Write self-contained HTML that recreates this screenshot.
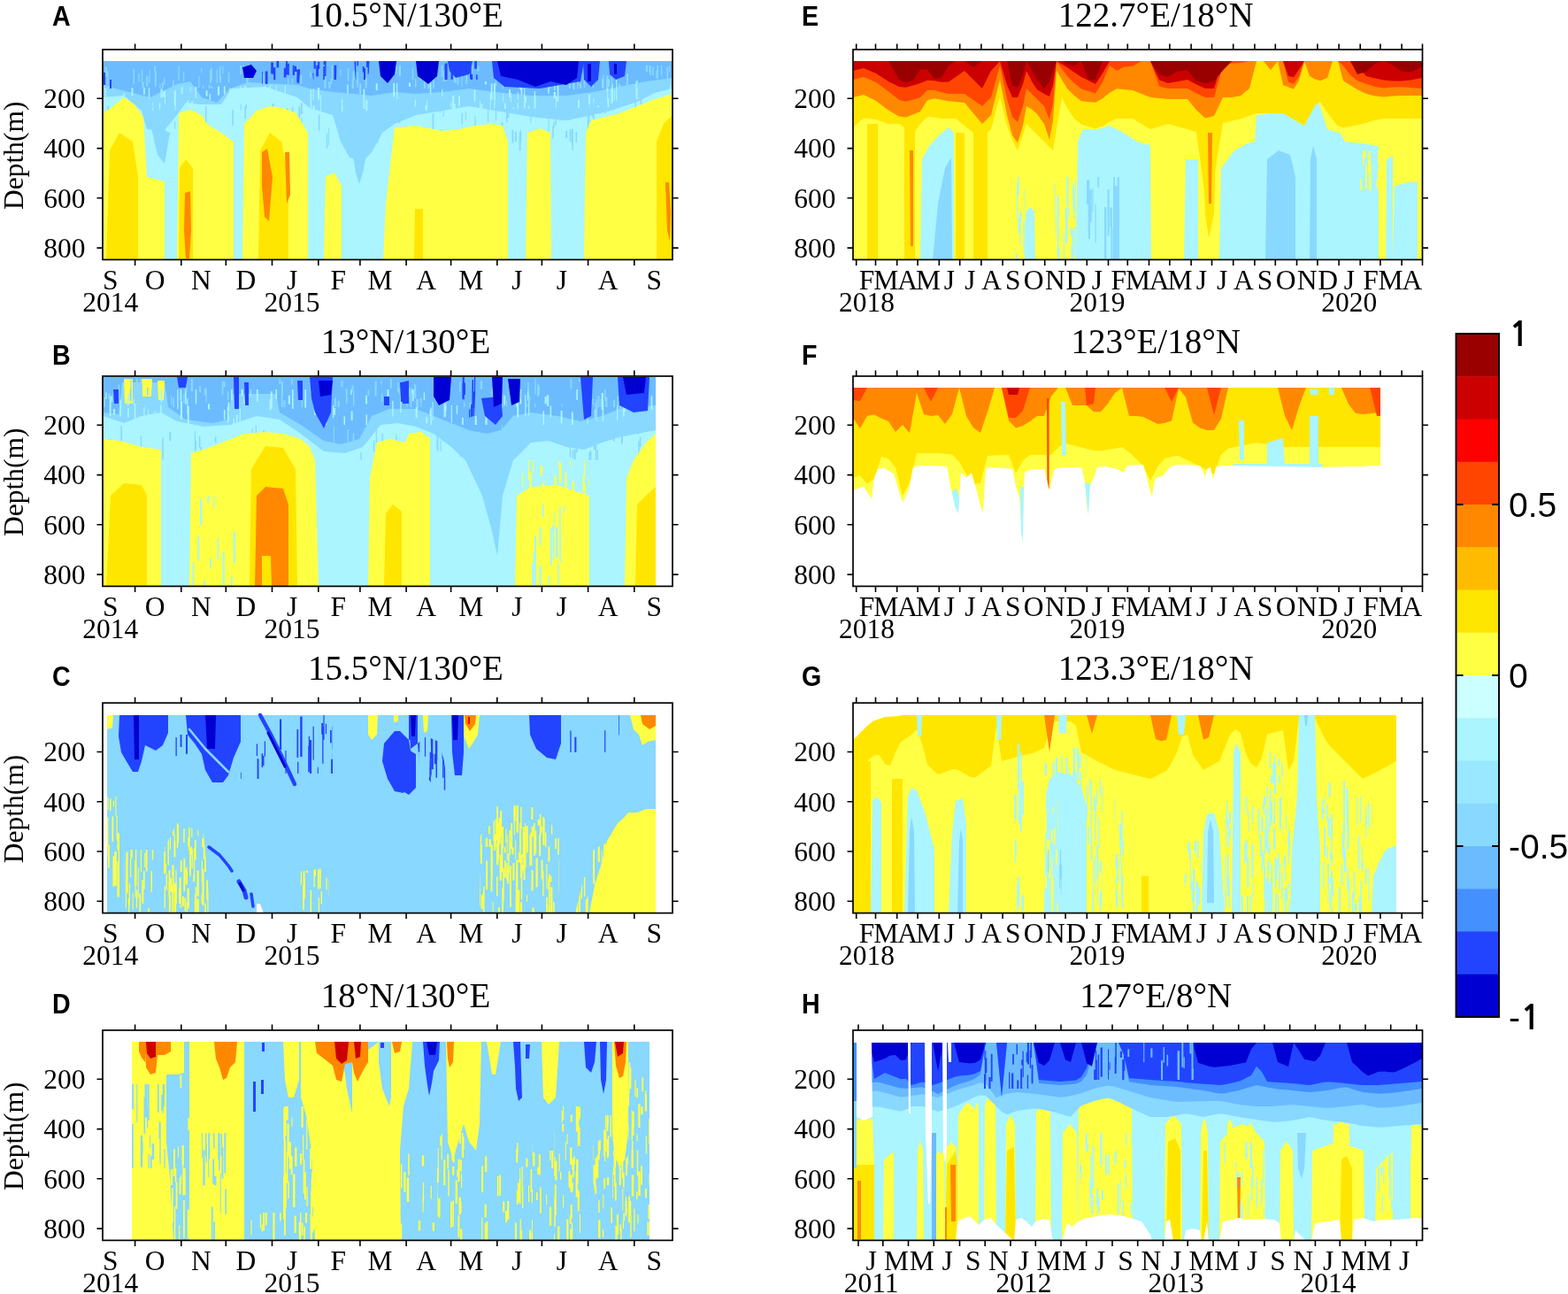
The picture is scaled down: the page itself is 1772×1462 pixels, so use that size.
<!DOCTYPE html><html><head><meta charset="utf-8"><style>html,body{margin:0;padding:0;background:#fff;overflow:hidden}svg{display:block} .s{font-family:'Liberation Serif',serif;font-size:31.5px} .t{font-family:'Liberation Serif',serif;font-size:39px} .l{font-family:'Liberation Sans',sans-serif;font-weight:bold;font-size:30.8px} .c{font-family:'Liberation Sans',sans-serif;font-size:39px}</style></head><body>
<svg width="1772" height="1462" viewBox="0 0 1772 1462">
<rect width="1772" height="1462" fill="#fff"/>
<clipPath id="cpA"><rect x="116" y="56" width="644" height="237.4"/></clipPath>
<g clip-path="url(#cpA)">
<polygon points="116.0,69.0 760.0,69.0 760.0,294.0 116.0,294.0" fill="#aaf5ff"/>
<polygon points="116.0,69.0 116.0,110.0 140.0,108.0 160.0,125.0 166.0,146.0 185.0,148.0 200.0,130.0 210.0,116.0 228.0,118.0 250.0,118.0 262.0,100.0 300.0,98.0 336.0,110.0 350.0,122.0 376.0,130.0 385.0,160.0 395.0,178.0 410.0,182.0 420.0,172.0 432.0,150.0 446.0,140.0 470.0,130.0 500.0,125.0 530.0,120.0 560.0,125.0 600.0,132.0 640.0,136.0 660.0,132.0 690.0,125.0 720.0,115.0 740.0,105.0 760.0,100.0 760.0,69.0" fill="#88d8ff"/>
<polygon points="398.0,170.0 402.0,195.0 406.0,208.0 410.0,195.0 414.0,175.0" fill="#88d8ff"/>
<polygon points="170.0,140.0 178.0,175.0 186.0,185.0 192.0,150.0" fill="#88d8ff"/>
<polygon points="116.0,69.0 116.0,95.0 130.0,100.0 146.0,104.0 170.0,110.0 200.0,95.0 215.0,92.0 228.0,110.0 245.0,116.0 260.0,100.0 280.0,93.0 336.0,96.0 350.0,100.0 376.0,104.0 400.0,106.0 420.0,108.0 446.0,104.0 470.0,106.0 500.0,104.0 530.0,100.0 560.0,104.0 600.0,108.0 640.0,108.0 670.0,104.0 700.0,98.0 730.0,92.0 760.0,88.0 760.0,69.0" fill="#6cbbff"/>
<clipPath id="sc66"><polygon points="116.0,100.0 760.0,88.0 760.0,120.0 116.0,130.0"/></clipPath><path clip-path="url(#sc66)" fill="#aaf5ff" d="M737.6,122.0h1.7v9.7h-1.7zM252.9,88.0h1.6v18.6h-1.6zM251.7,119.2h1.3v19.2h-1.3zM172.2,115.5h1.1v9.7h-1.1zM325.0,107.3h1.4v15.0h-1.4zM392.2,95.8h1.5v10.0h-1.5zM553.7,105.1h1.1v21.6h-1.1zM359.0,99.0h2.1v13.5h-2.1zM118.7,98.1h1.5v18.7h-1.5zM128.5,111.3h1.6v12.6h-1.6zM213.9,81.1h1.0v16.7h-1.0zM212.1,113.1h1.2v7.2h-1.2zM535.5,101.5h1.9v12.9h-1.9zM315.4,113.2h1.6v22.6h-1.6zM118.0,82.0h1.8v19.0h-1.8zM725.2,118.5h1.0v12.6h-1.0zM569.9,116.4h2.0v8.3h-2.0zM204.7,85.0h2.0v21.1h-2.0zM690.5,96.7h2.0v20.0h-2.0zM732.3,120.8h2.1v8.6h-2.1zM468.6,113.3h1.4v7.3h-1.4zM294.4,119.1h1.4v7.1h-1.4zM276.2,84.7h1.1v23.8h-1.1zM696.2,89.1h1.1v24.6h-1.1zM687.5,79.3h1.1v18.4h-1.1zM410.5,100.8h1.8v22.3h-1.8zM290.5,110.5h2.0v10.5h-2.0zM330.2,119.3h1.7v16.2h-1.7zM691.7,95.4h1.3v18.9h-1.3zM157.7,89.1h1.1v10.2h-1.1zM353.5,100.5h1.1v12.5h-1.1zM558.0,93.9h1.8v18.9h-1.8zM196.6,102.7h1.8v16.4h-1.8zM588.8,88.7h1.4v18.8h-1.4zM306.1,82.4h1.5v14.6h-1.5zM592.2,94.0h1.1v24.9h-1.1zM573.0,122.4h1.8v11.1h-1.8zM749.4,119.3h1.9v14.8h-1.9zM406.5,92.6h1.1v13.8h-1.1zM596.7,119.7h1.7v8.7h-1.7zM286.5,105.2h1.1v19.2h-1.1zM629.6,90.0h1.8v24.6h-1.8zM575.0,101.1h1.9v8.8h-1.9zM254.6,116.2h1.3v10.5h-1.3zM238.9,89.4h1.1v10.4h-1.1zM543.5,117.2h1.9v17.2h-1.9zM236.6,106.3h1.5v6.7h-1.5zM444.3,85.8h1.9v23.5h-1.9zM329.3,115.2h1.7v23.8h-1.7zM424.7,84.9h2.1v17.0h-2.1zM509.3,114.5h1.1v6.8h-1.1zM756.0,96.2h2.2v17.4h-2.2zM300.8,106.7h1.2v7.1h-1.2zM265.8,112.6h2.2v11.6h-2.2zM212.3,115.5h1.5v16.6h-1.5zM718.5,91.8h2.1v20.3h-2.1zM694.1,101.8h1.0v11.8h-1.0zM220.7,102.0h1.2v8.9h-1.2zM603.5,108.4h2.1v22.8h-2.1zM259.3,99.7h1.2v20.8h-1.2zM197.8,101.4h1.0v23.0h-1.0zM554.8,94.4h1.8v18.2h-1.8zM512.7,117.2h2.0v23.8h-2.0zM547.9,88.3h2.0v7.1h-2.0zM666.0,83.4h1.8v13.1h-1.8zM150.5,84.7h2.1v6.8h-2.1zM653.7,114.1h1.2v24.7h-1.2zM627.9,109.0h1.2v19.1h-1.2zM584.7,104.5h1.3v24.4h-1.3zM603.7,102.9h1.3v13.5h-1.3zM385.9,112.3h1.6v23.5h-1.6zM574.9,80.4h1.1v16.1h-1.1zM518.2,108.5h1.8v11.4h-1.8zM271.3,81.8h1.2v23.9h-1.2zM179.8,116.4h1.5v7.2h-1.5zM686.1,98.9h1.1v16.3h-1.1zM220.3,80.3h2.0v21.8h-2.0zM665.0,106.8h1.9v22.5h-1.9zM592.1,107.9h1.6v24.2h-1.6zM592.8,109.0h2.1v7.0h-2.1zM576.8,104.8h1.0v10.9h-1.0zM480.4,119.2h1.7v11.5h-1.7zM586.4,83.4h2.2v16.5h-2.2zM648.0,84.7h1.2v16.6h-1.2zM311.6,86.2h1.2v15.5h-1.2zM626.2,88.2h1.2v14.1h-1.2zM276.0,112.4h2.0v7.4h-2.0zM214.6,91.6h1.0v12.1h-1.0zM579.1,121.7h2.1v9.0h-2.1zM321.5,109.3h1.3v22.4h-1.3zM686.5,110.9h1.7v12.7h-1.7zM304.6,91.6h1.4v16.9h-1.4zM215.9,114.2h2.1v24.5h-2.1zM184.0,103.2h1.9v6.2h-1.9zM276.0,95.4h2.1v22.6h-2.1zM181.5,100.4h2.1v10.0h-2.1zM680.4,77.2h1.8v22.6h-1.8zM499.2,100.8h1.2v8.4h-1.2zM511.1,108.0h2.1v17.7h-2.1zM670.4,111.0h1.2v23.0h-1.2zM148.5,98.7h1.9v9.3h-1.9zM675.3,119.1h1.9v9.8h-1.9zM211.3,114.4h1.8v15.2h-1.8zM604.1,107.0h1.2v15.4h-1.2zM321.6,94.3h1.3v22.7h-1.3zM139.5,105.1h1.5v19.3h-1.5zM350.6,101.4h1.6v21.2h-1.6zM625.7,104.1h2.2v7.1h-2.2zM255.0,117.8h1.4v11.2h-1.4zM448.1,87.8h1.2v24.3h-1.2zM685.3,85.5h1.9v17.0h-1.9zM232.7,102.2h1.8v6.5h-1.8zM482.0,113.7h1.4v11.4h-1.4zM619.2,89.7h1.5v15.7h-1.5zM353.5,119.4h2.2v6.4h-2.2zM224.9,122.8h1.3v12.3h-1.3zM462.0,90.6h2.1v7.5h-2.1zM568.2,105.1h1.0v10.2h-1.0zM167.9,93.9h1.3v17.0h-1.3zM361.8,107.2h1.1v21.7h-1.1zM485.9,91.9h1.4v13.9h-1.4zM162.1,86.0h1.7v20.7h-1.7zM186.0,102.2h1.0v15.3h-1.0zM296.7,111.5h1.2v16.0h-1.2zM413.3,113.2h2.0v24.2h-2.0zM747.2,122.1h2.0v12.4h-2.0zM558.3,103.7h1.2v20.3h-1.2zM652.9,112.7h1.9v11.3h-1.9zM587.9,78.2h1.2v24.4h-1.2zM542.1,113.7h1.0v9.2h-1.0zM246.0,84.8h2.1v22.8h-2.1z"/>
<clipPath id="sc67"><polygon points="116.0,74.0 760.0,74.0 760.0,100.0 116.0,100.0"/></clipPath><path clip-path="url(#sc67)" fill="#88d8ff" d="M224.3,86.0h1.2v13.0h-1.2zM513.0,83.7h1.7v10.0h-1.7zM514.7,81.6h1.1v11.9h-1.1zM357.6,72.6h2.1v14.6h-2.1zM559.9,82.1h1.2v15.5h-1.2zM257.8,82.0h1.5v11.5h-1.5zM521.4,84.9h1.2v13.1h-1.2zM329.6,88.8h1.3v6.2h-1.3zM392.7,77.0h1.6v14.7h-1.6zM247.9,85.7h2.1v7.2h-2.1zM474.6,80.1h1.8v10.6h-1.8zM647.0,82.3h1.8v16.6h-1.8zM403.1,81.6h1.6v17.3h-1.6zM366.4,86.4h2.0v13.9h-2.0zM516.6,79.4h1.7v16.9h-1.7zM371.3,92.5h2.2v11.9h-2.2zM160.7,92.7h2.1v7.2h-2.1zM278.5,86.8h2.1v10.0h-2.1zM403.2,87.3h2.1v7.8h-2.1zM207.0,81.3h1.3v10.4h-1.3zM365.8,74.9h1.3v6.0h-1.3zM384.3,78.8h1.1v7.0h-1.1zM271.2,73.7h1.9v10.4h-1.9zM244.7,78.8h1.4v14.7h-1.4zM412.7,88.0h2.0v15.8h-2.0zM174.2,74.4h1.8v7.9h-1.8zM655.0,94.1h1.9v10.1h-1.9zM118.8,75.6h2.1v11.1h-2.1zM567.7,91.2h1.3v13.4h-1.3zM526.3,77.6h1.8v17.5h-1.8zM616.9,88.6h2.0v8.6h-2.0zM235.7,95.8h2.0v5.8h-2.0zM503.1,81.1h1.2v10.9h-1.2zM334.5,68.8h2.1v17.4h-2.1zM274.6,72.1h2.1v10.9h-2.1zM296.2,82.2h1.0v12.6h-1.0zM729.9,70.1h2.1v11.3h-2.1zM733.4,67.4h1.9v14.8h-1.9zM500.6,80.1h1.6v12.2h-1.6zM681.2,83.9h1.3v16.7h-1.3zM165.2,85.9h2.2v12.2h-2.2zM533.3,72.0h1.1v14.8h-1.1zM228.9,96.5h1.2v5.9h-1.2zM201.5,74.6h1.3v16.5h-1.3zM737.0,75.4h1.6v9.7h-1.6zM184.9,88.1h1.6v7.7h-1.6zM561.7,70.6h1.4v11.3h-1.4zM756.0,67.5h1.1v13.9h-1.1zM652.2,90.8h1.5v17.9h-1.5zM150.5,77.5h1.6v17.6h-1.6zM398.6,80.6h2.0v10.1h-2.0zM742.5,72.2h1.5v15.6h-1.5zM594.7,87.4h1.4v15.4h-1.4zM659.8,82.0h1.8v16.9h-1.8zM669.7,93.3h1.3v6.1h-1.3zM591.0,94.0h2.1v8.4h-2.1zM227.0,77.0h1.2v5.3h-1.2zM643.0,84.1h1.8v15.7h-1.8zM397.7,89.1h2.2v17.6h-2.2zM492.2,74.3h1.9v8.2h-1.9zM120.9,80.2h1.5v15.6h-1.5zM156.2,83.3h1.5v8.7h-1.5zM373.7,88.5h1.4v6.3h-1.4zM168.6,78.6h1.1v15.2h-1.1zM690.8,85.1h1.4v16.1h-1.4zM646.9,82.6h1.4v9.2h-1.4zM238.1,76.8h1.8v14.4h-1.8zM662.1,73.4h2.1v9.3h-2.1zM297.6,83.7h1.0v11.5h-1.0zM436.6,81.0h1.9v5.5h-1.9zM685.4,85.3h2.1v16.0h-2.1zM465.8,77.0h1.4v13.1h-1.4zM693.1,73.6h1.3v13.4h-1.3zM350.2,80.6h1.4v7.1h-1.4zM336.7,88.3h1.1v13.4h-1.1zM746.9,71.1h1.3v14.5h-1.3zM374.9,73.7h1.4v17.6h-1.4zM325.1,89.0h1.2v15.8h-1.2zM755.3,93.7h1.7v7.3h-1.7zM601.0,92.2h1.9v12.8h-1.9zM606.7,80.8h1.2v8.1h-1.2zM450.8,70.2h2.2v15.8h-2.2zM489.0,87.8h1.7v12.8h-1.7zM498.7,69.9h1.6v16.6h-1.6zM699.0,94.5h2.0v7.2h-2.0zM567.9,82.1h1.2v7.6h-1.2zM331.1,70.0h1.4v14.8h-1.4zM734.1,68.6h1.7v16.4h-1.7zM741.3,79.5h1.9v9.2h-1.9zM447.4,73.9h1.1v9.3h-1.1zM593.4,75.4h1.9v9.3h-1.9zM247.8,74.7h1.6v13.6h-1.6zM339.2,85.0h2.0v10.1h-2.0zM479.0,88.1h1.8v16.2h-1.8zM707.9,83.5h2.1v17.0h-2.1zM182.9,93.0h1.8v10.1h-1.8zM468.9,89.0h1.5v9.4h-1.5zM620.4,95.2h2.0v6.5h-2.0zM483.4,88.5h2.2v17.2h-2.2zM753.4,75.7h1.7v16.0h-1.7zM720.0,90.1h1.1v14.8h-1.1zM195.0,90.7h1.6v10.8h-1.6zM180.3,94.9h1.3v6.6h-1.3zM159.8,78.9h1.5v15.3h-1.5zM236.9,79.0h1.9v15.0h-1.9zM174.8,80.8h2.0v16.9h-2.0zM621.3,75.2h2.1v13.1h-2.1zM629.9,86.1h1.6v5.2h-1.6zM251.2,66.3h1.2v17.2h-1.2zM539.5,74.5h1.9v6.0h-1.9z"/>
<clipPath id="sc68"><polygon points="116.0,120.0 760.0,110.0 760.0,170.0 116.0,170.0"/></clipPath><path clip-path="url(#sc68)" fill="#88d8ff" d="M578.4,146.8h2.0v14.7h-2.0zM503.7,113.6h1.2v7.5h-1.2zM677.5,105.7h1.4v22.9h-1.4zM649.1,106.4h1.1v10.2h-1.1zM197.1,137.4h1.2v8.0h-1.2zM587.9,146.5h1.2v13.8h-1.2zM484.1,149.1h1.4v20.9h-1.4zM489.2,160.2h1.2v13.0h-1.2zM276.4,119.4h1.6v15.0h-1.6zM686.8,151.3h1.2v24.7h-1.2zM305.9,129.2h1.5v19.5h-1.5zM277.9,109.0h1.1v14.0h-1.1zM639.2,148.1h1.9v7.8h-1.9zM757.3,161.6h1.1v15.2h-1.1zM571.9,117.2h1.6v20.7h-1.6zM368.8,150.5h1.5v17.3h-1.5zM156.3,126.6h1.4v20.2h-1.4zM677.9,133.5h1.0v18.3h-1.0zM262.3,124.3h1.6v17.8h-1.6zM359.8,129.5h1.6v18.3h-1.6zM550.9,121.4h1.3v16.5h-1.3zM460.7,157.8h1.7v22.1h-1.7zM232.1,120.1h1.3v23.5h-1.3zM511.0,159.0h1.8v6.6h-1.8zM337.3,120.5h1.9v19.0h-1.9zM132.5,159.3h1.6v7.3h-1.6zM391.2,122.8h1.6v9.1h-1.6zM582.0,148.9h1.9v11.4h-1.9zM451.0,128.6h1.3v10.8h-1.3zM627.3,129.1h1.6v12.2h-1.6zM692.3,140.5h1.1v20.7h-1.1zM717.3,99.3h1.5v22.6h-1.5zM329.8,121.3h1.5v6.4h-1.5zM670.2,116.2h1.5v18.9h-1.5zM619.5,130.5h1.0v25.0h-1.0zM717.5,138.3h1.1v7.0h-1.1zM599.2,147.9h1.9v20.9h-1.9zM394.6,150.7h1.3v10.7h-1.3zM488.5,128.4h1.8v20.4h-1.8zM536.5,131.5h1.2v18.7h-1.2zM723.6,104.1h1.7v24.6h-1.7zM559.8,118.2h1.3v17.6h-1.3zM608.3,105.8h1.9v14.8h-1.9zM625.2,138.1h1.3v6.4h-1.3zM324.0,122.6h2.0v17.5h-2.0zM184.3,144.1h1.4v9.8h-1.4zM572.3,119.1h1.3v14.6h-1.3zM323.8,143.9h1.4v12.1h-1.4zM185.7,143.4h1.1v13.6h-1.1zM426.2,137.5h1.3v24.3h-1.3zM566.8,137.7h1.5v21.6h-1.5zM599.3,130.4h1.0v8.7h-1.0zM645.9,145.7h2.0v18.1h-2.0zM719.7,126.3h2.0v18.5h-2.0zM277.7,159.6h1.3v8.1h-1.3zM132.3,134.2h1.7v6.8h-1.7zM127.2,119.3h1.5v12.9h-1.5zM642.7,116.3h1.9v19.8h-1.9zM309.2,162.5h1.7v9.7h-1.7zM255.2,156.3h1.2v11.6h-1.2zM663.8,129.2h1.7v17.2h-1.7zM307.5,113.8h1.9v20.8h-1.9zM624.3,141.9h1.5v14.5h-1.5zM284.7,145.9h1.7v17.5h-1.7zM573.3,115.0h2.0v18.1h-2.0zM497.8,146.4h1.1v14.5h-1.1zM171.6,104.7h1.5v16.3h-1.5zM271.8,112.5h1.1v12.1h-1.1zM646.5,159.9h1.3v12.4h-1.3zM121.3,114.3h2.0v20.0h-2.0zM668.2,112.4h2.0v19.2h-2.0zM453.4,128.0h1.2v7.9h-1.2zM131.1,128.9h1.5v8.6h-1.5zM483.3,104.6h1.9v18.4h-1.9zM521.6,127.7h1.4v13.0h-1.4zM584.7,104.7h1.8v11.2h-1.8zM665.4,117.6h1.1v21.1h-1.1zM496.8,103.2h1.2v24.3h-1.2zM307.4,132.0h2.0v16.8h-2.0zM381.7,124.1h1.4v17.0h-1.4zM650.4,148.9h1.7v11.8h-1.7zM670.3,148.3h1.9v8.9h-1.9zM439.0,109.0h1.2v23.3h-1.2zM632.4,111.5h1.2v25.0h-1.2zM563.9,144.6h1.9v6.7h-1.9zM586.7,149.0h1.9v23.3h-1.9zM392.0,141.8h1.5v23.7h-1.5zM643.7,146.3h1.8v13.7h-1.8zM428.2,137.2h1.2v17.2h-1.2zM371.1,144.6h1.0v19.3h-1.0zM415.2,145.1h1.2v6.4h-1.2zM682.8,111.7h1.8v16.3h-1.8zM539.0,149.1h1.1v13.7h-1.1zM340.5,133.0h1.1v17.4h-1.1zM525.9,125.9h1.1v9.1h-1.1zM339.8,113.4h2.0v15.6h-2.0zM279.8,160.3h1.5v15.7h-1.5zM556.3,149.6h1.5v20.7h-1.5zM500.6,107.7h1.1v24.3h-1.1zM387.4,112.3h1.6v7.1h-1.6z"/>
<polygon points="117.0,82.0 119.0,82.0 119.0,96.0 117.0,96.0" fill="#2244ff"/>
<polygon points="124.0,90.0 126.0,90.0 126.0,100.0 124.0,100.0" fill="#2244ff"/>
<polygon points="506.0,69.0 534.0,69.0 530.0,84.0 515.0,88.0 508.0,80.0" fill="#2244ff"/>
<polygon points="556.0,69.0 660.0,69.0 656.0,92.0 610.0,100.0 570.0,98.0 558.0,88.0" fill="#2244ff"/>
<clipPath id="sc69"><polygon points="296.0,69.0 340.0,69.0 338.0,95.0 296.0,95.0"/></clipPath><path clip-path="url(#sc69)" fill="#2244ff" d="M308.8,77.4h1.4v7.5h-1.4zM330.9,78.3h2.1v6.8h-2.1zM330.8,73.7h1.9v11.2h-1.9zM299.8,80.5h2.7v15.3h-2.7zM332.9,74.8h2.4v6.3h-2.4zM320.8,76.8h2.7v10.7h-2.7zM306.2,70.5h2.7v13.0h-2.7zM312.6,68.0h2.5v8.6h-2.5zM337.3,85.9h2.1v10.9h-2.1zM323.1,64.9h1.8v8.3h-1.8zM309.2,75.9h2.1v14.4h-2.1zM322.8,72.1h2.6v12.4h-2.6zM294.7,81.0h2.1v17.6h-2.1zM324.9,71.7h1.9v13.0h-1.9zM336.6,78.3h2.4v9.2h-2.4zM335.4,78.5h2.9v14.9h-2.9z"/>
<clipPath id="sc70"><polygon points="352.0,69.0 382.0,69.0 380.0,90.0 354.0,90.0"/></clipPath><path clip-path="url(#sc70)" fill="#2244ff" d="M354.6,67.4h2.1v10.4h-2.1zM377.4,73.7h2.9v17.1h-2.9zM381.8,69.3h2.7v7.0h-2.7zM357.2,73.7h2.8v12.9h-2.8zM367.1,68.3h1.4v17.8h-1.4zM365.7,66.5h2.3v6.7h-2.3zM352.3,82.7h2.1v13.1h-2.1zM365.3,75.0h1.6v15.1h-1.6zM359.1,69.8h2.1v8.2h-2.1z"/>
<clipPath id="sc71"><polygon points="400.0,69.0 418.0,69.0 416.0,90.0 402.0,90.0"/></clipPath><path clip-path="url(#sc71)" fill="#2244ff" d="M403.5,64.8h1.5v9.5h-1.5zM415.6,62.8h1.8v20.9h-1.8zM409.8,75.1h1.8v6.4h-1.8zM414.1,63.5h2.7v12.4h-2.7zM400.4,69.5h1.9v21.6h-1.9zM410.9,77.0h2.1v19.2h-2.1z"/>
<clipPath id="sc72"><polygon points="500.0,69.0 540.0,69.0 540.0,90.0 500.0,90.0"/></clipPath><path clip-path="url(#sc72)" fill="#2244ff" d="M520.4,77.1h2.9v8.7h-2.9zM503.2,80.3h1.7v9.3h-1.7zM538.0,84.6h1.6v8.6h-1.6zM536.2,61.5h2.7v16.3h-2.7zM509.6,67.8h2.2v22.0h-2.2zM531.0,69.7h1.3v19.2h-1.3zM502.5,72.6h2.4v20.6h-2.4zM517.2,62.7h3.0v17.1h-3.0zM530.1,66.4h2.5v16.6h-2.5zM531.7,83.8h2.5v11.9h-2.5zM522.7,66.5h2.2v11.6h-2.2zM503.3,71.4h2.3v19.7h-2.3z"/>
<polygon points="274.0,76.0 284.0,73.0 290.0,80.0 286.0,88.0 276.0,88.0" fill="#0000d2"/>
<polygon points="428.0,69.0 448.0,69.0 446.0,84.0 438.0,94.0 430.0,86.0" fill="#0000d2"/>
<polygon points="470.0,69.0 496.0,69.0 494.0,86.0 484.0,95.0 472.0,86.0" fill="#0000d2"/>
<polygon points="562.0,69.0 654.0,69.0 652.0,88.0 640.0,96.0 622.0,92.0 605.0,98.0 585.0,90.0 566.0,86.0" fill="#0000d2"/>
<polygon points="659.0,69.0 678.0,69.0 676.0,90.0 668.0,98.0 660.0,90.0" fill="#2244ff"/>
<polygon points="688.0,69.0 708.0,69.0 706.0,86.0 696.0,90.0 689.0,84.0" fill="#2244ff"/>
<polygon points="664.0,72.0 668.0,72.0 668.0,92.0 664.0,92.0" fill="#0000d2"/>
<polygon points="694.0,72.0 697.0,72.0 697.0,84.0 694.0,84.0" fill="#0000d2"/>
<polygon points="116.0,294.0 116.0,128.0 125.0,122.0 140.0,110.0 152.0,118.0 162.0,132.0 166.0,200.0 186.0,205.0 186.0,294.0 186.0,294.0" fill="#ffff44"/>
<polygon points="200.0,294.0 200.0,294.0 202.0,128.0 215.0,124.0 228.0,130.0 234.0,140.0 250.0,150.0 264.0,160.0 264.0,294.0 264.0,294.0" fill="#ffff44"/>
<polygon points="274.0,294.0 274.0,294.0 276.0,140.0 290.0,125.0 305.0,120.0 320.0,122.0 335.0,128.0 348.0,150.0 348.0,294.0 348.0,294.0" fill="#ffff44"/>
<polygon points="366.0,294.0 366.0,294.0 368.0,200.0 378.0,195.0 386.0,210.0 386.0,294.0 386.0,294.0" fill="#ffff44"/>
<polygon points="433.0,294.0 433.0,294.0 436.0,230.0 446.0,144.0 470.0,142.0 500.0,148.0 518.0,146.0 536.0,142.0 555.0,140.0 568.0,142.0 574.0,160.0 574.0,294.0 574.0,294.0" fill="#ffff44"/>
<polygon points="594.0,294.0 594.0,294.0 596.0,150.0 610.0,145.0 622.0,150.0 623.0,294.0 623.0,294.0" fill="#ffff44"/>
<polygon points="660.0,294.0 660.0,294.0 662.0,150.0 668.0,136.0 700.0,128.0 740.0,112.0 760.0,106.0 760.0,294.0" fill="#ffff44"/>
<polygon points="120.0,294.0 120.0,294.0 124.0,170.0 135.0,150.0 150.0,160.0 156.0,200.0 156.0,294.0 156.0,294.0" fill="#ffe600"/>
<polygon points="202.0,294.0 202.0,294.0 203.0,190.0 210.0,180.0 218.0,190.0 218.0,294.0 218.0,294.0" fill="#ffe600"/>
<polygon points="292.0,294.0 292.0,294.0 294.0,170.0 305.0,150.0 318.0,160.0 326.0,200.0 326.0,294.0 326.0,294.0" fill="#ffe600"/>
<polygon points="468.0,294.0 468.0,294.0 469.0,236.0 478.0,236.0 478.0,294.0 478.0,294.0" fill="#ffe600"/>
<polygon points="742.0,294.0 742.0,294.0 742.0,160.0 750.0,140.0 760.0,130.0 760.0,294.0" fill="#ffe600"/>
<polygon points="209.0,218.0 215.0,216.0 216.0,260.0 214.0,292.0 210.0,292.0 208.0,260.0" fill="#ff8800"/>
<polygon points="296.0,172.0 302.0,168.0 308.0,200.0 304.0,250.0 299.0,245.0 296.0,210.0" fill="#ff8800"/>
<polygon points="322.0,172.0 327.0,172.0 328.0,220.0 324.0,230.0" fill="#ff8800"/>
<polygon points="752.0,206.0 756.0,206.0 758.0,240.0 757.0,272.0 754.0,260.0" fill="#ff8800"/>
</g>
<rect x="116" y="56" width="644" height="237.4" fill="none" stroke="#000" stroke-width="1.7"/>
<text x="96.5" y="122.1" text-anchor="end" class="s">200</text>
<text x="96.5" y="178.4" text-anchor="end" class="s">400</text>
<text x="96.5" y="234.6" text-anchor="end" class="s">600</text>
<text x="96.5" y="290.9" text-anchor="end" class="s">800</text>
<path d="M109.5,111.3H116M760,111.3H766.5M109.5,167.6H116M760,167.6H766.5M109.5,223.8H116M760,223.8H766.5M109.5,280.1H116M760,280.1H766.5M152.6,49.5V56M152.6,293.4V299.9M204.8,49.5V56M204.8,293.4V299.9M255.3,49.5V56M255.3,293.4V299.9M307.5,49.5V56M307.5,293.4V299.9M359.8,49.5V56M359.8,293.4V299.9M406.9,49.5V56M406.9,293.4V299.9M459.1,49.5V56M459.1,293.4V299.9M509.6,49.5V56M509.6,293.4V299.9M561.8,49.5V56M561.8,293.4V299.9M612.4,49.5V56M612.4,293.4V299.9M664.6,49.5V56M664.6,293.4V299.9M716.8,49.5V56M716.8,293.4V299.9" stroke="#000" stroke-width="1.6" fill="none"/>
<text x="124.7" y="326.6" text-anchor="middle" class="s">S</text>
<text x="175.2" y="326.6" text-anchor="middle" class="s">O</text>
<text x="227.4" y="326.6" text-anchor="middle" class="s">N</text>
<text x="277.9" y="326.6" text-anchor="middle" class="s">D</text>
<text x="330.1" y="326.6" text-anchor="middle" class="s">J</text>
<text x="382.3" y="326.6" text-anchor="middle" class="s">F</text>
<text x="429.5" y="326.6" text-anchor="middle" class="s">M</text>
<text x="481.7" y="326.6" text-anchor="middle" class="s">A</text>
<text x="532.2" y="326.6" text-anchor="middle" class="s">M</text>
<text x="584.4" y="326.6" text-anchor="middle" class="s">J</text>
<text x="634.9" y="326.6" text-anchor="middle" class="s">J</text>
<text x="687.1" y="326.6" text-anchor="middle" class="s">A</text>
<text x="739.3" y="326.6" text-anchor="middle" class="s">S</text>
<text x="124.7" y="351.9" text-anchor="middle" class="s">2014</text>
<text x="330.1" y="351.9" text-anchor="middle" class="s">2015</text>
<text transform="translate(25.5,175.7) rotate(-90)" text-anchor="middle" class="s">Depth(m)</text>
<text x="458.5" y="30.0" text-anchor="middle" class="t">10.5°N/130°E</text>
<text transform="translate(59,28.5) scale(0.93,1)" class="l">A</text>
<clipPath id="cpB"><rect x="116" y="425" width="644" height="237.4"/></clipPath>
<g clip-path="url(#cpB)">
<polygon points="116.0,426.0 741.0,426.0 741.0,663.0 116.0,663.0" fill="#aaf5ff"/>
<polygon points="116.0,426.0 116.0,470.0 140.0,478.0 160.0,470.0 182.0,466.0 200.0,476.0 230.0,482.0 260.0,480.0 290.0,470.0 316.0,474.0 340.0,490.0 366.0,510.0 390.0,512.0 410.0,505.0 430.0,480.0 450.0,478.0 470.0,482.0 490.0,490.0 510.0,505.0 526.0,520.0 545.0,560.0 556.0,600.0 562.0,628.0 568.0,560.0 580.0,520.0 600.0,500.0 620.0,498.0 640.0,505.0 660.0,508.0 680.0,500.0 700.0,494.0 720.0,490.0 741.0,486.0 741.0,426.0" fill="#88d8ff"/>
<polygon points="116.0,426.0 116.0,466.0 134.0,468.0 138.0,432.0 186.0,432.0 190.0,460.0 210.0,474.0 240.0,478.0 258.0,474.0 262.0,445.0 312.0,445.0 316.0,466.0 340.0,480.0 366.0,498.0 385.0,502.0 406.0,496.0 420.0,470.0 440.0,462.0 470.0,462.0 490.0,470.0 510.0,478.0 530.0,486.0 550.0,490.0 566.0,486.0 580.0,470.0 600.0,466.0 630.0,470.0 656.0,476.0 680.0,470.0 700.0,462.0 720.0,460.0 741.0,458.0 741.0,426.0" fill="#6cbbff"/>
<polygon points="140.0,428.0 150.0,428.0 150.0,456.0 141.0,456.0" fill="#ffff44"/>
<polygon points="160.0,428.0 172.0,428.0 171.0,448.0 161.0,448.0" fill="#ffff44"/>
<polygon points="178.0,430.0 186.0,430.0 185.0,452.0 179.0,452.0" fill="#ffff44"/>
<clipPath id="sc73"><polygon points="116.0,440.0 741.0,440.0 741.0,480.0 116.0,480.0"/></clipPath><path clip-path="url(#sc73)" fill="#aaf5ff" d="M705.0,454.7h2.0v10.0h-2.0zM220.8,438.9h1.5v17.7h-1.5zM534.5,451.5h1.5v10.4h-1.5zM252.9,463.0h1.5v11.3h-1.5zM618.1,446.2h2.1v12.7h-2.1zM470.6,451.0h1.9v10.5h-1.9zM181.5,433.7h2.0v20.5h-2.0zM263.5,473.0h1.6v10.1h-1.6zM127.8,461.9h2.1v6.3h-2.1zM548.5,458.1h2.1v22.9h-2.1zM651.3,436.6h1.6v15.3h-1.6zM211.8,461.0h1.8v19.7h-1.8zM593.2,446.0h1.2v24.4h-1.2zM344.3,435.9h1.7v24.5h-1.7zM212.0,459.0h1.8v23.2h-1.8zM413.5,468.5h1.5v19.1h-1.5zM717.7,433.0h1.7v24.4h-1.7zM203.9,452.9h2.1v20.4h-2.1zM150.7,451.1h1.3v6.9h-1.3zM481.2,471.2h2.0v7.4h-2.0zM486.4,460.6h1.4v19.7h-1.4zM364.5,436.2h1.6v24.6h-1.6zM188.7,472.2h1.1v10.9h-1.1zM597.1,447.8h1.2v22.0h-1.2zM700.8,451.6h1.1v9.8h-1.1zM143.7,450.2h1.9v8.4h-1.9zM515.8,458.1h1.4v9.9h-1.4zM371.9,444.7h1.7v12.0h-1.7zM522.1,471.8h1.7v13.4h-1.7zM174.4,464.5h1.4v17.3h-1.4zM466.1,436.0h1.6v17.3h-1.6zM235.0,456.3h2.1v6.2h-2.1zM679.7,444.0h2.1v19.3h-2.1zM261.1,435.0h1.7v17.4h-1.7zM119.2,443.3h1.4v7.7h-1.4zM584.2,454.1h2.0v17.7h-2.0zM330.0,439.0h1.6v22.9h-1.6zM125.9,447.2h1.3v7.4h-1.3zM413.1,446.7h1.8v9.7h-1.8zM396.7,464.6h1.9v10.5h-1.9zM123.7,447.2h1.9v23.0h-1.9zM270.7,460.7h1.2v22.9h-1.2zM613.5,464.2h1.6v20.6h-1.6zM536.7,469.9h2.1v13.7h-2.1zM633.6,464.1h2.0v14.4h-2.0zM388.5,470.3h1.5v14.4h-1.5zM200.3,438.1h1.3v24.2h-1.3zM305.8,442.2h1.9v19.5h-1.9zM355.3,448.6h1.7v20.4h-1.7zM680.7,454.3h1.5v21.8h-1.5zM376.0,458.0h1.3v14.0h-1.3zM443.1,452.9h1.4v17.6h-1.4zM272.6,433.3h2.2v13.9h-2.2zM673.7,457.0h1.0v19.1h-1.0zM396.2,439.5h1.3v6.6h-1.3zM211.3,450.3h1.1v18.0h-1.1zM354.9,452.7h2.0v15.3h-2.0zM560.4,444.7h2.1v9.4h-2.1zM144.7,445.0h1.7v6.7h-1.7zM569.3,447.1h1.9v10.5h-1.9zM583.2,436.7h2.0v23.0h-2.0zM282.7,433.6h1.1v14.7h-1.1zM645.9,465.5h1.9v21.7h-1.9zM735.6,447.4h1.7v15.7h-1.7zM703.8,459.0h1.9v11.5h-1.9zM501.6,449.3h2.2v22.2h-2.2zM162.4,459.5h1.2v9.8h-1.2zM485.6,463.5h1.3v6.3h-1.3zM671.9,462.5h1.1v10.6h-1.1zM143.9,461.0h1.9v10.8h-1.9zM151.7,456.3h1.7v17.1h-1.7zM437.5,438.9h2.0v15.2h-2.0zM158.9,473.6h1.5v10.1h-1.5zM478.8,443.6h1.3v8.3h-1.3zM325.8,446.8h2.0v10.0h-2.0zM488.6,453.9h1.0v21.3h-1.0zM615.6,448.0h2.1v8.3h-2.1zM367.2,461.5h2.1v24.4h-2.1zM377.5,461.1h1.5v7.9h-1.5zM181.1,457.4h1.6v15.0h-1.6zM256.8,459.6h1.9v17.8h-1.9zM304.6,451.1h1.9v12.2h-1.9zM595.9,428.4h1.7v24.1h-1.7zM697.0,457.3h1.3v17.2h-1.3zM275.5,447.6h2.0v9.4h-2.0zM509.8,457.9h1.1v19.6h-1.1zM135.4,451.5h1.8v19.1h-1.8zM266.9,468.7h1.7v10.4h-1.7zM663.6,472.3h1.1v6.3h-1.1zM621.6,458.2h1.5v13.3h-1.5zM503.0,451.8h1.5v13.0h-1.5zM452.3,441.5h1.3v25.0h-1.3zM257.6,454.4h1.8v9.7h-1.8zM166.8,462.8h1.0v14.0h-1.0zM208.9,434.4h1.7v22.0h-1.7zM311.4,433.5h1.7v17.5h-1.7zM587.6,431.8h1.6v24.7h-1.6zM289.9,433.6h1.8v20.5h-1.8zM464.5,438.2h1.9v6.5h-1.9zM469.7,460.6h2.0v11.7h-2.0zM203.6,433.6h1.7v19.0h-1.7z"/>
<clipPath id="sc74"><polygon points="116.0,428.0 741.0,428.0 741.0,460.0 116.0,460.0"/></clipPath><path clip-path="url(#sc74)" fill="#88d8ff" d="M502.8,443.6h1.6v13.7h-1.6zM215.9,427.7h2.1v14.8h-2.1zM717.8,446.3h1.5v10.1h-1.5zM256.9,442.5h1.6v9.6h-1.6zM397.5,435.4h2.1v7.2h-2.1zM155.2,445.5h1.7v8.3h-1.7zM683.0,439.9h1.4v13.4h-1.4zM153.6,428.1h2.1v15.4h-2.1zM117.2,448.7h1.8v11.2h-1.8zM441.0,428.1h1.8v10.7h-1.8zM530.4,454.7h1.7v6.8h-1.7zM475.2,451.8h1.3v8.4h-1.3zM493.8,428.2h1.2v10.1h-1.2zM504.5,439.2h1.1v14.7h-1.1zM415.5,440.4h1.7v6.3h-1.7zM157.1,441.0h1.6v7.1h-1.6zM701.5,433.0h1.8v13.7h-1.8zM430.9,444.8h1.5v9.3h-1.5zM474.8,449.4h2.0v6.2h-2.0zM158.9,433.0h1.9v10.6h-1.9zM250.7,430.8h1.7v15.1h-1.7zM723.8,436.4h1.4v5.7h-1.4zM604.3,428.0h1.5v17.6h-1.5zM468.1,434.3h2.1v15.7h-2.1zM534.5,429.8h2.0v17.0h-2.0zM697.3,447.3h2.0v13.6h-2.0zM390.8,439.1h1.8v16.6h-1.8zM195.2,449.2h1.9v10.7h-1.9zM449.2,431.8h1.6v10.9h-1.6zM267.7,443.8h2.0v8.7h-2.0zM166.0,437.6h1.6v9.1h-1.6zM519.1,430.7h1.5v12.1h-1.5zM459.5,455.1h1.1v5.8h-1.1zM209.5,426.1h1.9v17.1h-1.9zM377.8,449.5h1.9v10.3h-1.9zM232.6,438.1h1.1v17.2h-1.1zM557.0,431.6h1.8v12.3h-1.8zM707.2,423.2h1.3v13.6h-1.3zM147.5,423.2h1.1v17.9h-1.1zM555.7,438.3h1.6v9.2h-1.6zM252.6,430.9h2.0v6.4h-2.0zM350.6,426.1h2.0v18.0h-2.0zM730.7,454.8h1.1v7.4h-1.1zM161.1,456.1h2.1v7.3h-2.1zM675.5,447.6h1.9v16.5h-1.9zM471.0,451.3h1.0v16.3h-1.0zM193.0,447.4h1.2v10.1h-1.2zM463.5,445.1h1.7v16.3h-1.7zM158.2,427.4h1.4v5.8h-1.4zM571.8,452.3h1.0v14.5h-1.0zM225.1,435.9h1.9v7.6h-1.9zM597.9,447.8h1.4v6.7h-1.4zM490.7,439.9h1.5v12.4h-1.5zM731.2,431.0h1.7v13.2h-1.7zM491.7,440.1h1.1v6.8h-1.1zM684.3,448.8h2.1v12.1h-2.1zM533.7,437.2h1.4v8.1h-1.4zM634.3,456.5h1.2v5.6h-1.2zM122.5,444.4h1.9v6.6h-1.9zM398.9,441.6h1.5v17.1h-1.5zM587.7,445.2h1.0v5.6h-1.0zM460.8,438.2h2.1v9.8h-2.1zM644.4,426.4h1.9v12.9h-1.9zM608.2,436.2h1.8v9.8h-1.8zM430.5,429.5h1.2v5.2h-1.2zM317.7,443.8h1.9v16.5h-1.9zM166.9,453.1h1.8v12.1h-1.8zM594.9,455.6h1.4v5.9h-1.4zM320.5,452.3h2.0v13.6h-2.0zM607.1,433.6h1.6v14.3h-1.6zM542.9,429.8h2.2v10.3h-2.2zM207.1,444.5h1.3v11.3h-1.3zM678.2,451.1h1.2v9.1h-1.2zM317.9,431.0h2.1v15.1h-2.1zM693.1,451.5h1.9v12.2h-1.9zM669.4,450.5h1.5v7.0h-1.5zM534.2,437.6h1.6v13.3h-1.6zM673.5,450.8h1.4v10.2h-1.4zM423.6,430.4h2.1v17.1h-2.1zM653.9,426.8h2.0v5.0h-2.0zM315.5,428.0h1.8v5.9h-1.8zM661.2,435.6h1.6v10.8h-1.6zM707.5,430.1h2.0v17.0h-2.0zM381.6,453.0h2.1v8.0h-2.1zM369.8,434.2h1.7v7.7h-1.7zM723.2,441.9h2.1v13.9h-2.1zM385.3,429.8h2.2v7.4h-2.2zM663.3,442.3h1.6v11.6h-1.6zM665.0,449.0h1.8v12.5h-1.8zM329.3,423.3h1.4v11.3h-1.4zM671.7,455.3h1.3v8.7h-1.3zM532.7,426.8h1.1v9.5h-1.1zM523.9,453.7h1.5v10.1h-1.5zM230.8,438.7h2.0v8.0h-2.0zM568.3,445.8h1.6v14.0h-1.6zM585.0,439.6h1.3v9.2h-1.3zM353.8,452.4h2.1v14.0h-2.1zM271.5,454.2h1.6v7.7h-1.6zM340.7,451.5h1.3v8.6h-1.3zM550.0,449.7h1.8v12.6h-1.8zM133.6,434.4h1.5v16.3h-1.5zM450.6,438.2h2.0v7.5h-2.0zM604.0,455.9h1.5v6.2h-1.5zM463.4,438.6h2.2v16.6h-2.2zM127.3,442.2h2.1v5.4h-2.1zM146.8,439.6h1.9v13.1h-1.9zM132.2,440.3h1.7v14.5h-1.7zM596.2,432.1h1.5v11.7h-1.5zM596.8,448.1h1.3v6.5h-1.3z"/>
<clipPath id="sc75"><polygon points="116.0,480.0 741.0,480.0 741.0,520.0 116.0,520.0"/></clipPath><path clip-path="url(#sc75)" fill="#88d8ff" d="M567.0,469.5h1.0v22.5h-1.0zM666.9,508.9h1.5v10.5h-1.5zM424.7,482.6h1.3v17.4h-1.3zM407.4,511.3h1.4v13.5h-1.4zM335.1,515.4h1.7v6.7h-1.7zM519.5,498.6h1.8v17.5h-1.8zM288.7,480.8h1.2v13.7h-1.2zM226.4,505.1h1.7v6.7h-1.7zM648.7,507.4h1.9v11.8h-1.9zM219.9,487.2h1.2v23.4h-1.2zM530.5,509.7h1.1v7.8h-1.1zM497.5,497.7h1.1v12.2h-1.1zM180.8,507.7h1.1v19.2h-1.1zM692.9,480.1h1.7v18.6h-1.7zM674.8,508.3h1.2v17.9h-1.2zM339.5,502.8h1.8v17.4h-1.8zM587.9,488.3h1.6v22.7h-1.6zM292.1,505.7h1.6v9.9h-1.6zM242.8,493.5h1.7v6.5h-1.7zM349.1,511.5h1.6v12.7h-1.6zM702.6,485.8h1.4v14.4h-1.4zM646.6,508.3h1.5v9.2h-1.5zM265.8,504.6h1.2v17.9h-1.2zM722.8,493.6h1.5v11.4h-1.5zM297.2,486.0h1.6v24.3h-1.6zM650.9,498.4h1.9v12.8h-1.9zM670.7,491.0h2.0v17.1h-2.0zM422.0,498.3h1.2v12.6h-1.2zM281.5,493.9h1.5v12.9h-1.5zM136.4,481.2h1.7v18.1h-1.7zM297.0,495.8h1.7v15.2h-1.7zM701.9,486.3h1.0v15.6h-1.0zM493.9,483.7h1.2v19.0h-1.2zM176.4,508.8h1.2v6.1h-1.2zM721.2,498.4h1.4v22.2h-1.4zM684.3,482.7h1.4v8.2h-1.4zM284.6,484.1h1.1v14.0h-1.1zM131.9,513.6h1.2v7.0h-1.2zM516.3,495.7h1.1v14.1h-1.1zM493.5,485.1h1.9v24.3h-1.9zM224.8,492.9h1.6v12.8h-1.6zM398.8,489.6h1.5v10.6h-1.5zM447.4,490.5h1.1v24.3h-1.1zM142.9,509.2h1.1v11.9h-1.1zM550.2,489.8h1.6v15.5h-1.6zM183.3,494.4h1.5v24.9h-1.5zM220.6,498.3h1.4v9.7h-1.4zM376.7,481.4h1.1v21.5h-1.1zM392.5,485.3h1.4v13.8h-1.4zM585.8,498.0h1.4v10.9h-1.4zM327.5,512.6h1.4v12.4h-1.4zM672.7,497.1h1.7v23.8h-1.7zM493.6,478.4h1.6v12.2h-1.6zM431.4,490.3h1.5v19.3h-1.5zM466.6,494.1h1.7v17.1h-1.7zM114.9,496.2h1.4v16.4h-1.4zM158.9,492.5h1.2v18.6h-1.2zM643.8,501.6h1.3v14.9h-1.3zM665.4,511.1h1.8v16.9h-1.8zM191.3,488.1h1.9v10.2h-1.9zM736.7,495.5h1.6v10.3h-1.6zM123.6,496.3h2.0v8.4h-2.0zM720.4,479.0h1.8v11.4h-1.8zM567.8,493.9h1.9v24.9h-1.9zM120.6,501.3h1.7v11.0h-1.7z"/>
<polygon points="128.0,440.0 134.0,440.0 134.0,456.0 129.0,456.0" fill="#2244ff"/>
<polygon points="200.0,426.0 212.0,426.0 210.0,438.0 202.0,438.0" fill="#2244ff"/>
<polygon points="264.0,426.0 270.0,426.0 270.0,462.0 265.0,462.0" fill="#2244ff"/>
<polygon points="276.0,432.0 281.0,432.0 281.0,458.0 277.0,458.0" fill="#2244ff"/>
<polygon points="336.0,430.0 342.0,430.0 342.0,452.0 337.0,452.0" fill="#2244ff"/>
<polygon points="350.0,426.0 376.0,426.0 374.0,466.0 366.0,484.0 356.0,466.0 352.0,450.0" fill="#2244ff"/>
<polygon points="452.0,432.0 460.0,432.0 460.0,454.0 453.0,454.0" fill="#2244ff"/>
<polygon points="434.0,448.0 440.0,448.0 440.0,458.0 434.0,458.0" fill="#2244ff"/>
<polygon points="544.0,450.0 566.0,448.0 568.0,470.0 560.0,480.0 548.0,470.0" fill="#2244ff"/>
<polygon points="656.0,426.0 670.0,426.0 668.0,470.0 660.0,474.0" fill="#2244ff"/>
<polygon points="698.0,426.0 734.0,426.0 732.0,464.0 716.0,466.0 700.0,458.0" fill="#2244ff"/>
<polygon points="454.0,432.0 462.0,430.0 462.0,456.0 455.0,456.0" fill="#2244ff"/>
<polygon points="360.0,430.0 376.0,430.0 374.0,446.0 362.0,448.0" fill="#0000d2"/>
<polygon points="490.0,426.0 510.0,426.0 508.0,452.0 496.0,458.0 490.0,448.0" fill="#0000d2"/>
<polygon points="556.0,426.0 568.0,426.0 567.0,456.0 558.0,460.0" fill="#0000d2"/>
<polygon points="574.0,428.0 588.0,428.0 587.0,454.0 578.0,458.0" fill="#0000d2"/>
<polygon points="704.0,426.0 730.0,426.0 728.0,444.0 708.0,446.0" fill="#0000d2"/>
<clipPath id="sc76"><polygon points="518.0,426.0 538.0,426.0 536.0,470.0 522.0,474.0 519.0,450.0"/></clipPath><path clip-path="url(#sc76)" fill="#2244ff" d="M533.4,429.1h1.9v32.1h-1.9zM522.5,437.5h1.5v13.4h-1.5zM522.8,420.1h2.0v31.2h-2.0zM522.4,432.7h2.4v15.9h-2.4zM532.1,456.8h2.7v26.0h-2.7zM537.7,463.3h1.5v13.0h-1.5zM530.1,462.5h1.3v18.8h-1.3zM536.0,421.6h1.2v32.2h-1.2zM523.8,432.6h2.1v13.5h-2.1zM535.2,442.2h2.9v32.7h-2.9z"/>
<polygon points="116.0,663.0 116.0,663.0 116.0,496.0 136.0,498.0 160.0,505.0 182.0,508.0 182.0,663.0 182.0,663.0" fill="#ffff44"/>
<polygon points="214.0,663.0 214.0,663.0 216.0,512.0 236.0,506.0 256.0,498.0 276.0,490.0 300.0,488.0 320.0,490.0 340.0,496.0 350.0,505.0 356.0,520.0 360.0,663.0 360.0,663.0" fill="#ffff44"/>
<polygon points="416.0,663.0 416.0,663.0 418.0,540.0 426.0,500.0 440.0,496.0 458.0,500.0 462.0,490.0 476.0,488.0 486.0,495.0 486.0,663.0 486.0,663.0" fill="#ffff44"/>
<polygon points="582.0,663.0 582.0,663.0 584.0,560.0 600.0,550.0 630.0,548.0 650.0,555.0 666.0,560.0 666.0,663.0 666.0,663.0" fill="#ffff44"/>
<polygon points="706.0,663.0 706.0,663.0 708.0,540.0 716.0,520.0 730.0,500.0 741.0,490.0 741.0,663.0 741.0,663.0" fill="#ffff44"/>
<polygon points="120.0,663.0 120.0,663.0 125.0,560.0 140.0,546.0 160.0,548.0 166.0,560.0 166.0,663.0 166.0,663.0" fill="#ffe600"/>
<polygon points="282.0,663.0 282.0,663.0 284.0,530.0 300.0,504.0 320.0,506.0 334.0,530.0 336.0,663.0 336.0,663.0" fill="#ffe600"/>
<polygon points="434.0,663.0 434.0,663.0 436.0,580.0 444.0,570.0 454.0,578.0 454.0,663.0 454.0,663.0" fill="#ffe600"/>
<polygon points="718.0,663.0 718.0,663.0 720.0,570.0 730.0,560.0 741.0,550.0 741.0,663.0 741.0,663.0" fill="#ffe600"/>
<polygon points="288.0,663.0 290.0,560.0 300.0,550.0 320.0,552.0 326.0,570.0 326.0,663.0 307.0,663.0 306.0,628.0 296.0,628.0 296.0,663.0" fill="#ff8800"/>
<clipPath id="sc77"><polygon points="596.0,570.0 640.0,570.0 640.0,663.0 596.0,663.0"/></clipPath><path clip-path="url(#sc77)" fill="#aaf5ff" d="M625.7,579.1h1.1v11.9h-1.1zM628.0,595.9h2.4v34.7h-2.4zM621.7,597.3h2.2v14.3h-2.2zM604.2,620.8h1.7v38.8h-1.7zM639.7,607.2h2.1v9.0h-2.1zM619.7,651.2h1.8v16.3h-1.8zM630.2,635.3h1.5v30.9h-1.5zM609.6,595.4h2.0v20.7h-2.0zM632.2,571.9h1.6v36.1h-1.6zM636.9,571.8h1.4v7.5h-1.4zM603.4,651.4h1.6v12.2h-1.6zM632.3,604.9h1.7v27.5h-1.7zM621.7,606.3h2.2v32.2h-2.2zM609.5,639.2h2.3v29.0h-2.3zM624.6,592.2h2.2v38.3h-2.2zM602.6,624.3h1.5v27.2h-1.5zM604.0,606.1h2.1v35.9h-2.1zM612.9,557.7h1.8v26.3h-1.8zM601.0,636.5h2.4v36.7h-2.4zM623.3,594.8h1.9v6.3h-1.9zM632.4,625.5h1.6v9.6h-1.6z"/>
<clipPath id="sc78"><polygon points="216.0,560.0 270.0,560.0 270.0,663.0 216.0,663.0"/></clipPath><path clip-path="url(#sc78)" fill="#aaf5ff" d="M245.4,608.0h1.6v25.2h-1.6zM251.6,623.9h2.2v38.9h-2.2zM261.0,651.6h1.9v22.0h-1.9zM217.6,635.1h1.9v27.5h-1.9zM223.3,606.1h2.0v27.5h-2.0zM237.1,630.9h1.9v11.3h-1.9zM251.7,642.8h2.2v30.2h-2.2zM234.2,559.5h2.2v8.3h-2.2zM226.0,563.8h2.4v29.4h-2.4zM241.3,547.4h1.3v26.7h-1.3zM230.1,655.0h2.0v15.7h-2.0zM263.7,600.8h2.4v35.8h-2.4z"/>
<clipPath id="sc79"><polygon points="590.0,520.0 666.0,520.0 666.0,560.0 590.0,560.0"/></clipPath><path clip-path="url(#sc79)" fill="#ffff44" d="M632.0,522.7h2.4v22.8h-2.4zM602.2,515.8h1.2v18.1h-1.2zM631.5,521.2h1.2v7.1h-1.2zM658.7,537.0h1.9v18.5h-1.9zM646.6,543.6h2.2v28.1h-2.2zM610.7,526.0h2.5v11.5h-2.5zM659.9,506.5h1.3v32.1h-1.3zM596.9,504.6h1.3v37.2h-1.3zM588.8,535.0h2.3v15.6h-2.3zM614.0,543.2h1.3v19.1h-1.3zM626.5,537.8h2.4v38.7h-2.4zM638.5,533.9h2.0v24.7h-2.0zM659.4,546.5h2.4v14.6h-2.4zM611.9,546.8h1.9v23.3h-1.9zM665.3,540.7h1.6v8.1h-1.6zM620.5,554.9h1.7v6.5h-1.7zM611.4,554.2h2.4v10.6h-2.4zM598.5,533.0h2.1v24.4h-2.1zM643.9,519.4h1.1v7.3h-1.1z"/>
</g>
<rect x="116" y="425" width="644" height="237.4" fill="none" stroke="#000" stroke-width="1.7"/>
<text x="96.5" y="491.1" text-anchor="end" class="s">200</text>
<text x="96.5" y="547.4" text-anchor="end" class="s">400</text>
<text x="96.5" y="603.6" text-anchor="end" class="s">600</text>
<text x="96.5" y="659.9" text-anchor="end" class="s">800</text>
<path d="M109.5,480.3H116M760,480.3H766.5M109.5,536.6H116M760,536.6H766.5M109.5,592.8H116M760,592.8H766.5M109.5,649.1H116M760,649.1H766.5M152.6,418.5V425M152.6,662.4V668.9M204.8,418.5V425M204.8,662.4V668.9M255.3,418.5V425M255.3,662.4V668.9M307.5,418.5V425M307.5,662.4V668.9M359.8,418.5V425M359.8,662.4V668.9M406.9,418.5V425M406.9,662.4V668.9M459.1,418.5V425M459.1,662.4V668.9M509.6,418.5V425M509.6,662.4V668.9M561.8,418.5V425M561.8,662.4V668.9M612.4,418.5V425M612.4,662.4V668.9M664.6,418.5V425M664.6,662.4V668.9M716.8,418.5V425M716.8,662.4V668.9" stroke="#000" stroke-width="1.6" fill="none"/>
<text x="124.7" y="695.6" text-anchor="middle" class="s">S</text>
<text x="175.2" y="695.6" text-anchor="middle" class="s">O</text>
<text x="227.4" y="695.6" text-anchor="middle" class="s">N</text>
<text x="277.9" y="695.6" text-anchor="middle" class="s">D</text>
<text x="330.1" y="695.6" text-anchor="middle" class="s">J</text>
<text x="382.3" y="695.6" text-anchor="middle" class="s">F</text>
<text x="429.5" y="695.6" text-anchor="middle" class="s">M</text>
<text x="481.7" y="695.6" text-anchor="middle" class="s">A</text>
<text x="532.2" y="695.6" text-anchor="middle" class="s">M</text>
<text x="584.4" y="695.6" text-anchor="middle" class="s">J</text>
<text x="634.9" y="695.6" text-anchor="middle" class="s">J</text>
<text x="687.1" y="695.6" text-anchor="middle" class="s">A</text>
<text x="739.3" y="695.6" text-anchor="middle" class="s">S</text>
<text x="124.7" y="720.9" text-anchor="middle" class="s">2014</text>
<text x="330.1" y="720.9" text-anchor="middle" class="s">2015</text>
<text transform="translate(25.5,544.7) rotate(-90)" text-anchor="middle" class="s">Depth(m)</text>
<text x="458.5" y="399.0" text-anchor="middle" class="t">13°N/130°E</text>
<text transform="translate(59,412) scale(0.93,1)" class="l">B</text>
<clipPath id="cpC"><rect x="116" y="794.2" width="644" height="237.4"/></clipPath>
<g clip-path="url(#cpC)">
<polygon points="121.0,808.0 741.0,808.0 741.0,1032.0 121.0,1032.0" fill="#88d8ff"/>
<clipPath id="sc80"><polygon points="121.0,900.0 135.0,900.0 135.0,1032.0 121.0,1032.0"/></clipPath><path clip-path="url(#sc80)" fill="#ffff44" d="M133.8,948.9h1.7v25.0h-1.7zM122.1,954.6h1.8v26.0h-1.8zM120.6,923.6h1.9v33.0h-1.9zM130.4,888.8h1.1v33.5h-1.1zM129.3,961.9h2.5v38.8h-2.5zM127.8,904.6h1.2v6.5h-1.2zM120.2,954.1h1.3v14.2h-1.3zM127.5,967.2h1.7v34.6h-1.7zM126.5,922.5h1.7v28.5h-1.7zM132.4,973.5h2.5v39.9h-2.5zM124.0,902.4h1.5v13.8h-1.5zM132.5,941.2h2.1v19.6h-2.1zM118.6,910.3h2.4v34.8h-2.4zM134.7,941.5h2.4v22.0h-2.4zM131.7,921.9h1.1v27.4h-1.1zM134.5,991.4h1.1v17.3h-1.1zM121.4,900.7h1.2v14.4h-1.2z"/>
<clipPath id="sc81"><polygon points="140.0,960.0 178.0,960.0 178.0,1032.0 140.0,1032.0"/></clipPath><path clip-path="url(#sc81)" fill="#ffff44" d="M164.8,956.1h1.7v28.4h-1.7zM149.7,1009.0h1.0v18.7h-1.0zM160.3,994.4h2.0v26.4h-2.0zM145.1,1014.7h1.2v21.0h-1.2zM141.8,992.5h1.1v33.8h-1.1zM171.8,951.5h1.5v19.8h-1.5zM158.8,948.0h1.1v37.1h-1.1zM142.1,971.4h2.5v38.2h-2.5zM163.2,963.5h1.2v16.6h-1.2zM144.8,1014.9h2.0v7.7h-2.0zM162.0,984.2h1.6v20.2h-1.6zM167.2,1026.1h1.6v7.0h-1.6zM152.0,971.9h2.5v28.6h-2.5zM142.5,962.5h2.0v28.9h-2.0zM170.5,984.3h1.5v23.4h-1.5zM155.8,980.4h1.0v34.0h-1.0zM153.9,1005.3h1.3v20.5h-1.3zM145.8,997.8h1.2v24.7h-1.2zM152.4,998.2h1.1v15.4h-1.1zM147.1,969.5h1.1v21.6h-1.1zM157.4,1009.5h1.7v38.6h-1.7zM153.0,954.9h1.3v37.4h-1.3zM138.1,960.8h2.1v37.0h-2.1zM147.5,951.8h2.2v17.6h-2.2z"/>
<clipPath id="sc82"><polygon points="185.0,960.0 200.0,930.0 230.0,940.0 238.0,1032.0 185.0,1032.0"/></clipPath><path clip-path="url(#sc82)" fill="#ffff44" d="M220.8,1002.0h1.4v29.3h-1.4zM191.7,946.0h1.3v13.8h-1.3zM212.2,946.6h2.1v10.4h-2.1zM229.2,981.7h1.4v20.7h-1.4zM191.9,1011.2h1.0v15.4h-1.0zM228.4,989.3h2.2v33.4h-2.2zM196.8,1000.2h2.4v33.0h-2.4zM214.1,958.0h1.7v31.7h-1.7zM200.6,931.7h1.5v20.6h-1.5zM237.2,983.9h2.2v33.1h-2.2zM190.6,983.3h1.8v31.4h-1.8zM194.4,977.3h1.7v12.0h-1.7zM216.5,959.6h1.4v21.6h-1.4zM196.6,942.7h1.2v22.7h-1.2zM187.7,987.2h1.3v18.5h-1.3zM222.4,1015.5h2.4v19.2h-2.4zM227.5,1010.1h1.1v10.8h-1.1zM205.8,1012.8h2.0v11.4h-2.0zM193.9,1000.4h2.3v33.3h-2.3zM190.9,1013.9h1.6v30.4h-1.6zM194.7,977.7h1.9v30.6h-1.9zM202.8,991.2h1.9v26.1h-1.9zM192.5,991.8h1.5v16.0h-1.5zM187.6,988.8h1.2v13.7h-1.2zM185.3,962.6h1.8v24.5h-1.8zM183.6,1027.2h1.5v9.2h-1.5zM198.4,982.8h1.2v16.3h-1.2zM203.7,1004.1h1.1v22.0h-1.1zM210.8,1020.2h1.0v17.4h-1.0zM219.9,949.2h1.8v22.1h-1.8zM233.2,993.8h1.0v23.0h-1.0zM229.8,941.7h1.4v29.3h-1.4zM196.5,950.3h1.9v18.1h-1.9zM185.8,961.6h1.3v17.9h-1.3zM216.3,914.5h1.1v31.8h-1.1zM209.4,980.3h2.2v12.5h-2.2zM207.2,936.1h1.5v15.8h-1.5zM228.2,947.4h2.3v9.8h-2.3zM185.4,933.5h1.5v19.2h-1.5zM231.3,1020.5h1.5v21.0h-1.5zM190.9,999.9h1.1v24.2h-1.1zM213.2,924.6h1.5v36.4h-1.5zM230.9,938.1h1.0v14.4h-1.0zM202.2,1002.5h1.7v18.6h-1.7zM219.9,1010.2h1.3v30.4h-1.3zM207.4,969.8h1.8v37.3h-1.8zM232.4,924.5h1.9v34.5h-1.9zM227.8,972.4h1.2v24.2h-1.2zM199.8,919.5h1.4v38.7h-1.4zM223.2,937.4h1.1v7.0h-1.1zM238.0,994.8h2.1v35.5h-2.1zM228.9,989.5h1.6v27.2h-1.6zM189.5,945.5h1.4v31.9h-1.4zM197.4,999.0h2.5v22.0h-2.5zM184.9,953.4h1.7v6.1h-1.7zM197.0,997.8h1.5v37.9h-1.5zM237.6,997.6h2.3v20.1h-2.3zM208.5,1014.6h1.7v14.9h-1.7zM203.8,972.3h1.8v12.6h-1.8zM185.6,1001.0h1.3v25.5h-1.3zM215.7,956.6h1.3v9.5h-1.3zM211.5,1003.7h2.3v22.9h-2.3zM218.9,958.0h1.3v31.3h-1.3zM230.4,941.3h2.4v6.7h-2.4zM185.7,975.5h2.3v11.2h-2.3zM209.6,984.6h2.4v14.8h-2.4zM184.2,963.8h1.4v24.0h-1.4zM195.0,926.4h2.1v17.6h-2.1zM233.3,995.3h2.1v20.5h-2.1zM234.3,994.8h1.2v37.1h-1.2zM222.6,983.5h2.2v29.2h-2.2zM190.4,996.7h1.9v14.7h-1.9zM218.3,988.3h1.9v7.9h-1.9zM231.2,952.7h1.8v32.4h-1.8z"/>
<clipPath id="sc83"><polygon points="338.0,985.0 372.0,980.0 372.0,1032.0 338.0,1032.0"/></clipPath><path clip-path="url(#sc83)" fill="#ffff44" d="M359.8,1014.0h1.2v29.9h-1.2zM362.6,1006.9h1.4v14.7h-1.4zM350.6,1005.8h1.5v29.3h-1.5zM368.5,991.8h1.2v13.6h-1.2zM359.0,971.1h1.4v33.3h-1.4zM342.1,999.6h1.8v28.6h-1.8zM339.7,981.9h1.2v17.5h-1.2zM371.7,992.9h2.5v19.7h-2.5zM360.8,968.0h1.9v35.7h-1.9zM342.6,971.1h1.9v27.5h-1.9zM342.7,991.8h2.3v23.5h-2.3zM354.4,968.8h1.3v33.1h-1.3zM345.9,976.9h2.2v9.0h-2.2zM354.9,979.9h2.1v9.9h-2.1z"/>
<clipPath id="sc84"><polygon points="542.0,946.0 562.0,910.0 600.0,910.0 632.0,940.0 632.0,1032.0 542.0,1032.0"/></clipPath><path clip-path="url(#sc84)" fill="#ffff44" d="M607.6,926.1h2.4v6.4h-2.4zM620.9,989.8h2.5v6.6h-2.5zM561.8,931.2h2.3v40.0h-2.3zM564.2,930.1h2.1v15.5h-2.1zM613.3,919.4h2.3v35.7h-2.3zM561.0,953.9h2.4v23.4h-2.4zM592.1,949.6h1.6v8.7h-1.6zM599.4,940.6h1.9v37.6h-1.9zM585.0,1005.4h2.3v39.8h-2.3zM556.6,1019.1h1.0v10.8h-1.0zM566.3,955.2h2.0v30.4h-2.0zM550.4,911.1h2.3v9.4h-2.3zM591.2,941.7h1.7v34.6h-1.7zM627.2,947.1h1.8v12.1h-1.8zM616.0,940.5h1.4v16.6h-1.4zM580.4,910.3h2.4v17.4h-2.4zM583.5,907.5h2.4v33.1h-2.4zM617.3,1013.8h1.7v18.8h-1.7zM543.7,1011.2h2.1v15.8h-2.1zM585.8,963.0h2.4v11.4h-2.4zM545.2,1009.2h2.5v7.5h-2.5zM611.6,971.5h1.9v21.7h-1.9zM547.8,903.7h2.0v14.7h-2.0zM575.3,938.3h1.5v28.0h-1.5zM594.8,933.0h1.9v30.0h-1.9zM622.2,1002.3h2.2v33.2h-2.2zM572.7,943.0h1.0v28.8h-1.0zM563.1,1024.9h1.8v10.9h-1.8zM603.1,929.9h1.5v37.0h-1.5zM604.7,938.2h1.5v26.6h-1.5zM619.3,993.0h1.1v11.9h-1.1zM593.3,933.6h1.2v34.4h-1.2zM548.7,946.7h2.3v10.4h-2.3zM584.5,1008.3h2.1v24.6h-2.1zM540.8,989.1h1.6v32.8h-1.6zM617.3,975.9h1.2v28.3h-1.2zM609.2,942.6h1.9v24.7h-1.9zM588.2,911.7h1.4v24.9h-1.4zM554.6,985.4h1.8v21.9h-1.8zM619.6,1021.7h2.2v17.5h-2.2zM565.1,915.9h2.0v19.9h-2.0zM546.1,1001.8h1.4v40.0h-1.4zM549.1,972.5h2.0v32.7h-2.0zM613.2,983.5h1.3v29.0h-1.3zM561.2,911.1h1.8v36.1h-1.8zM578.3,957.3h2.3v7.9h-2.3zM592.2,961.8h2.3v18.7h-2.3zM583.2,971.7h1.7v22.1h-1.7zM625.1,1018.9h1.6v20.4h-1.6zM542.8,931.5h1.4v38.2h-1.4zM601.4,1025.4h2.3v11.7h-2.3zM542.9,954.2h1.9v21.6h-1.9zM576.1,991.9h1.7v32.8h-1.7zM609.9,916.5h1.6v27.6h-1.6zM583.9,1018.0h2.4v21.3h-2.4zM559.8,925.0h1.9v23.7h-1.9zM600.5,983.2h2.1v23.2h-2.1zM619.4,956.4h2.0v17.0h-2.0zM623.0,907.0h1.3v35.5h-1.3zM564.6,965.5h2.3v29.4h-2.3zM600.6,933.8h2.4v11.2h-2.4zM631.6,970.8h1.2v38.3h-1.2zM579.3,975.3h2.2v19.4h-2.2zM583.1,971.7h2.2v29.8h-2.2zM620.0,987.6h1.6v33.5h-1.6zM630.2,946.7h1.5v19.0h-1.5zM552.1,932.9h2.0v9.3h-2.0zM600.4,912.0h2.0v13.7h-2.0zM563.6,924.2h2.0v29.9h-2.0zM557.5,927.2h1.4v22.8h-1.4zM554.6,954.5h2.2v37.8h-2.2zM591.5,955.7h2.0v38.3h-2.0zM605.5,969.5h2.2v32.8h-2.2zM610.6,933.4h2.2v7.4h-2.2zM588.1,972.3h1.5v19.4h-1.5zM573.3,981.6h1.9v16.8h-1.9zM540.3,1004.7h2.4v19.0h-2.4zM598.4,943.6h2.3v34.6h-2.3zM580.7,906.3h1.1v37.3h-1.1zM575.8,979.8h1.9v7.5h-1.9zM557.9,942.8h2.2v18.2h-2.2zM552.6,947.9h2.2v9.1h-2.2z"/>
<clipPath id="sc85"><polygon points="560.0,930.0 596.0,930.0 596.0,1032.0 560.0,1032.0"/></clipPath><path clip-path="url(#sc85)" fill="#ffff44" d="M574.1,964.4h1.5v22.3h-1.5zM568.1,980.6h1.6v28.4h-1.6zM571.4,936.3h1.0v16.3h-1.0zM588.0,1019.3h2.1v16.5h-2.1zM588.8,979.9h1.4v36.4h-1.4zM582.2,949.4h1.0v21.5h-1.0zM568.3,1002.1h1.3v16.5h-1.3zM582.6,1016.5h1.5v20.4h-1.5zM595.0,1011.2h1.4v7.5h-1.4zM566.8,933.9h2.2v23.8h-2.2zM561.0,990.5h1.5v21.7h-1.5zM590.0,976.9h2.1v6.4h-2.1zM588.2,965.3h2.4v22.2h-2.4zM558.9,933.2h1.9v23.0h-1.9zM572.4,975.1h1.3v19.8h-1.3zM570.1,972.3h2.0v19.6h-2.0zM582.8,997.0h2.4v32.6h-2.4zM562.1,937.7h1.3v9.4h-1.3zM593.0,928.0h1.0v27.3h-1.0zM587.1,926.6h2.0v38.0h-2.0zM564.8,923.8h2.0v14.7h-2.0zM562.1,926.4h1.8v37.2h-1.8zM575.9,1000.8h1.6v7.3h-1.6zM559.5,946.6h1.7v7.3h-1.7zM577.1,921.8h2.0v37.4h-2.0zM562.7,931.7h1.3v20.1h-1.3zM567.3,1002.8h1.7v34.6h-1.7zM566.3,938.5h2.3v20.7h-2.3zM590.7,934.3h2.0v34.1h-2.0zM569.8,956.7h1.6v6.7h-1.6zM595.7,956.8h1.2v8.6h-1.2zM576.1,978.0h1.7v24.2h-1.7z"/>
<clipPath id="sc86"><polygon points="650.0,1032.0 660.0,990.0 670.0,960.0 690.0,950.0 690.0,1032.0"/></clipPath><path clip-path="url(#sc86)" fill="#ffff44" d="M688.3,957.0h1.8v33.4h-1.8zM675.7,944.1h2.1v29.9h-2.1zM679.6,961.2h1.0v19.1h-1.0zM683.6,1019.1h1.8v16.8h-1.8zM651.0,996.7h1.6v39.9h-1.6zM677.5,990.3h2.3v11.1h-2.3zM670.5,1015.8h2.4v13.1h-2.4zM651.5,1018.8h2.0v16.5h-2.0zM654.2,996.7h1.7v39.9h-1.7zM648.5,961.9h2.2v37.3h-2.2zM663.5,1012.9h1.1v31.6h-1.1zM684.5,953.4h1.6v32.3h-1.6zM670.2,960.2h1.8v38.6h-1.8zM656.6,983.1h1.4v32.7h-1.4zM653.6,991.6h1.8v24.8h-1.8zM661.7,1016.1h2.4v16.8h-2.4zM648.5,1004.1h1.9v15.3h-1.9zM659.8,991.0h1.5v21.9h-1.5zM651.1,1022.7h2.1v16.5h-2.1zM671.5,1002.9h2.4v6.7h-2.4zM688.3,983.0h1.6v30.9h-1.6zM658.9,956.0h1.6v12.7h-1.6zM683.5,987.4h1.2v13.2h-1.2zM682.0,935.4h2.2v37.3h-2.2zM680.3,1014.2h2.4v9.2h-2.4z"/>
<polygon points="666.0,1032.0 666.0,1032.0 672.0,1000.0 680.0,975.0 686.0,950.0 692.0,940.0 698.0,930.0 705.0,924.0 710.0,918.0 720.0,918.0 730.0,914.0 741.0,914.0 741.0,1032.0" fill="#ffff44"/>
<polygon points="121.0,808.0 128.0,808.0 127.0,822.0 121.0,824.0" fill="#ffff44"/>
<polygon points="416.0,808.0 427.0,808.0 426.0,830.0 420.0,836.0 416.0,830.0" fill="#ffff44"/>
<polygon points="445.0,808.0 450.0,808.0 450.0,815.0 445.0,816.0" fill="#ffff44"/>
<polygon points="478.0,808.0 484.0,808.0 483.0,826.0 479.0,828.0" fill="#ffff44"/>
<polygon points="712.0,808.0 741.0,808.0 741.0,836.0 732.0,838.0 726.0,842.0 722.0,830.0 716.0,824.0" fill="#ffff44"/>
<polygon points="522.0,808.0 542.0,808.0 540.0,830.0 534.0,840.0 530.0,846.0 526.0,836.0 522.0,826.0" fill="#ffff44"/>
<polygon points="525.0,808.0 538.0,808.0 537.0,818.0 531.0,826.0 526.0,818.0" fill="#ff8800"/>
<polygon points="529.0,810.0 531.0,810.0 531.0,818.0 529.0,818.0" fill="#ff0000"/>
<polygon points="724.0,808.0 741.0,808.0 741.0,820.0 734.0,824.0 726.0,818.0" fill="#ff8800"/>
<polygon points="135.0,808.0 190.0,808.0 190.0,828.0 184.0,842.0 176.0,848.0 164.0,842.0 160.0,860.0 156.0,872.0 150.0,872.0 144.0,862.0 137.0,850.0 134.0,832.0" fill="#2244ff"/>
<polygon points="210.0,808.0 272.0,808.0 272.0,838.0 264.0,856.0 258.0,876.0 252.0,884.0 240.0,884.0 232.0,870.0 228.0,852.0 220.0,840.0 212.0,830.0" fill="#2244ff"/>
<polygon points="434.0,840.0 446.0,826.0 452.0,826.0 462.0,836.0 466.0,860.0 462.0,884.0 456.0,896.0 446.0,894.0 438.0,880.0 432.0,860.0" fill="#2244ff"/>
<polygon points="462.0,808.0 472.0,808.0 472.0,840.0 464.0,846.0" fill="#2244ff"/>
<polygon points="510.0,808.0 524.0,808.0 524.0,850.0 522.0,876.0 514.0,876.0 511.0,850.0" fill="#2244ff"/>
<polygon points="598.0,808.0 634.0,808.0 634.0,840.0 628.0,858.0 618.0,856.0 606.0,846.0 599.0,830.0" fill="#2244ff"/>
<polygon points="440.0,862.0 452.0,838.0 460.0,846.0 470.0,852.0 470.0,890.0 462.0,898.0 452.0,892.0 444.0,880.0" fill="#2244ff"/>
<polygon points="462.0,808.0 470.0,808.0 470.0,835.0 462.0,836.0" fill="#2244ff"/>
<clipPath id="sc87"><polygon points="472.0,840.0 482.0,832.0 496.0,838.0 502.0,860.0 506.0,892.0 494.0,894.0 484.0,880.0 474.0,866.0"/></clipPath><path clip-path="url(#sc87)" fill="#2244ff" d="M500.4,826.4h1.9v37.7h-1.9zM470.8,876.9h2.8v28.4h-2.8zM485.5,859.6h1.7v17.8h-1.7zM500.1,848.8h1.4v30.0h-1.4zM499.6,829.2h2.6v28.0h-2.6zM473.9,880.8h1.8v23.0h-1.8zM490.8,852.1h2.3v11.1h-2.3zM486.8,829.8h1.5v13.1h-1.5zM474.4,874.0h2.2v24.5h-2.2zM499.6,838.9h1.3v13.5h-1.3zM485.7,849.7h2.0v25.9h-2.0zM472.0,870.9h2.1v23.4h-2.1zM484.9,877.7h1.7v9.5h-1.7zM487.0,834.3h2.3v22.6h-2.3zM472.0,830.5h2.3v19.2h-2.3zM501.8,863.9h1.4v29.9h-1.4zM504.2,848.8h1.6v12.7h-1.6zM492.5,852.4h1.5v26.3h-1.5zM487.8,851.5h2.0v17.7h-2.0zM482.5,882.0h2.4v22.3h-2.4zM485.4,865.8h1.4v32.2h-1.4zM491.8,833.2h2.5v26.1h-2.5zM479.9,822.9h1.2v31.9h-1.2zM470.5,850.8h2.7v26.9h-2.7z"/>
<clipPath id="sc88"><polygon points="316.0,808.0 376.0,808.0 376.0,874.0 316.0,874.0"/></clipPath><path clip-path="url(#sc88)" fill="#2244ff" d="M353.6,820.8h1.2v37.6h-1.2zM364.2,821.0h1.3v41.7h-1.3zM314.4,822.8h1.8v19.4h-1.8zM363.2,816.9h1.9v12.8h-1.9zM375.9,850.9h1.3v11.7h-1.3zM315.8,812.4h2.3v34.6h-2.3zM373.0,825.0h1.7v14.6h-1.7zM322.4,847.9h1.2v42.7h-1.2zM335.5,824.0h1.7v32.1h-1.7zM367.8,817.8h1.3v11.5h-1.3zM374.1,857.8h2.2v18.3h-2.2zM350.0,835.9h2.1v40.5h-2.1zM365.4,806.7h1.2v29.1h-1.2zM339.2,809.4h2.4v45.5h-2.4zM375.7,820.8h1.7v25.4h-1.7zM358.8,866.7h1.0v13.7h-1.0zM348.2,842.5h1.7v29.7h-1.7zM348.8,831.9h1.3v34.4h-1.3zM336.1,860.8h1.3v16.8h-1.3z"/>
<clipPath id="sc89"><polygon points="272.0,830.0 300.0,830.0 300.0,880.0 272.0,880.0"/></clipPath><path clip-path="url(#sc89)" fill="#2244ff" d="M270.3,872.8h2.4v14.2h-2.4zM289.8,840.5h1.3v13.6h-1.3zM298.8,837.5h2.3v17.0h-2.3zM290.6,857.2h1.9v38.0h-1.9zM296.4,853.8h2.1v11.5h-2.1zM295.6,851.3h1.5v15.7h-1.5z"/>
<clipPath id="sc90"><polygon points="196.0,830.0 212.0,830.0 212.0,860.0 196.0,860.0"/></clipPath><path clip-path="url(#sc90)" fill="#2244ff" d="M210.0,813.4h2.4v38.3h-2.4zM203.6,823.7h1.9v20.4h-1.9zM198.5,833.1h1.3v21.1h-1.3z"/>
<clipPath id="sc91"><polygon points="640.0,808.0 700.0,808.0 700.0,850.0 640.0,850.0"/></clipPath><path clip-path="url(#sc91)" fill="#2244ff" d="M649.3,832.7h2.1v34.6h-2.1zM644.3,825.4h1.3v28.8h-1.3zM683.1,825.2h1.2v30.0h-1.2zM699.3,795.1h1.7v35.4h-1.7z"/>
<path d="M294.0,808.0L305.0,828.0L318.0,854.0L333.0,886.0" stroke="#2244ff" stroke-width="4.5" fill="none" stroke-linecap="round" stroke-linejoin="round"/>
<path d="M303.0,828.0L313.0,848.0L322.0,866.0" stroke="#0000d2" stroke-width="3" fill="none" stroke-linecap="round" stroke-linejoin="round"/>
<path d="M214.0,824.0L232.0,846.0L246.0,860.0L258.0,872.0" stroke="#88d8ff" stroke-width="2.5" fill="none" stroke-linecap="round" stroke-linejoin="round"/>
<polygon points="151.0,808.0 157.0,808.0 157.0,858.0 152.0,858.0" fill="#0000d2"/>
<polygon points="232.0,808.0 244.0,808.0 243.0,846.0 234.0,846.0" fill="#0000d2"/>
<polygon points="464.0,808.0 470.0,808.0 469.0,832.0 465.0,832.0" fill="#0000d2"/>
<polygon points="511.0,808.0 518.0,808.0 517.0,836.0 512.0,836.0" fill="#0000d2"/>
<path d="M236.0,957.0L248.0,966.0L258.0,978.0L262.0,984.0" stroke="#2244ff" stroke-width="3.5" fill="none" stroke-linecap="round" stroke-linejoin="round"/>
<path d="M270.0,996.0L276.0,1006.0L278.0,1014.0" stroke="#2244ff" stroke-width="5" fill="none" stroke-linecap="round" stroke-linejoin="round"/>
<path d="M271.0,998.0L275.0,1006.0" stroke="#0000d2" stroke-width="3" fill="none" stroke-linecap="round" stroke-linejoin="round"/>
<path d="M284.0,1010.0L286.0,1024.0" stroke="#2244ff" stroke-width="3.5" fill="none" stroke-linecap="round" stroke-linejoin="round"/>
<polygon points="290.0,1021.0 294.0,1021.0 298.0,1032.0 290.0,1032.0" fill="#ffffff"/>
</g>
<rect x="116" y="794.2" width="644" height="237.4" fill="none" stroke="#000" stroke-width="1.7"/>
<text x="96.5" y="860.3" text-anchor="end" class="s">200</text>
<text x="96.5" y="916.6" text-anchor="end" class="s">400</text>
<text x="96.5" y="972.8" text-anchor="end" class="s">600</text>
<text x="96.5" y="1029.1" text-anchor="end" class="s">800</text>
<path d="M109.5,849.5H116M760,849.5H766.5M109.5,905.8H116M760,905.8H766.5M109.5,962.0H116M760,962.0H766.5M109.5,1018.3H116M760,1018.3H766.5M152.6,787.7V794.2M152.6,1031.6000000000001V1038.1000000000001M204.8,787.7V794.2M204.8,1031.6000000000001V1038.1000000000001M255.3,787.7V794.2M255.3,1031.6000000000001V1038.1000000000001M307.5,787.7V794.2M307.5,1031.6000000000001V1038.1000000000001M359.8,787.7V794.2M359.8,1031.6000000000001V1038.1000000000001M406.9,787.7V794.2M406.9,1031.6000000000001V1038.1000000000001M459.1,787.7V794.2M459.1,1031.6000000000001V1038.1000000000001M509.6,787.7V794.2M509.6,1031.6000000000001V1038.1000000000001M561.8,787.7V794.2M561.8,1031.6000000000001V1038.1000000000001M612.4,787.7V794.2M612.4,1031.6000000000001V1038.1000000000001M664.6,787.7V794.2M664.6,1031.6000000000001V1038.1000000000001M716.8,787.7V794.2M716.8,1031.6000000000001V1038.1000000000001" stroke="#000" stroke-width="1.6" fill="none"/>
<text x="124.7" y="1064.8" text-anchor="middle" class="s">S</text>
<text x="175.2" y="1064.8" text-anchor="middle" class="s">O</text>
<text x="227.4" y="1064.8" text-anchor="middle" class="s">N</text>
<text x="277.9" y="1064.8" text-anchor="middle" class="s">D</text>
<text x="330.1" y="1064.8" text-anchor="middle" class="s">J</text>
<text x="382.3" y="1064.8" text-anchor="middle" class="s">F</text>
<text x="429.5" y="1064.8" text-anchor="middle" class="s">M</text>
<text x="481.7" y="1064.8" text-anchor="middle" class="s">A</text>
<text x="532.2" y="1064.8" text-anchor="middle" class="s">M</text>
<text x="584.4" y="1064.8" text-anchor="middle" class="s">J</text>
<text x="634.9" y="1064.8" text-anchor="middle" class="s">J</text>
<text x="687.1" y="1064.8" text-anchor="middle" class="s">A</text>
<text x="739.3" y="1064.8" text-anchor="middle" class="s">S</text>
<text x="124.7" y="1090.1" text-anchor="middle" class="s">2014</text>
<text x="330.1" y="1090.1" text-anchor="middle" class="s">2015</text>
<text transform="translate(25.5,913.9) rotate(-90)" text-anchor="middle" class="s">Depth(m)</text>
<text x="458.5" y="768.2" text-anchor="middle" class="t">15.5°N/130°E</text>
<text transform="translate(59,775) scale(0.93,1)" class="l">C</text>
<clipPath id="cpD"><rect x="116" y="1164" width="644" height="237.4"/></clipPath>
<g clip-path="url(#cpD)">
<polygon points="149.0,1177.0 734.0,1177.0 734.0,1402.0 149.0,1402.0" fill="#88d8ff"/>
<polygon points="149.0,1177.0 208.0,1177.0 208.0,1212.0 200.0,1214.0 188.0,1214.0 188.0,1290.0 192.0,1330.0 196.0,1402.0 149.0,1402.0" fill="#ffff44"/>
<polygon points="214.0,1177.0 228.0,1177.0 228.0,1402.0 214.0,1402.0" fill="#ffff44"/>
<polygon points="228.0,1177.0 276.0,1177.0 276.0,1402.0 228.0,1402.0" fill="#ffff44"/>
<polygon points="320.0,1177.0 338.0,1177.0 338.0,1220.0 332.0,1240.0 326.0,1240.0 322.0,1220.0" fill="#ffff44"/>
<polygon points="340.0,1177.0 388.0,1177.0 388.0,1200.0 392.0,1230.0 398.0,1258.0 398.0,1200.0 428.0,1177.0 428.0,1200.0 432.0,1230.0 440.0,1250.0 442.0,1240.0 442.0,1177.0 466.0,1177.0 462.0,1230.0 456.0,1250.0 452.0,1300.0 453.0,1402.0 356.0,1402.0 352.0,1300.0 346.0,1260.0 340.0,1240.0" fill="#ffff44"/>
<polygon points="504.0,1177.0 544.0,1177.0 542.0,1270.0 538.0,1300.0 530.0,1290.0 524.0,1270.0 518.0,1290.0 512.0,1310.0 506.0,1290.0" fill="#ffff44"/>
<polygon points="550.0,1177.0 566.0,1177.0 560.0,1214.0 556.0,1214.0" fill="#ffff44"/>
<polygon points="612.0,1177.0 632.0,1177.0 628.0,1240.0 620.0,1248.0 614.0,1240.0" fill="#ffff44"/>
<polygon points="692.0,1177.0 710.0,1177.0 710.0,1280.0 706.0,1310.0 700.0,1320.0 694.0,1300.0 692.0,1280.0" fill="#ffff44"/>
<clipPath id="sc92"><polygon points="692.0,1300.0 710.0,1300.0 710.0,1402.0 692.0,1402.0"/></clipPath><path clip-path="url(#sc92)" fill="#ffff44" d="M707.3,1308.1h1.6v19.9h-1.6zM692.9,1296.6h1.3v8.6h-1.3zM709.8,1361.1h1.2v19.3h-1.2zM704.0,1324.8h1.6v16.9h-1.6zM702.7,1298.2h1.1v26.5h-1.1zM709.2,1305.9h1.1v10.1h-1.1zM690.8,1324.7h1.9v29.3h-1.9zM694.0,1312.3h1.7v28.2h-1.7zM703.7,1378.8h1.4v9.1h-1.4zM704.4,1370.8h1.7v8.8h-1.7zM706.6,1356.7h2.0v15.2h-2.0zM694.8,1336.5h1.9v19.9h-1.9zM696.8,1372.1h2.2v23.0h-2.2zM692.9,1318.3h2.3v9.0h-2.3zM703.3,1343.1h1.0v24.6h-1.0zM693.6,1303.5h2.5v15.8h-2.5zM702.3,1292.8h1.5v26.4h-1.5zM702.6,1308.0h1.6v9.1h-1.6zM706.8,1352.1h1.3v22.1h-1.3zM695.8,1289.6h1.4v22.2h-1.4zM702.7,1308.1h1.4v23.1h-1.4zM695.4,1384.9h2.3v26.3h-2.3zM700.5,1383.5h1.4v9.4h-1.4zM699.8,1319.0h1.9v20.0h-1.9zM701.2,1387.7h1.4v16.9h-1.4z"/>
<clipPath id="sc93"><polygon points="149.0,1225.0 202.0,1225.0 202.0,1320.0 149.0,1320.0"/></clipPath><path clip-path="url(#sc93)" fill="#88d8ff" d="M169.2,1282.7h1.0v14.5h-1.0zM160.4,1289.7h1.2v14.5h-1.2zM183.7,1218.2h1.2v39.6h-1.2zM169.8,1305.7h1.8v27.9h-1.8zM198.7,1257.9h1.1v10.8h-1.1zM167.5,1304.1h1.3v23.2h-1.3zM179.5,1267.7h1.3v18.7h-1.3zM166.3,1222.6h2.4v43.5h-2.4zM148.4,1270.0h2.3v49.6h-2.3zM158.8,1282.7h2.3v36.0h-2.3zM182.2,1236.9h2.1v17.8h-2.1zM166.0,1250.9h1.1v23.4h-1.1zM199.9,1296.0h2.0v43.4h-2.0zM163.5,1221.0h2.5v41.6h-2.5zM184.1,1218.0h1.9v31.8h-1.9zM180.4,1267.6h1.3v46.8h-1.3zM197.1,1273.7h1.1v26.0h-1.1zM171.7,1292.1h2.5v17.9h-2.5zM178.0,1215.4h1.7v41.6h-1.7zM154.3,1218.8h1.1v49.3h-1.1zM194.0,1250.9h1.5v38.5h-1.5zM162.5,1239.6h1.7v41.5h-1.7zM149.2,1217.9h1.9v35.4h-1.9zM185.4,1297.9h1.2v39.0h-1.2z"/>
<clipPath id="sc94"><polygon points="192.0,1320.0 228.0,1320.0 228.0,1402.0 192.0,1402.0"/></clipPath><path clip-path="url(#sc94)" fill="#ffff44" d="M202.1,1384.5h1.1v18.5h-1.1zM194.0,1342.3h1.7v38.8h-1.7zM225.9,1376.9h2.3v30.9h-2.3zM218.8,1325.4h1.6v10.0h-1.6zM222.2,1369.0h1.0v39.2h-1.0zM192.7,1320.9h2.4v18.1h-2.4zM195.7,1314.4h2.5v14.5h-2.5zM204.0,1327.6h1.1v11.5h-1.1zM196.8,1363.2h1.5v47.2h-1.5zM211.8,1366.8h2.1v32.7h-2.1zM202.6,1330.4h1.9v19.2h-1.9zM206.4,1301.0h1.6v49.5h-1.6zM207.1,1356.3h1.7v42.5h-1.7zM215.4,1317.7h1.1v12.5h-1.1zM197.8,1310.3h1.5v25.4h-1.5zM216.5,1374.0h1.0v48.1h-1.0zM222.8,1346.6h1.7v48.2h-1.7zM198.7,1335.7h1.8v30.3h-1.8zM222.3,1352.9h2.1v17.8h-2.1zM214.6,1309.9h1.9v42.9h-1.9zM191.7,1393.0h1.4v10.0h-1.4zM219.7,1321.5h1.9v48.8h-1.9zM207.1,1303.4h2.5v46.9h-2.5z"/>
<clipPath id="sc95"><polygon points="320.0,1250.0 356.0,1250.0 356.0,1402.0 320.0,1402.0"/></clipPath><path clip-path="url(#sc95)" fill="#ffff44" d="M321.7,1289.2h1.4v24.6h-1.4zM329.4,1262.7h1.1v10.3h-1.1zM319.9,1328.8h1.5v32.3h-1.5zM346.2,1265.1h1.2v33.9h-1.2zM320.6,1296.3h2.3v31.5h-2.3zM324.5,1269.4h2.1v37.7h-2.1zM321.4,1244.2h2.2v38.9h-2.2zM332.6,1373.4h2.1v19.5h-2.1zM351.0,1346.4h2.1v29.8h-2.1zM340.5,1244.5h2.2v29.3h-2.2zM331.1,1326.5h2.4v37.4h-2.4zM342.1,1282.2h1.0v25.0h-1.0zM323.8,1301.7h1.6v35.1h-1.6zM351.6,1332.3h1.1v21.5h-1.1zM343.3,1311.2h1.0v35.8h-1.0zM325.4,1335.1h1.4v19.0h-1.4zM322.7,1325.7h1.1v38.3h-1.1zM328.7,1306.3h1.9v20.9h-1.9zM342.7,1309.3h1.5v39.1h-1.5zM323.7,1241.0h2.0v24.8h-2.0zM321.2,1325.2h2.5v35.3h-2.5zM320.3,1251.7h2.2v36.8h-2.2zM321.5,1341.7h1.6v28.1h-1.6zM350.2,1297.4h2.1v23.4h-2.1zM333.1,1296.6h2.3v21.5h-2.3zM320.7,1321.4h2.1v36.5h-2.1zM326.7,1290.0h2.3v30.8h-2.3zM354.2,1301.3h2.3v16.5h-2.3zM344.0,1324.1h1.8v31.2h-1.8zM352.8,1334.4h2.3v29.2h-2.3zM352.5,1279.0h1.9v11.7h-1.9zM341.9,1300.6h1.3v11.5h-1.3zM353.8,1354.9h2.0v34.4h-2.0zM319.8,1356.2h2.3v21.4h-2.3zM352.1,1324.0h2.5v23.9h-2.5zM320.8,1287.6h1.6v35.0h-1.6zM339.0,1302.9h2.0v12.5h-2.0zM346.4,1340.8h1.3v22.2h-1.3z"/>
<clipPath id="sc96"><polygon points="196.0,1214.0 214.0,1214.0 214.0,1320.0 196.0,1320.0"/></clipPath><path clip-path="url(#sc96)" fill="#ffff44" d="M205.6,1294.1h2.3v22.0h-2.3zM205.9,1301.7h1.3v25.5h-1.3zM201.0,1295.4h1.0v12.1h-1.0zM212.4,1262.9h2.3v14.1h-2.3zM195.4,1298.3h2.5v38.0h-2.5zM203.5,1214.5h1.7v14.7h-1.7z"/>
<clipPath id="sc97"><polygon points="228.0,1280.0 256.0,1280.0 256.0,1402.0 228.0,1402.0"/></clipPath><path clip-path="url(#sc97)" fill="#88d8ff" d="M250.5,1296.2h1.9v35.3h-1.9zM253.3,1279.9h2.0v45.6h-2.0zM241.1,1380.5h2.0v34.7h-2.0zM254.3,1343.6h1.8v27.8h-1.8zM241.2,1275.2h1.5v22.4h-1.5zM238.8,1363.6h1.9v39.4h-1.9zM246.3,1278.2h2.4v32.2h-2.4zM235.2,1281.4h1.1v49.2h-1.1zM229.4,1299.2h2.3v40.0h-2.3zM226.8,1333.6h1.4v20.9h-1.4zM232.0,1280.5h1.5v25.8h-1.5zM248.7,1325.8h1.0v44.9h-1.0zM230.3,1310.6h1.2v16.0h-1.2zM232.8,1293.0h1.1v21.0h-1.1zM240.2,1309.5h2.0v28.3h-2.0zM235.4,1267.9h1.8v41.4h-1.8zM249.5,1281.0h1.7v25.2h-1.7zM242.1,1328.8h2.3v10.6h-2.3zM247.2,1277.1h1.5v45.6h-1.5zM227.3,1273.4h1.7v34.5h-1.7z"/>
<clipPath id="sc98"><polygon points="276.0,1370.0 356.0,1370.0 356.0,1402.0 276.0,1402.0"/></clipPath><path clip-path="url(#sc98)" fill="#ffff44" d="M343.2,1385.8h1.8v25.9h-1.8zM351.8,1374.4h2.3v18.4h-2.3zM316.2,1370.3h1.5v9.2h-1.5zM337.8,1380.7h1.4v26.8h-1.4zM295.6,1383.6h1.1v8.1h-1.1zM350.6,1372.2h2.3v33.2h-2.3zM299.8,1368.6h2.0v15.9h-2.0zM321.1,1369.2h1.8v26.6h-1.8zM340.9,1381.4h1.6v14.4h-1.6zM296.9,1356.9h2.1v33.6h-2.1zM339.0,1364.6h1.4v36.8h-1.4zM344.9,1364.1h2.2v17.6h-2.2zM308.4,1365.1h2.1v39.3h-2.1zM293.8,1371.8h1.2v15.4h-1.2zM283.4,1378.7h1.1v16.2h-1.1zM351.4,1373.0h1.6v13.7h-1.6z"/>
<clipPath id="sc99"><polygon points="494.0,1280.0 526.0,1280.0 526.0,1402.0 494.0,1402.0"/></clipPath><path clip-path="url(#sc99)" fill="#ffff44" d="M517.5,1373.3h1.8v24.5h-1.8zM511.5,1356.6h1.4v29.2h-1.4zM501.2,1310.5h2.1v28.4h-2.1zM517.5,1314.0h2.1v20.9h-2.1zM516.4,1321.6h2.4v8.2h-2.4zM494.7,1297.2h1.0v22.9h-1.0zM498.0,1283.3h1.5v11.5h-1.5zM497.2,1284.5h2.3v9.8h-2.3zM519.9,1388.6h2.4v20.0h-2.4zM505.4,1303.9h1.7v16.7h-1.7zM509.2,1357.7h1.9v29.3h-1.9zM514.7,1333.8h2.3v26.3h-2.3zM521.1,1325.8h1.1v16.3h-1.1zM511.8,1299.9h2.0v13.7h-2.0zM492.4,1348.2h2.2v25.9h-2.2zM498.7,1281.3h1.1v28.9h-1.1zM492.0,1326.1h2.3v21.5h-2.3zM517.5,1309.8h2.2v11.6h-2.2zM494.1,1319.2h1.7v16.7h-1.7zM510.5,1289.9h1.8v21.6h-1.8zM522.6,1284.8h1.9v14.4h-1.9zM511.1,1317.9h2.2v9.9h-2.2zM519.2,1268.9h1.7v23.1h-1.7zM495.2,1353.8h2.3v22.3h-2.3zM521.8,1291.7h2.2v16.2h-2.2zM520.1,1310.5h1.7v13.3h-1.7zM506.4,1321.6h1.4v30.0h-1.4zM519.5,1358.2h2.1v11.9h-2.1zM521.8,1279.2h1.7v25.6h-1.7zM518.5,1352.8h2.4v19.5h-2.4z"/>
<clipPath id="sc100"><polygon points="582.0,1290.0 602.0,1290.0 602.0,1402.0 582.0,1402.0"/></clipPath><path clip-path="url(#sc100)" fill="#ffff44" d="M601.1,1378.0h1.5v29.6h-1.5zM579.8,1346.6h2.2v27.3h-2.2zM589.9,1340.7h1.4v24.1h-1.4zM598.2,1389.6h1.8v20.7h-1.8zM599.6,1321.0h1.5v25.7h-1.5zM597.0,1339.2h1.2v18.9h-1.2zM587.6,1377.5h1.3v23.5h-1.3zM588.9,1389.8h1.3v21.1h-1.3zM589.6,1318.0h1.2v27.4h-1.2zM600.5,1392.5h1.3v18.9h-1.3zM584.9,1336.1h2.4v21.4h-2.4zM601.7,1292.2h2.0v14.5h-2.0zM584.2,1290.9h1.4v12.5h-1.4zM600.7,1342.9h1.4v16.2h-1.4zM583.8,1345.3h1.9v15.7h-1.9zM594.3,1308.6h2.1v9.9h-2.1zM583.2,1297.8h2.0v15.8h-2.0zM581.7,1381.5h2.2v19.9h-2.2zM580.6,1316.5h1.4v14.2h-1.4zM586.7,1331.9h1.8v27.8h-1.8zM587.2,1320.5h1.1v23.1h-1.1z"/>
<clipPath id="sc101"><polygon points="626.0,1250.0 656.0,1250.0 656.0,1402.0 626.0,1402.0"/></clipPath><path clip-path="url(#sc101)" fill="#ffff44" d="M643.8,1373.0h2.0v10.0h-2.0zM644.1,1296.5h2.3v19.3h-2.3zM645.9,1336.1h1.8v10.4h-1.8zM647.7,1309.3h1.4v16.3h-1.4zM650.8,1249.2h2.4v29.4h-2.4zM636.1,1350.0h1.1v14.3h-1.1zM644.4,1326.9h2.2v20.4h-2.2zM631.6,1303.6h1.1v19.6h-1.1zM653.2,1249.2h1.0v22.4h-1.0zM635.3,1270.0h1.9v8.5h-1.9zM652.7,1271.1h2.3v24.0h-2.3zM640.3,1377.6h2.1v23.4h-2.1zM647.0,1316.0h1.9v14.2h-1.9zM626.2,1307.5h1.3v21.6h-1.3zM644.8,1259.4h1.8v8.1h-1.8zM625.0,1394.1h2.0v15.5h-2.0zM640.6,1281.5h1.1v11.4h-1.1zM642.5,1323.4h1.8v18.4h-1.8zM646.4,1308.9h1.4v12.7h-1.4zM624.5,1278.1h1.8v28.2h-1.8zM648.2,1306.4h1.8v9.2h-1.8zM655.0,1250.9h1.5v12.3h-1.5zM652.7,1344.8h2.2v23.5h-2.2zM653.5,1246.2h1.5v20.1h-1.5zM630.1,1385.5h2.3v22.8h-2.3zM633.0,1324.3h1.4v8.1h-1.4zM638.8,1290.1h1.0v21.0h-1.0zM654.9,1371.4h2.1v21.6h-2.1zM651.2,1309.7h2.3v28.5h-2.3zM644.2,1388.4h1.1v17.8h-1.1zM626.8,1338.6h2.0v20.6h-2.0zM626.3,1355.8h1.1v11.2h-1.1zM626.4,1351.8h2.4v21.1h-2.4zM645.9,1381.8h1.3v23.6h-1.3zM634.7,1255.1h1.2v13.1h-1.2zM627.0,1311.8h2.4v21.7h-2.4zM636.1,1235.8h1.1v29.2h-1.1zM644.7,1361.3h2.1v15.3h-2.1zM654.5,1274.6h1.1v20.0h-1.1zM626.4,1363.2h1.4v22.8h-1.4zM650.6,1323.8h2.2v28.8h-2.2zM644.5,1388.6h1.7v19.8h-1.7z"/>
<clipPath id="sc102"><polygon points="670.0,1260.0 692.0,1260.0 692.0,1402.0 670.0,1402.0"/></clipPath><path clip-path="url(#sc102)" fill="#ffff44" d="M685.4,1260.7h2.0v17.4h-2.0zM682.6,1276.0h2.0v16.2h-2.0zM676.2,1356.2h1.5v13.9h-1.5zM682.1,1277.1h1.7v29.2h-1.7zM671.4,1325.0h1.9v19.6h-1.9zM681.3,1349.3h1.0v16.2h-1.0zM668.2,1316.8h2.4v21.5h-2.4zM689.5,1260.1h1.4v24.4h-1.4zM672.3,1317.2h2.2v14.5h-2.2zM674.6,1314.4h1.6v14.3h-1.6zM676.9,1288.2h2.0v11.6h-2.0zM685.7,1257.4h2.1v13.5h-2.1zM690.4,1364.3h2.3v17.4h-2.3zM685.9,1330.3h2.3v8.7h-2.3zM676.1,1378.2h2.3v20.5h-2.3zM671.1,1316.3h2.5v12.9h-2.5zM682.1,1331.3h2.0v11.6h-2.0zM671.2,1328.0h2.2v11.2h-2.2zM685.8,1287.0h2.1v20.9h-2.1zM683.9,1252.3h1.0v23.2h-1.0zM684.3,1277.9h1.1v23.4h-1.1zM669.1,1294.0h1.4v17.2h-1.4zM680.9,1389.2h1.4v8.9h-1.4zM683.1,1288.9h1.1v23.2h-1.1zM674.3,1305.6h2.0v25.0h-2.0zM672.5,1308.4h1.9v17.7h-1.9zM675.7,1289.4h2.1v20.9h-2.1zM686.9,1283.1h1.3v22.7h-1.3zM672.3,1339.4h1.9v9.5h-1.9z"/>
<clipPath id="sc103"><polygon points="710.0,1200.0 734.0,1200.0 734.0,1402.0 710.0,1402.0"/></clipPath><path clip-path="url(#sc103)" fill="#ffff44" d="M713.6,1271.7h1.3v16.5h-1.3zM714.7,1260.8h1.8v22.2h-1.8zM716.2,1365.4h1.3v25.9h-1.3zM719.5,1281.2h1.1v8.2h-1.1zM721.3,1247.0h2.1v27.1h-2.1zM714.6,1255.7h2.1v18.1h-2.1zM710.1,1226.2h1.0v23.6h-1.0zM724.1,1317.2h1.9v21.6h-1.9zM733.2,1263.9h2.2v28.8h-2.2zM719.5,1229.3h1.5v11.0h-1.5zM713.8,1327.4h2.4v24.6h-2.4zM729.0,1343.0h2.0v10.2h-2.0zM710.6,1192.5h1.7v28.8h-1.7zM708.0,1311.0h2.1v22.6h-2.1zM711.4,1357.1h1.9v16.3h-1.9zM713.5,1299.3h2.3v20.2h-2.3zM728.9,1236.2h2.0v19.4h-2.0zM711.1,1206.2h2.3v23.8h-2.3zM731.4,1380.5h2.2v15.3h-2.2zM714.1,1289.1h1.4v24.3h-1.4zM712.3,1372.8h1.3v25.6h-1.3zM709.5,1235.5h1.5v14.3h-1.5zM733.5,1325.9h1.1v12.9h-1.1zM720.4,1371.9h1.2v10.3h-1.2zM725.4,1217.4h1.7v15.8h-1.7zM729.8,1283.6h1.3v19.7h-1.3zM728.9,1232.0h1.4v19.8h-1.4zM717.4,1219.9h1.2v19.0h-1.2zM713.8,1255.1h1.3v27.0h-1.3zM732.4,1361.0h2.4v16.2h-2.4zM708.7,1269.2h1.7v18.2h-1.7zM710.2,1351.7h1.8v29.7h-1.8zM721.3,1323.6h2.4v27.5h-2.4zM719.0,1346.2h1.5v8.6h-1.5zM710.4,1217.8h1.1v18.5h-1.1zM724.2,1250.3h2.3v8.9h-2.3zM719.8,1299.6h1.4v28.6h-1.4z"/>
<clipPath id="sc104"><polygon points="453.0,1300.0 494.0,1300.0 494.0,1402.0 453.0,1402.0"/></clipPath><path clip-path="url(#sc104)" fill="#ffff44" d="M452.7,1315.2h1.7v27.3h-1.7zM456.1,1324.2h2.4v22.6h-2.4zM451.9,1382.6h2.3v17.7h-2.3zM477.9,1335.9h1.2v22.1h-1.2zM476.8,1305.6h2.4v11.9h-2.4zM472.8,1379.3h2.4v11.2h-2.4zM488.7,1380.9h2.3v10.1h-2.3zM461.2,1303.4h1.5v24.6h-1.5zM486.7,1339.7h1.2v14.8h-1.2zM459.7,1330.4h2.5v27.7h-2.5zM477.6,1349.3h1.1v20.8h-1.1z"/>
<clipPath id="sc105"><polygon points="544.0,1300.0 582.0,1300.0 582.0,1402.0 544.0,1402.0"/></clipPath><path clip-path="url(#sc105)" fill="#ffff44" d="M549.0,1386.7h1.6v13.1h-1.6zM564.2,1327.5h1.9v23.2h-1.9zM573.2,1357.1h2.1v20.7h-2.1zM548.0,1306.4h2.3v17.7h-2.3zM568.2,1357.5h2.1v11.7h-2.1zM544.2,1375.8h1.1v25.3h-1.1zM571.0,1368.3h2.3v12.7h-2.3zM547.7,1381.8h1.2v22.7h-1.2zM544.1,1317.6h2.0v29.6h-2.0zM549.3,1379.9h1.9v21.4h-1.9zM547.6,1360.8h2.3v14.6h-2.3zM561.9,1329.0h1.6v22.6h-1.6z"/>
<clipPath id="sc106"><polygon points="602.0,1300.0 626.0,1300.0 626.0,1402.0 602.0,1402.0"/></clipPath><path clip-path="url(#sc106)" fill="#ffff44" d="M607.2,1318.5h2.0v8.6h-2.0zM623.2,1297.4h2.1v22.9h-2.1zM606.0,1347.2h1.6v8.7h-1.6zM617.2,1349.4h1.0v12.4h-1.0zM621.2,1290.2h1.3v21.0h-1.3zM608.7,1304.2h2.2v23.4h-2.2zM602.0,1302.2h2.4v15.4h-2.4zM620.9,1363.8h2.3v21.3h-2.3zM610.0,1341.6h1.8v29.4h-1.8z"/>
<clipPath id="sc107"><polygon points="276.0,1180.0 320.0,1180.0 320.0,1220.0 276.0,1220.0"/></clipPath><path clip-path="url(#sc107)" fill="#88d8ff" d="M281.4,1183.7h1.1v29.7h-1.1zM294.8,1183.5h2.0v33.0h-2.0zM291.7,1203.7h1.0v20.7h-1.0z"/>
<polygon points="157.0,1177.0 164.0,1177.0 164.0,1200.0 160.0,1195.0 157.0,1188.0" fill="#ff8800"/>
<polygon points="164.0,1177.0 193.0,1177.0 193.0,1188.0 186.0,1192.0 178.0,1192.0 176.0,1212.0 170.0,1214.0 165.0,1206.0 164.0,1190.0" fill="#ff8800"/>
<polygon points="165.0,1177.0 176.0,1177.0 176.0,1194.0 170.0,1196.0 166.0,1190.0" fill="#cc0000"/>
<polygon points="242.0,1177.0 268.0,1177.0 266.0,1200.0 260.0,1206.0 256.0,1218.0 252.0,1220.0 248.0,1206.0 244.0,1196.0" fill="#ff8800"/>
<polygon points="356.0,1177.0 416.0,1177.0 416.0,1200.0 410.0,1210.0 404.0,1222.0 400.0,1212.0 398.0,1200.0 390.0,1202.0 386.0,1222.0 380.0,1220.0 376.0,1204.0 366.0,1196.0 358.0,1190.0" fill="#ff8800"/>
<polygon points="378.0,1177.0 394.0,1177.0 392.0,1198.0 386.0,1202.0 380.0,1196.0" fill="#cc0000"/>
<polygon points="400.0,1177.0 408.0,1177.0 407.0,1194.0 402.0,1196.0" fill="#cc0000"/>
<polygon points="443.0,1177.0 454.0,1177.0 452.0,1188.0 446.0,1190.0" fill="#ff8800"/>
<polygon points="505.0,1177.0 513.0,1177.0 512.0,1200.0 508.0,1206.0 506.0,1196.0" fill="#ff8800"/>
<polygon points="694.0,1177.0 708.0,1177.0 707.0,1200.0 704.0,1216.0 700.0,1218.0 696.0,1204.0" fill="#ff8800"/>
<polygon points="695.0,1177.0 705.0,1177.0 704.0,1190.0 698.0,1194.0" fill="#cc0000"/>
<polygon points="478.0,1177.0 497.0,1177.0 496.0,1198.0 490.0,1210.0 488.0,1224.0 485.0,1238.0 483.0,1226.0 480.0,1204.0" fill="#2244ff"/>
<polygon points="580.0,1177.0 588.0,1177.0 589.0,1210.0 590.0,1240.0 586.0,1244.0 583.0,1230.0 582.0,1205.0" fill="#2244ff"/>
<polygon points="594.0,1180.0 599.0,1180.0 598.0,1196.0 594.0,1196.0" fill="#2244ff"/>
<polygon points="660.0,1177.0 674.0,1177.0 672.0,1200.0 668.0,1212.0 662.0,1206.0" fill="#2244ff"/>
<polygon points="678.0,1177.0 686.0,1177.0 685.0,1220.0 682.0,1236.0 679.0,1220.0" fill="#2244ff"/>
<polygon points="286.0,1222.0 289.0,1222.0 289.0,1256.0 286.0,1256.0" fill="#2244ff"/>
<polygon points="295.0,1220.0 298.0,1220.0 298.0,1236.0 295.0,1236.0" fill="#2244ff"/>
<polygon points="296.0,1178.0 299.0,1178.0 299.0,1188.0 296.0,1188.0" fill="#2244ff"/>
<polygon points="430.0,1178.0 434.0,1178.0 434.0,1184.0 430.0,1184.0" fill="#2244ff"/>
<polygon points="482.0,1177.0 494.0,1177.0 492.0,1192.0 485.0,1192.0" fill="#0000d2"/>
</g>
<rect x="116" y="1164" width="644" height="237.4" fill="none" stroke="#000" stroke-width="1.7"/>
<text x="96.5" y="1230.1" text-anchor="end" class="s">200</text>
<text x="96.5" y="1286.4" text-anchor="end" class="s">400</text>
<text x="96.5" y="1342.6" text-anchor="end" class="s">600</text>
<text x="96.5" y="1398.9" text-anchor="end" class="s">800</text>
<path d="M109.5,1219.3H116M760,1219.3H766.5M109.5,1275.6H116M760,1275.6H766.5M109.5,1331.8H116M760,1331.8H766.5M109.5,1388.1H116M760,1388.1H766.5M152.6,1157.5V1164M152.6,1401.4V1407.9M204.8,1157.5V1164M204.8,1401.4V1407.9M255.3,1157.5V1164M255.3,1401.4V1407.9M307.5,1157.5V1164M307.5,1401.4V1407.9M359.8,1157.5V1164M359.8,1401.4V1407.9M406.9,1157.5V1164M406.9,1401.4V1407.9M459.1,1157.5V1164M459.1,1401.4V1407.9M509.6,1157.5V1164M509.6,1401.4V1407.9M561.8,1157.5V1164M561.8,1401.4V1407.9M612.4,1157.5V1164M612.4,1401.4V1407.9M664.6,1157.5V1164M664.6,1401.4V1407.9M716.8,1157.5V1164M716.8,1401.4V1407.9" stroke="#000" stroke-width="1.6" fill="none"/>
<text x="124.7" y="1434.6" text-anchor="middle" class="s">S</text>
<text x="175.2" y="1434.6" text-anchor="middle" class="s">O</text>
<text x="227.4" y="1434.6" text-anchor="middle" class="s">N</text>
<text x="277.9" y="1434.6" text-anchor="middle" class="s">D</text>
<text x="330.1" y="1434.6" text-anchor="middle" class="s">J</text>
<text x="382.3" y="1434.6" text-anchor="middle" class="s">F</text>
<text x="429.5" y="1434.6" text-anchor="middle" class="s">M</text>
<text x="481.7" y="1434.6" text-anchor="middle" class="s">A</text>
<text x="532.2" y="1434.6" text-anchor="middle" class="s">M</text>
<text x="584.4" y="1434.6" text-anchor="middle" class="s">J</text>
<text x="634.9" y="1434.6" text-anchor="middle" class="s">J</text>
<text x="687.1" y="1434.6" text-anchor="middle" class="s">A</text>
<text x="739.3" y="1434.6" text-anchor="middle" class="s">S</text>
<text x="124.7" y="1459.9" text-anchor="middle" class="s">2014</text>
<text x="330.1" y="1459.9" text-anchor="middle" class="s">2015</text>
<text transform="translate(25.5,1283.7) rotate(-90)" text-anchor="middle" class="s">Depth(m)</text>
<text x="458.5" y="1138.0" text-anchor="middle" class="t">18°N/130°E</text>
<text transform="translate(59,1145) scale(0.93,1)" class="l">D</text>
<clipPath id="cpE"><rect x="964" y="56" width="643.5" height="237.4"/></clipPath>
<g clip-path="url(#cpE)">
<polygon points="964.0,69.0 1607.5,69.0 1607.5,294.0 964.0,294.0" fill="#ffff44"/>
<polygon points="980.0,140.0 992.0,140.0 992.0,294.0 980.0,294.0" fill="#ffe600"/>
<polygon points="1022.0,140.0 1034.0,140.0 1034.0,294.0 1022.0,294.0" fill="#ffe600"/>
<polygon points="1028.0,170.0 1032.0,170.0 1032.0,278.0 1029.0,278.0" fill="#ff8800"/>
<polygon points="1080.0,150.0 1090.0,150.0 1090.0,294.0 1080.0,294.0" fill="#ffe600"/>
<polygon points="1100.0,150.0 1116.0,150.0 1116.0,294.0 1100.0,294.0" fill="#ffe600"/>
<polygon points="1040.0,294.0 1040.0,294.0 1042.0,180.0 1050.0,165.0 1062.0,152.0 1072.0,144.0 1078.0,150.0 1078.0,294.0 1078.0,294.0" fill="#aaf5ff"/>
<polygon points="1054.0,294.0 1054.0,294.0 1060.0,230.0 1068.0,190.0 1075.0,178.0 1076.0,294.0 1076.0,294.0" fill="#88d8ff"/>
<polygon points="1158.0,294.0 1158.0,294.0 1159.0,240.0 1164.0,234.0 1169.0,238.0 1170.0,294.0 1170.0,294.0" fill="#aaf5ff"/>
<clipPath id="sc108"><polygon points="1147.0,200.0 1158.0,200.0 1158.0,294.0 1147.0,294.0"/></clipPath><path clip-path="url(#sc108)" fill="#aaf5ff" d="M1152.1,240.1h2.4v10.7h-2.4zM1150.6,244.8h2.4v18.9h-2.4zM1156.5,249.5h1.6v37.0h-1.6zM1152.5,236.4h1.1v39.7h-1.1zM1157.1,213.9h1.8v23.5h-1.8zM1149.0,206.1h1.2v40.0h-1.2zM1150.1,182.9h1.7v36.5h-1.7zM1145.9,277.0h1.4v13.8h-1.4zM1148.1,286.9h2.1v10.6h-2.1z"/>
<clipPath id="sc109"><polygon points="1192.0,200.0 1216.0,200.0 1216.0,294.0 1192.0,294.0"/></clipPath><path clip-path="url(#sc109)" fill="#aaf5ff" d="M1194.7,265.7h1.4v23.1h-1.4zM1214.1,225.0h1.3v24.8h-1.3zM1204.0,243.7h2.5v30.9h-2.5zM1215.9,228.8h1.9v18.2h-1.9zM1190.3,206.8h2.5v35.0h-2.5zM1194.9,241.0h1.7v33.7h-1.7zM1214.1,255.3h1.6v32.7h-1.6zM1201.8,262.8h1.3v31.8h-1.3zM1215.6,259.1h1.7v36.8h-1.7zM1205.3,199.5h2.2v33.8h-2.2zM1189.9,229.9h2.5v21.8h-2.5zM1215.0,204.1h1.6v12.8h-1.6zM1194.4,221.3h2.4v24.7h-2.4zM1209.9,256.3h1.7v10.0h-1.7zM1210.3,276.6h2.5v34.2h-2.5zM1203.8,235.3h2.4v27.9h-2.4zM1211.6,260.1h2.2v37.5h-2.2zM1193.1,244.9h1.0v20.3h-1.0zM1212.3,208.6h1.9v25.1h-1.9zM1195.5,279.0h2.1v25.9h-2.1zM1204.4,245.1h1.1v21.8h-1.1zM1213.0,215.3h2.5v24.8h-2.5zM1206.7,234.2h1.7v11.0h-1.7z"/>
<polygon points="1216.0,294.0 1216.0,294.0 1218.0,160.0 1224.0,146.0 1240.0,146.0 1254.0,142.0 1270.0,150.0 1285.0,160.0 1300.0,164.0 1301.0,294.0 1301.0,294.0" fill="#aaf5ff"/>
<clipPath id="sc110"><polygon points="1226.0,200.0 1266.0,200.0 1266.0,294.0 1226.0,294.0"/></clipPath><path clip-path="url(#sc110)" fill="#88d8ff" d="M1254.3,234.4h2.5v22.2h-2.5zM1262.6,196.8h2.4v36.3h-2.4zM1231.3,214.3h2.5v36.5h-2.5zM1240.3,190.4h1.9v21.4h-1.9zM1234.4,212.4h1.1v26.8h-1.1zM1260.0,266.1h2.2v36.6h-2.2zM1248.0,234.1h2.3v57.9h-2.3zM1229.7,228.0h2.3v41.7h-2.3zM1228.1,203.8h1.8v27.2h-1.8zM1251.6,213.9h2.0v52.5h-2.0zM1251.8,239.7h1.0v20.2h-1.0zM1229.5,203.5h1.7v26.9h-1.7zM1237.5,230.2h1.2v44.0h-1.2zM1255.4,252.4h1.6v41.9h-1.6zM1259.9,247.9h1.2v58.4h-1.2zM1258.2,193.4h1.7v58.1h-1.7zM1255.6,257.6h2.0v54.0h-2.0z"/>
<polygon points="1258.0,210.0 1265.0,210.0 1265.0,294.0 1258.0,294.0" fill="#88d8ff"/>
<polygon points="1338.0,294.0 1338.0,294.0 1340.0,180.0 1354.0,180.0 1354.0,294.0 1354.0,294.0" fill="#aaf5ff"/>
<polygon points="1378.0,294.0 1378.0,294.0 1380.0,190.0 1395.0,170.0 1410.0,162.0 1418.0,160.0 1420.0,130.0 1435.0,128.0 1450.0,128.0 1460.0,132.0 1474.0,142.0 1480.0,115.0 1486.0,106.0 1490.0,115.0 1500.0,146.0 1514.0,150.0 1520.0,160.0 1540.0,162.0 1558.0,165.0 1558.0,294.0 1558.0,294.0" fill="#aaf5ff"/>
<polygon points="1430.0,294.0 1430.0,294.0 1432.0,180.0 1445.0,170.0 1458.0,175.0 1464.0,200.0 1464.0,294.0 1464.0,294.0" fill="#88d8ff"/>
<polygon points="1480.0,294.0 1480.0,294.0 1481.0,180.0 1484.0,165.0 1488.0,180.0 1488.0,294.0 1488.0,294.0" fill="#88d8ff"/>
<polygon points="1566.0,294.0 1566.0,294.0 1567.0,180.0 1574.0,176.0 1574.0,294.0 1574.0,294.0" fill="#aaf5ff"/>
<polygon points="1574.0,294.0 1574.0,294.0 1576.0,210.0 1590.0,206.0 1602.0,206.0 1602.0,294.0 1602.0,294.0" fill="#aaf5ff"/>
<clipPath id="sc111"><polygon points="1534.0,170.0 1566.0,170.0 1566.0,215.0 1534.0,215.0"/></clipPath><path clip-path="url(#sc111)" fill="#ffff44" d="M1547.6,183.9h1.9v36.3h-1.9zM1556.8,190.9h2.4v23.7h-2.4zM1537.5,211.2h2.3v7.3h-2.3zM1557.2,170.2h2.1v14.9h-2.1zM1540.1,165.7h1.5v21.0h-1.5zM1543.0,185.7h1.8v28.0h-1.8zM1541.1,170.1h2.5v7.9h-2.5zM1546.9,171.1h2.0v20.0h-2.0zM1547.1,191.2h2.2v31.8h-2.2zM1564.6,171.4h1.3v17.7h-1.3zM1555.1,203.4h1.2v7.1h-1.2zM1546.0,173.6h1.1v22.3h-1.1zM1537.4,201.9h1.4v19.1h-1.4z"/>
<polygon points="1360.0,170.0 1374.0,170.0 1372.0,240.0 1366.0,268.0 1362.0,240.0" fill="#ffe600"/>
<polygon points="1365.0,176.0 1370.0,176.0 1369.0,230.0 1366.0,230.0" fill="#ff8800"/>
<polygon points="964.0,69.0 964.0,144.0 976.0,133.5 990.0,135.0 1004.0,140.0 1016.0,140.0 1024.0,145.6 1032.0,151.2 1040.0,140.0 1048.0,132.0 1056.0,132.4 1064.0,134.0 1072.0,134.0 1080.0,134.0 1090.0,142.0 1100.0,150.0 1110.0,156.2 1120.0,145.7 1126.0,124.3 1130.0,110.0 1134.0,126.0 1138.0,142.0 1144.0,158.0 1150.0,170.0 1156.0,152.0 1160.0,140.0 1166.0,146.0 1172.0,152.0 1180.0,160.0 1186.0,166.0 1190.0,170.0 1194.0,146.0 1200.0,110.0 1206.0,122.0 1214.0,134.0 1222.0,140.6 1230.0,143.0 1238.0,145.4 1246.0,142.4 1254.0,137.6 1262.0,134.0 1270.0,134.0 1280.0,134.0 1290.0,140.0 1300.0,146.0 1310.0,143.0 1320.0,140.0 1330.0,142.7 1342.0,146.0 1352.0,148.9 1362.0,222.7 1372.0,200.0 1382.0,139.1 1392.0,136.8 1402.0,134.3 1412.0,130.8 1420.0,128.0 1428.0,128.0 1436.0,128.0 1444.0,128.0 1450.0,128.0 1456.0,131.5 1462.0,135.0 1468.0,138.5 1474.0,142.0 1480.0,130.8 1486.0,119.5 1492.0,115.0 1500.0,127.0 1506.0,135.0 1512.0,142.5 1518.0,144.2 1526.0,142.7 1534.0,141.2 1544.0,138.8 1554.0,135.8 1564.0,134.0 1574.0,134.0 1584.0,134.0 1594.0,134.0 1607.5,134.0 1607.5,69.0" fill="#ffe600"/>
<polygon points="964.0,69.0 964.0,110.0 976.0,107.0 990.0,114.0 1004.0,124.4 1016.0,131.6 1024.0,132.4 1032.0,129.2 1040.0,126.0 1048.0,113.2 1056.0,111.2 1064.0,112.8 1072.0,114.2 1080.0,115.0 1090.0,116.0 1100.0,128.0 1110.0,140.0 1120.0,130.0 1126.0,106.0 1130.0,90.0 1134.0,110.0 1138.0,130.0 1144.0,152.8 1150.0,161.2 1156.0,142.0 1160.0,120.0 1166.0,123.6 1172.0,128.8 1180.0,140.0 1186.0,158.0 1190.0,136.0 1194.0,80.0 1200.0,90.0 1206.0,100.0 1214.0,108.0 1222.0,114.2 1230.0,115.0 1238.0,115.8 1246.0,111.2 1254.0,104.8 1262.0,100.2 1270.0,101.0 1280.0,102.0 1290.0,106.0 1300.0,110.0 1310.0,111.0 1320.0,112.0 1330.0,112.0 1342.0,112.0 1352.0,124.2 1362.0,133.5 1372.0,131.0 1382.0,110.0 1392.0,110.0 1402.0,108.3 1412.0,100.0 1420.0,69.0 1428.0,69.0 1436.0,79.3 1444.0,69.0 1450.0,96.0 1456.0,98.4 1462.0,100.8 1468.0,91.0 1474.0,69.0 1480.0,86.0 1486.0,89.6 1492.0,91.2 1500.0,88.0 1506.0,69.0 1512.0,69.0 1518.0,91.2 1526.0,96.2 1534.0,101.2 1544.0,106.0 1554.0,108.5 1564.0,109.6 1574.0,108.6 1584.0,108.0 1594.0,108.0 1607.5,108.0 1607.5,69.0" fill="#ff8800"/>
<polygon points="964.0,69.0 964.0,90.0 976.0,87.0 990.0,93.0 1004.0,103.2 1016.0,112.8 1024.0,114.8 1032.0,112.4 1040.0,110.0 1048.0,102.0 1056.0,101.8 1064.0,104.2 1072.0,106.0 1080.0,106.0 1090.0,106.0 1100.0,113.0 1110.0,120.0 1120.0,110.0 1126.0,88.4 1130.0,74.0 1134.0,92.7 1138.0,111.3 1144.0,132.0 1150.0,138.0 1156.0,120.0 1160.0,100.0 1166.0,106.0 1172.0,112.0 1180.0,120.0 1186.0,135.0 1190.0,116.7 1194.0,70.0 1200.0,78.0 1206.0,86.0 1214.0,94.0 1222.0,100.6 1230.0,103.0 1238.0,105.4 1246.0,92.8 1254.0,74.0 1262.0,80.0 1270.0,75.8 1280.0,74.7 1290.0,69.0 1300.0,69.0 1310.0,97.5 1320.0,100.0 1330.0,100.0 1342.0,100.0 1352.0,105.6 1362.0,110.0 1372.0,110.0 1382.0,75.0 1392.0,71.4 1402.0,71.0 1412.0,69.0 1420.0,69.0 1428.0,69.0 1436.0,69.0 1444.0,69.0 1450.0,69.0 1456.0,92.7 1462.0,94.7 1468.0,87.0 1474.0,69.0 1480.0,69.0 1486.0,69.0 1492.0,69.0 1500.0,69.0 1506.0,69.0 1512.0,69.0 1518.0,74.2 1526.0,84.8 1534.0,91.3 1544.0,94.7 1554.0,98.0 1564.0,99.6 1574.0,98.6 1584.0,98.3 1594.0,99.0 1607.5,100.0 1607.5,69.0" fill="#ff4500"/>
<polygon points="964.0,69.0 964.0,80.0 976.0,77.0 990.0,83.0 1004.0,92.0 1016.0,98.0 1024.0,98.8 1032.0,96.4 1040.0,94.0 1048.0,90.8 1056.0,91.2 1064.0,92.8 1072.0,92.6 1080.0,87.0 1090.0,80.0 1100.0,90.0 1110.0,100.0 1120.0,80.0 1126.0,73.4 1130.0,69.0 1134.0,82.7 1138.0,96.3 1144.0,110.0 1150.0,110.0 1156.0,95.0 1160.0,80.0 1166.0,92.0 1172.0,101.2 1180.0,106.0 1186.0,109.0 1190.0,96.3 1194.0,69.0 1200.0,72.5 1206.0,76.0 1214.0,81.7 1222.0,87.0 1230.0,91.0 1238.0,95.0 1246.0,82.8 1254.0,69.0 1262.0,69.0 1270.0,69.0 1280.0,69.0 1290.0,69.0 1300.0,69.0 1310.0,90.2 1320.0,94.0 1330.0,92.2 1342.0,90.0 1352.0,95.6 1362.0,100.0 1372.0,100.0 1382.0,69.0 1392.0,69.0 1402.0,69.0 1412.0,69.0 1420.0,69.0 1428.0,69.0 1436.0,69.0 1444.0,69.0 1450.0,69.0 1456.0,86.0 1462.0,87.2 1468.0,78.5 1474.0,69.0 1480.0,69.0 1486.0,69.0 1492.0,69.0 1500.0,69.0 1506.0,69.0 1512.0,69.0 1518.0,69.0 1526.0,69.0 1534.0,75.4 1544.0,86.0 1554.0,88.5 1564.0,90.4 1574.0,91.4 1584.0,91.6 1594.0,90.6 1607.5,88.0 1607.5,69.0" fill="#cc0000"/>
<polygon points="964.0,69.0 964.0,69.0 976.0,69.0 990.0,69.0 1004.0,69.0 1016.0,89.8 1024.0,93.5 1032.0,90.8 1040.0,78.5 1048.0,78.5 1056.0,89.0 1064.0,87.5 1072.0,74.5 1080.0,69.0 1090.0,69.0 1100.0,76.0 1110.0,69.0 1120.0,69.0 1126.0,69.0 1130.0,69.0 1134.0,69.0 1138.0,69.0 1144.0,96.8 1150.0,99.2 1156.0,84.5 1160.0,69.0 1166.0,79.5 1172.0,90.0 1180.0,100.0 1186.0,92.5 1190.0,79.5 1194.0,69.0 1200.0,69.0 1206.0,72.7 1214.0,74.5 1222.0,69.0 1230.0,90.0 1238.0,90.0 1246.0,69.0 1254.0,69.0 1262.0,69.0 1270.0,69.0 1280.0,69.0 1290.0,69.0 1300.0,69.0 1310.0,84.0 1320.0,86.7 1330.0,80.7 1342.0,79.5 1352.0,91.5 1362.0,94.0 1372.0,91.8 1382.0,79.5 1392.0,69.0 1402.0,69.0 1412.0,69.0 1420.0,69.0 1428.0,69.0 1436.0,69.0 1444.0,69.0 1450.0,69.0 1456.0,69.0 1462.0,69.0 1468.0,69.0 1474.0,69.0 1480.0,69.0 1486.0,69.0 1492.0,69.0 1500.0,69.0 1506.0,69.0 1512.0,69.0 1518.0,69.0 1526.0,69.0 1534.0,84.0 1544.0,81.1 1554.0,71.8 1564.0,69.0 1574.0,73.4 1584.0,80.5 1594.0,81.8 1607.5,75.0 1607.5,69.0" fill="#990000"/>
<polygon points="1361.0,150.0 1373.0,150.0 1372.0,240.0 1366.0,268.0 1362.0,240.0" fill="#ffe600"/>
<polygon points="1365.0,150.0 1370.0,150.0 1369.0,230.0 1366.0,230.0" fill="#ff8800"/>
</g>
<rect x="964" y="56" width="643.5" height="237.4" fill="none" stroke="#000" stroke-width="1.7"/>
<text x="944.5" y="122.1" text-anchor="end" class="s">200</text>
<text x="944.5" y="178.4" text-anchor="end" class="s">400</text>
<text x="944.5" y="234.6" text-anchor="end" class="s">600</text>
<text x="944.5" y="290.9" text-anchor="end" class="s">800</text>
<path d="M957.5,111.3H964M1607.5,111.3H1614.0M957.5,167.6H964M1607.5,167.6H1614.0M957.5,223.8H964M1607.5,223.8H1614.0M957.5,280.1H964M1607.5,280.1H1614.0M967.7,49.5V56M967.7,293.4V299.9M989.5,49.5V56M989.5,293.4V299.9M1013.7,49.5V56M1013.7,293.4V299.9M1037.1,49.5V56M1037.1,293.4V299.9M1061.3,49.5V56M1061.3,293.4V299.9M1084.7,49.5V56M1084.7,293.4V299.9M1108.9,49.5V56M1108.9,293.4V299.9M1133.1,49.5V56M1133.1,293.4V299.9M1156.5,49.5V56M1156.5,293.4V299.9M1180.7,49.5V56M1180.7,293.4V299.9M1204.1,49.5V56M1204.1,293.4V299.9M1228.3,49.5V56M1228.3,293.4V299.9M1252.5,49.5V56M1252.5,293.4V299.9M1274.3,49.5V56M1274.3,293.4V299.9M1298.5,49.5V56M1298.5,293.4V299.9M1321.9,49.5V56M1321.9,293.4V299.9M1346.1,49.5V56M1346.1,293.4V299.9M1369.5,49.5V56M1369.5,293.4V299.9M1393.7,49.5V56M1393.7,293.4V299.9M1417.9,49.5V56M1417.9,293.4V299.9M1441.3,49.5V56M1441.3,293.4V299.9M1465.5,49.5V56M1465.5,293.4V299.9M1488.9,49.5V56M1488.9,293.4V299.9M1513.1,49.5V56M1513.1,293.4V299.9M1537.2,49.5V56M1537.2,293.4V299.9M1559.9,49.5V56M1559.9,293.4V299.9M1584.1,49.5V56M1584.1,293.4V299.9M1607.5,49.5V56M1607.5,293.4V299.9" stroke="#000" stroke-width="1.6" fill="none"/>
<text x="979.4" y="326.6" text-anchor="middle" class="s">F</text>
<text x="1001.3" y="326.6" text-anchor="middle" class="s">M</text>
<text x="1025.5" y="326.6" text-anchor="middle" class="s">A</text>
<text x="1048.9" y="326.6" text-anchor="middle" class="s">M</text>
<text x="1073.0" y="326.6" text-anchor="middle" class="s">J</text>
<text x="1096.5" y="326.6" text-anchor="middle" class="s">J</text>
<text x="1120.6" y="326.6" text-anchor="middle" class="s">A</text>
<text x="1144.8" y="326.6" text-anchor="middle" class="s">S</text>
<text x="1168.2" y="326.6" text-anchor="middle" class="s">O</text>
<text x="1192.4" y="326.6" text-anchor="middle" class="s">N</text>
<text x="1215.8" y="326.6" text-anchor="middle" class="s">D</text>
<text x="1240.0" y="326.6" text-anchor="middle" class="s">J</text>
<text x="1264.2" y="326.6" text-anchor="middle" class="s">F</text>
<text x="1286.0" y="326.6" text-anchor="middle" class="s">M</text>
<text x="1310.2" y="326.6" text-anchor="middle" class="s">A</text>
<text x="1333.6" y="326.6" text-anchor="middle" class="s">M</text>
<text x="1357.8" y="326.6" text-anchor="middle" class="s">J</text>
<text x="1381.2" y="326.6" text-anchor="middle" class="s">J</text>
<text x="1405.4" y="326.6" text-anchor="middle" class="s">A</text>
<text x="1429.6" y="326.6" text-anchor="middle" class="s">S</text>
<text x="1453.0" y="326.6" text-anchor="middle" class="s">O</text>
<text x="1477.2" y="326.6" text-anchor="middle" class="s">N</text>
<text x="1500.6" y="326.6" text-anchor="middle" class="s">D</text>
<text x="1524.8" y="326.6" text-anchor="middle" class="s">J</text>
<text x="1549.0" y="326.6" text-anchor="middle" class="s">F</text>
<text x="1571.6" y="326.6" text-anchor="middle" class="s">M</text>
<text x="1595.8" y="326.6" text-anchor="middle" class="s">A</text>
<text x="979.4" y="351.9" text-anchor="middle" class="s">2018</text>
<text x="1240.0" y="351.9" text-anchor="middle" class="s">2019</text>
<text x="1524.8" y="351.9" text-anchor="middle" class="s">2020</text>
<text x="1306.2" y="30.0" text-anchor="middle" class="t">122.7°E/18°N</text>
<text transform="translate(906,28.6) scale(0.93,1)" class="l">E</text>
<clipPath id="cpF"><rect x="964" y="425" width="643.5" height="237.4"/></clipPath>
<g clip-path="url(#cpF)">
<polygon points="964.0,438.0 1560.0,438.0 1560.0,526.0 1540.0,527.0 1500.0,528.0 1440.0,527.0 1380.0,526.0 1374.0,528.0 1371.0,543.0 1368.0,528.0 1364.0,530.0 1362.0,540.0 1360.0,534.0 1356.0,526.0 1330.0,525.0 1322.0,528.0 1314.0,538.0 1306.0,540.0 1304.0,548.0 1302.0,562.0 1300.0,556.0 1296.0,540.0 1292.0,525.0 1274.0,526.0 1270.0,534.0 1262.0,530.0 1250.0,527.0 1240.0,528.0 1236.0,540.0 1232.0,550.0 1229.0,582.0 1226.0,545.0 1222.0,528.0 1200.0,528.0 1192.0,530.0 1189.0,540.0 1186.0,556.0 1184.0,546.0 1180.0,530.0 1164.0,530.0 1158.0,534.0 1157.0,560.0 1155.0,614.0 1152.0,562.0 1148.0,550.0 1144.0,530.0 1120.0,528.0 1114.0,530.0 1111.0,580.0 1108.0,572.0 1104.0,556.0 1098.0,534.0 1092.0,540.0 1086.0,534.0 1083.0,580.0 1078.0,566.0 1074.0,550.0 1070.0,527.0 1040.0,526.0 1032.0,528.0 1028.0,550.0 1024.0,560.0 1020.0,568.0 1016.0,556.0 1010.0,536.0 1000.0,529.0 992.0,530.0 988.0,540.0 985.0,564.0 976.0,550.0 964.0,554.0" fill="#ffff44"/>
<polygon points="964.0,438.0 964.0,540.0 972.0,537.3 980.0,546.7 988.0,540.7 996.0,516.1 1004.0,518.3 1012.0,528.0 1020.0,560.0 1028.0,545.0 1036.0,512.0 1044.0,512.0 1052.0,512.0 1060.0,512.0 1068.0,512.8 1076.0,513.6 1084.0,522.0 1092.0,535.8 1100.0,547.3 1108.0,545.8 1116.0,514.9 1124.0,514.6 1132.0,514.3 1140.0,514.0 1148.0,534.8 1156.0,520.5 1164.0,514.0 1172.0,514.0 1180.0,514.0 1188.0,514.0 1196.0,505.6 1204.0,501.0 1212.0,503.0 1220.0,505.0 1228.0,507.0 1236.0,509.0 1244.0,509.3 1252.0,508.0 1260.0,506.7 1268.0,505.3 1276.0,510.8 1284.0,518.5 1292.0,526.2 1300.0,543.3 1308.0,527.5 1316.0,518.2 1324.0,515.8 1332.0,515.0 1340.0,519.0 1348.0,523.0 1356.0,527.0 1364.0,531.2 1372.0,536.0 1380.0,513.6 1388.0,506.7 1396.0,505.1 1404.0,503.4 1412.0,501.7 1420.0,500.0 1428.0,501.2 1436.0,502.5 1444.0,503.8 1452.0,505.0 1460.0,505.0 1468.0,505.0 1476.0,505.0 1484.0,505.0 1492.0,505.0 1500.0,505.0 1508.0,505.0 1516.0,505.0 1524.0,505.0 1532.0,505.0 1540.0,505.0 1548.0,505.0 1556.0,505.0 1560.0,505.0 1560.0,438.0" fill="#ffe600"/>
<polygon points="964.0,438.0 964.0,472.0 972.0,484.0 980.0,470.0 988.0,468.4 996.0,472.8 1004.0,476.0 1012.0,488.0 1020.0,480.0 1028.0,489.3 1036.0,444.0 1044.0,468.0 1052.0,470.0 1060.0,469.0 1068.0,479.0 1076.0,468.0 1084.0,438.0 1092.0,470.0 1100.0,483.3 1108.0,489.0 1116.0,465.6 1124.0,438.0 1132.0,438.0 1140.0,475.6 1148.0,483.4 1156.0,481.1 1164.0,476.0 1172.0,470.0 1180.0,470.0 1188.0,447.5 1196.0,438.0 1204.0,438.0 1212.0,458.0 1220.0,458.0 1228.0,458.0 1236.0,465.2 1244.0,465.2 1252.0,456.0 1260.0,444.0 1268.0,438.0 1276.0,470.0 1284.0,470.0 1292.0,471.0 1300.0,475.0 1308.0,479.0 1316.0,478.1 1324.0,475.6 1332.0,439.0 1340.0,448.7 1348.0,477.5 1356.0,483.6 1364.0,486.0 1372.0,486.0 1380.0,473.2 1388.0,438.0 1396.0,438.0 1404.0,438.0 1412.0,438.0 1420.0,438.0 1428.0,438.0 1436.0,438.0 1444.0,438.0 1452.0,470.0 1460.0,486.0 1468.0,459.3 1476.0,438.0 1484.0,438.0 1492.0,438.0 1500.0,438.0 1508.0,438.0 1516.0,438.0 1524.0,456.7 1532.0,466.9 1540.0,468.0 1548.0,467.2 1556.0,466.4 1560.0,466.0 1560.0,438.0" fill="#ff8800"/>
<polygon points="964.0,438.0 964.0,452.0 972.0,453.3 980.0,438.0 988.0,438.0 996.0,438.0 1004.0,438.0 1012.0,438.0 1020.0,438.0 1028.0,438.0 1036.0,438.0 1044.0,438.0 1052.0,454.0 1060.0,438.0 1068.0,438.0 1076.0,438.0 1084.0,438.0 1092.0,438.0 1100.0,438.0 1108.0,438.0 1116.0,438.0 1124.0,438.0 1132.0,438.0 1140.0,472.0 1148.0,472.0 1156.0,464.0 1164.0,438.0 1172.0,438.0 1180.0,438.0 1188.0,438.0 1196.0,438.0 1204.0,438.0 1212.0,438.0 1220.0,438.0 1228.0,438.0 1236.0,438.0 1244.0,438.0 1252.0,438.0 1260.0,438.0 1268.0,438.0 1276.0,438.0 1284.0,438.0 1292.0,438.0 1300.0,438.0 1308.0,438.0 1316.0,438.0 1324.0,454.0 1332.0,438.0 1340.0,438.0 1348.0,438.0 1356.0,438.0 1364.0,438.0 1372.0,469.0 1380.0,438.0 1388.0,438.0 1396.0,438.0 1404.0,438.0 1412.0,438.0 1420.0,438.0 1428.0,438.0 1436.0,438.0 1444.0,438.0 1452.0,438.0 1460.0,438.0 1468.0,438.0 1476.0,438.0 1484.0,438.0 1492.0,438.0 1500.0,438.0 1508.0,438.0 1516.0,438.0 1524.0,438.0 1532.0,438.0 1540.0,438.0 1548.0,438.0 1556.0,470.0 1560.0,470.0 1560.0,438.0" fill="#ff4500"/>
<polygon points="1076.0,556.0 1080.0,552.0 1084.0,560.0 1083.0,580.0 1079.0,572.0" fill="#aaf5ff"/>
<polygon points="1153.0,550.0 1157.0,550.0 1156.0,614.0 1154.0,600.0" fill="#aaf5ff"/>
<polygon points="1226.0,546.0 1232.0,546.0 1230.0,582.0" fill="#aaf5ff"/>
<polygon points="1394.0,524.0 1494.0,524.0 1494.0,528.0 1394.0,528.0" fill="#aaf5ff"/>
<polygon points="1400.0,475.0 1406.0,475.0 1406.0,520.0 1401.0,520.0" fill="#aaf5ff"/>
<polygon points="1432.0,500.0 1450.0,495.0 1452.0,526.0 1432.0,526.0" fill="#aaf5ff"/>
<polygon points="1480.0,470.0 1490.0,470.0 1490.0,526.0 1480.0,526.0" fill="#aaf5ff"/>
<polygon points="1480.0,440.0 1490.0,440.0 1489.0,446.0 1481.0,446.0" fill="#aaf5ff"/>
<polygon points="1502.0,438.0 1508.0,438.0 1508.0,446.0 1502.0,446.0" fill="#aaf5ff"/>
<polygon points="1199.0,454.0 1204.0,454.0 1205.0,514.0 1200.0,514.0" fill="#aaf5ff"/>
<polygon points="1226.0,438.0 1238.0,438.0 1236.0,456.0 1228.0,458.0" fill="#ff4500"/>
<polygon points="1138.0,438.0 1152.0,438.0 1150.0,446.0 1140.0,446.0" fill="#cc0000"/>
<polygon points="1183.0,450.0 1185.5,450.0 1185.5,552.0 1183.5,552.0" fill="#ff4500"/>
<polygon points="964.0,554.0 976.0,550.0 985.0,564.0 988.0,540.0 992.0,530.0 1000.0,529.0 1010.0,536.0 1016.0,556.0 1020.0,568.0 1024.0,560.0 1028.0,550.0 1032.0,528.0 1040.0,526.0 1070.0,527.0 1074.0,550.0 1078.0,566.0 1083.0,580.0 1086.0,534.0 1092.0,540.0 1098.0,534.0 1104.0,556.0 1108.0,572.0 1111.0,580.0 1114.0,530.0 1120.0,528.0 1144.0,530.0 1148.0,550.0 1152.0,562.0 1155.0,614.0 1157.0,560.0 1158.0,534.0 1164.0,530.0 1180.0,530.0 1184.0,546.0 1186.0,556.0 1189.0,540.0 1192.0,530.0 1200.0,528.0 1222.0,528.0 1226.0,545.0 1229.0,582.0 1232.0,550.0 1236.0,540.0 1240.0,528.0 1250.0,527.0 1262.0,530.0 1270.0,534.0 1274.0,526.0 1292.0,525.0 1296.0,540.0 1300.0,556.0 1302.0,562.0 1304.0,548.0 1306.0,540.0 1314.0,538.0 1322.0,528.0 1330.0,525.0 1356.0,526.0 1360.0,534.0 1362.0,540.0 1364.0,530.0 1368.0,528.0 1371.0,543.0 1374.0,528.0 1380.0,526.0 1440.0,527.0 1500.0,528.0 1540.0,527.0 1560.0,526.0 1560.0,663.0 964.0,663.0" fill="#ffffff"/>
<polygon points="1076.0,556.0 1080.0,552.0 1084.0,560.0 1083.0,580.0 1079.0,572.0" fill="#aaf5ff"/>
<polygon points="1153.0,550.0 1157.0,550.0 1156.0,614.0 1154.0,600.0" fill="#aaf5ff"/>
<polygon points="1226.0,546.0 1232.0,546.0 1230.0,582.0" fill="#aaf5ff"/>
<polygon points="1560.0,437.0 1608.0,437.0 1608.0,663.0 1560.0,663.0" fill="#ffffff"/>
</g>
<rect x="964" y="425" width="643.5" height="237.4" fill="none" stroke="#000" stroke-width="1.7"/>
<text x="944.5" y="491.1" text-anchor="end" class="s">200</text>
<text x="944.5" y="547.4" text-anchor="end" class="s">400</text>
<text x="944.5" y="603.6" text-anchor="end" class="s">600</text>
<text x="944.5" y="659.9" text-anchor="end" class="s">800</text>
<path d="M957.5,480.3H964M1607.5,480.3H1614.0M957.5,536.6H964M1607.5,536.6H1614.0M957.5,592.8H964M1607.5,592.8H1614.0M957.5,649.1H964M1607.5,649.1H1614.0M967.7,418.5V425M967.7,662.4V668.9M989.5,418.5V425M989.5,662.4V668.9M1013.7,418.5V425M1013.7,662.4V668.9M1037.1,418.5V425M1037.1,662.4V668.9M1061.3,418.5V425M1061.3,662.4V668.9M1084.7,418.5V425M1084.7,662.4V668.9M1108.9,418.5V425M1108.9,662.4V668.9M1133.1,418.5V425M1133.1,662.4V668.9M1156.5,418.5V425M1156.5,662.4V668.9M1180.7,418.5V425M1180.7,662.4V668.9M1204.1,418.5V425M1204.1,662.4V668.9M1228.3,418.5V425M1228.3,662.4V668.9M1252.5,418.5V425M1252.5,662.4V668.9M1274.3,418.5V425M1274.3,662.4V668.9M1298.5,418.5V425M1298.5,662.4V668.9M1321.9,418.5V425M1321.9,662.4V668.9M1346.1,418.5V425M1346.1,662.4V668.9M1369.5,418.5V425M1369.5,662.4V668.9M1393.7,418.5V425M1393.7,662.4V668.9M1417.9,418.5V425M1417.9,662.4V668.9M1441.3,418.5V425M1441.3,662.4V668.9M1465.5,418.5V425M1465.5,662.4V668.9M1488.9,418.5V425M1488.9,662.4V668.9M1513.1,418.5V425M1513.1,662.4V668.9M1537.2,418.5V425M1537.2,662.4V668.9M1559.9,418.5V425M1559.9,662.4V668.9M1584.1,418.5V425M1584.1,662.4V668.9M1607.5,418.5V425M1607.5,662.4V668.9" stroke="#000" stroke-width="1.6" fill="none"/>
<text x="979.4" y="695.6" text-anchor="middle" class="s">F</text>
<text x="1001.3" y="695.6" text-anchor="middle" class="s">M</text>
<text x="1025.5" y="695.6" text-anchor="middle" class="s">A</text>
<text x="1048.9" y="695.6" text-anchor="middle" class="s">M</text>
<text x="1073.0" y="695.6" text-anchor="middle" class="s">J</text>
<text x="1096.5" y="695.6" text-anchor="middle" class="s">J</text>
<text x="1120.6" y="695.6" text-anchor="middle" class="s">A</text>
<text x="1144.8" y="695.6" text-anchor="middle" class="s">S</text>
<text x="1168.2" y="695.6" text-anchor="middle" class="s">O</text>
<text x="1192.4" y="695.6" text-anchor="middle" class="s">N</text>
<text x="1215.8" y="695.6" text-anchor="middle" class="s">D</text>
<text x="1240.0" y="695.6" text-anchor="middle" class="s">J</text>
<text x="1264.2" y="695.6" text-anchor="middle" class="s">F</text>
<text x="1286.0" y="695.6" text-anchor="middle" class="s">M</text>
<text x="1310.2" y="695.6" text-anchor="middle" class="s">A</text>
<text x="1333.6" y="695.6" text-anchor="middle" class="s">M</text>
<text x="1357.8" y="695.6" text-anchor="middle" class="s">J</text>
<text x="1381.2" y="695.6" text-anchor="middle" class="s">J</text>
<text x="1405.4" y="695.6" text-anchor="middle" class="s">A</text>
<text x="1429.6" y="695.6" text-anchor="middle" class="s">S</text>
<text x="1453.0" y="695.6" text-anchor="middle" class="s">O</text>
<text x="1477.2" y="695.6" text-anchor="middle" class="s">N</text>
<text x="1500.6" y="695.6" text-anchor="middle" class="s">D</text>
<text x="1524.8" y="695.6" text-anchor="middle" class="s">J</text>
<text x="1549.0" y="695.6" text-anchor="middle" class="s">F</text>
<text x="1571.6" y="695.6" text-anchor="middle" class="s">M</text>
<text x="1595.8" y="695.6" text-anchor="middle" class="s">A</text>
<text x="979.4" y="720.9" text-anchor="middle" class="s">2018</text>
<text x="1240.0" y="720.9" text-anchor="middle" class="s">2019</text>
<text x="1524.8" y="720.9" text-anchor="middle" class="s">2020</text>
<text x="1306.2" y="399.0" text-anchor="middle" class="t">123°E/18°N</text>
<text transform="translate(906,412) scale(0.93,1)" class="l">F</text>
<clipPath id="cpG"><rect x="964" y="794.2" width="643.5" height="237.4"/></clipPath>
<g clip-path="url(#cpG)">
<polygon points="964.0,836.0 970.0,830.0 978.0,822.0 986.0,815.0 1000.0,810.0 1016.0,809.0 1018.0,808.0 1578.0,808.0 1578.0,1032.0 964.0,1032.0" fill="#ffff44"/>
<polygon points="964.0,808.0 964.0,880.0 970.0,872.5 976.0,865.0 982.0,858.3 988.0,853.3 994.0,853.3 1000.0,863.3 1006.0,865.0 1012.0,850.0 1018.0,838.6 1024.0,834.3 1030.0,830.0 1036.0,824.0 1042.0,840.0 1048.0,863.8 1054.0,869.4 1060.0,875.0 1066.0,872.9 1072.0,870.8 1078.0,868.7 1084.0,870.4 1090.0,874.0 1096.0,877.6 1102.0,878.5 1108.0,874.0 1114.0,869.5 1120.0,865.0 1126.0,820.0 1132.0,860.0 1138.0,858.3 1144.0,856.7 1150.0,855.0 1156.0,853.5 1162.0,852.0 1168.0,850.5 1174.0,848.0 1180.0,845.0 1186.0,827.0 1192.0,815.0 1198.0,815.0 1204.0,815.0 1210.0,815.0 1216.0,820.0 1222.0,850.0 1228.0,853.3 1234.0,856.7 1240.0,860.0 1246.0,863.0 1252.0,866.0 1258.0,869.0 1264.0,871.0 1270.0,872.5 1276.0,874.0 1282.0,875.5 1288.0,877.0 1294.0,878.5 1300.0,880.0 1306.0,877.0 1312.0,874.0 1318.0,871.0 1324.0,862.0 1330.0,850.0 1336.0,832.0 1342.0,830.0 1348.0,852.9 1354.0,861.4 1360.0,870.0 1366.0,866.7 1372.0,863.3 1378.0,860.0 1384.0,845.0 1390.0,830.0 1396.0,824.0 1402.0,828.0 1408.0,852.0 1414.0,862.9 1420.0,867.1 1426.0,856.7 1432.0,829.5 1438.0,828.0 1444.0,826.5 1450.0,825.0 1456.0,870.0 1462.0,860.0 1468.0,812.0 1474.0,812.0 1480.0,812.0 1486.0,812.0 1492.0,824.0 1498.0,836.0 1504.0,844.0 1510.0,850.0 1516.0,856.0 1522.0,862.0 1528.0,868.0 1534.0,874.0 1540.0,880.0 1546.0,877.0 1552.0,874.0 1558.0,871.0 1564.0,867.8 1570.0,864.4 1576.0,861.1 1578.0,860.0 1578.0,808.0" fill="#ffe600"/>
<polygon points="964.0,808.0 964.0,808.0 970.0,808.0 976.0,808.0 982.0,808.0 988.0,808.0 994.0,808.0 1000.0,808.0 1006.0,808.0 1012.0,808.0 1018.0,808.0 1024.0,808.0 1030.0,808.0 1036.0,808.0 1042.0,808.0 1048.0,808.0 1054.0,808.0 1060.0,808.0 1066.0,808.0 1072.0,808.0 1078.0,808.0 1084.0,808.0 1090.0,808.0 1096.0,808.0 1102.0,808.0 1108.0,808.0 1114.0,808.0 1120.0,808.0 1126.0,808.0 1132.0,808.0 1138.0,808.0 1144.0,808.0 1150.0,808.0 1156.0,808.0 1162.0,808.0 1168.0,808.0 1174.0,808.0 1180.0,808.0 1186.0,849.3 1192.0,808.0 1198.0,808.0 1204.0,808.0 1210.0,808.0 1216.0,808.0 1222.0,808.0 1228.0,808.0 1234.0,829.0 1240.0,808.0 1246.0,808.0 1252.0,808.0 1258.0,808.0 1264.0,808.0 1270.0,808.0 1276.0,808.0 1282.0,808.0 1288.0,808.0 1294.0,808.0 1300.0,808.0 1306.0,835.0 1312.0,837.2 1318.0,836.0 1324.0,808.0 1330.0,808.0 1336.0,808.0 1342.0,808.0 1348.0,808.0 1354.0,808.0 1360.0,836.0 1366.0,833.0 1372.0,808.0 1378.0,808.0 1384.0,808.0 1390.0,808.0 1396.0,808.0 1402.0,808.0 1408.0,808.0 1414.0,808.0 1420.0,808.0 1426.0,808.0 1432.0,808.0 1438.0,808.0 1444.0,808.0 1450.0,808.0 1456.0,808.0 1462.0,808.0 1468.0,808.0 1474.0,808.0 1480.0,808.0 1486.0,808.0 1492.0,808.0 1498.0,808.0 1504.0,808.0 1510.0,808.0 1516.0,808.0 1522.0,808.0 1528.0,808.0 1534.0,808.0 1540.0,808.0 1546.0,808.0 1552.0,808.0 1558.0,808.0 1564.0,808.0 1570.0,808.0 1576.0,808.0 1578.0,808.0 1578.0,808.0" fill="#ff8800"/>
<polygon points="964.0,808.0 964.0,836.0 970.0,830.0 978.0,822.0 986.0,815.0 1000.0,810.0 1016.0,809.0 1018.0,808.0" fill="#ffffff"/>
<polygon points="964.0,860.0 984.0,860.0 984.0,1032.0 964.0,1032.0" fill="#ffe600"/>
<polygon points="1008.0,880.0 1020.0,880.0 1020.0,1032.0 1008.0,1032.0" fill="#ffe600"/>
<polygon points="1290.0,990.0 1298.0,990.0 1298.0,1032.0 1290.0,1032.0" fill="#ffe600"/>
<polygon points="984.0,1032.0 986.0,905.0 990.0,900.0 996.0,906.0 996.0,1032.0" fill="#aaf5ff"/>
<polygon points="1022.0,1032.0 1026.0,900.0 1030.0,890.0 1036.0,893.0 1046.0,920.0 1056.0,960.0 1056.0,1032.0" fill="#aaf5ff"/>
<polygon points="1026.0,1032.0 1028.0,940.0 1030.0,922.0 1033.0,940.0 1034.0,1032.0" fill="#88d8ff"/>
<polygon points="1072.0,1032.0 1076.0,940.0 1080.0,905.0 1088.0,902.0 1092.0,930.0 1092.0,1032.0" fill="#aaf5ff"/>
<polygon points="1082.0,1032.0 1084.0,950.0 1086.0,936.0 1088.0,950.0 1088.0,1032.0" fill="#88d8ff"/>
<polygon points="1036.0,808.0 1042.0,808.0 1041.0,832.0 1037.0,832.0" fill="#aaf5ff"/>
<polygon points="1126.0,808.0 1132.0,808.0 1131.0,836.0 1127.0,836.0" fill="#aaf5ff"/>
<clipPath id="sc112"><polygon points="1146.0,840.0 1158.0,840.0 1158.0,1032.0 1146.0,1032.0"/></clipPath><path clip-path="url(#sc112)" fill="#aaf5ff" d="M1155.4,882.6h1.7v37.8h-1.7zM1151.1,886.7h1.5v44.7h-1.5zM1146.7,948.1h1.6v26.5h-1.6zM1152.8,882.6h2.3v44.4h-2.3zM1154.3,888.3h1.7v17.2h-1.7zM1149.1,998.4h1.4v59.0h-1.4zM1152.8,850.3h1.9v48.1h-1.9zM1149.7,853.6h2.1v22.9h-2.1zM1145.1,899.8h1.1v28.4h-1.1zM1149.8,830.8h2.3v59.9h-2.3zM1147.4,952.7h1.5v13.2h-1.5zM1150.9,915.3h1.9v11.6h-1.9zM1149.8,851.3h1.6v16.7h-1.6zM1152.8,897.0h2.0v42.5h-2.0zM1146.5,897.5h2.4v28.4h-2.4zM1154.6,1011.2h2.4v17.9h-2.4zM1150.1,990.7h2.3v33.3h-2.3z"/>
<polygon points="1180.0,1032.0 1182.0,900.0 1186.0,880.0 1196.0,872.0 1212.0,876.0 1222.0,890.0 1228.0,910.0 1228.0,1032.0" fill="#aaf5ff"/>
<clipPath id="sc113"><polygon points="1180.0,845.0 1228.0,845.0 1228.0,900.0 1180.0,900.0"/></clipPath><path clip-path="url(#sc113)" fill="#aaf5ff" d="M1227.5,850.0h1.1v27.8h-1.1zM1215.0,872.1h1.8v21.2h-1.8zM1213.2,844.2h1.9v39.3h-1.9zM1212.7,842.7h1.6v29.0h-1.6zM1216.6,838.3h2.2v23.4h-2.2zM1199.2,853.7h1.5v10.5h-1.5zM1220.7,871.6h1.5v16.6h-1.5zM1187.6,884.4h1.5v24.9h-1.5zM1185.4,883.9h2.4v27.1h-2.4zM1199.3,859.9h1.3v11.6h-1.3zM1180.8,862.1h2.3v14.4h-2.3zM1202.9,878.1h1.1v29.9h-1.1zM1217.3,864.0h2.4v17.0h-2.4zM1200.6,892.7h2.4v12.4h-2.4zM1194.1,855.3h1.1v19.1h-1.1zM1219.1,851.8h2.5v15.7h-2.5zM1182.7,892.0h2.3v14.4h-2.3zM1189.0,862.2h1.0v29.3h-1.0zM1212.1,871.9h1.5v28.7h-1.5zM1190.6,860.2h1.2v34.9h-1.2zM1204.4,855.8h2.2v33.2h-2.2zM1208.0,869.2h1.2v36.4h-1.2zM1192.7,855.9h2.4v31.0h-2.4zM1221.0,872.6h1.3v18.3h-1.3zM1198.9,877.1h1.3v25.6h-1.3z"/>
<polygon points="1196.0,808.0 1206.0,808.0 1205.0,828.0 1197.0,828.0" fill="#aaf5ff"/>
<clipPath id="sc114"><polygon points="1180.0,900.0 1196.0,900.0 1196.0,1032.0 1180.0,1032.0"/></clipPath><path clip-path="url(#sc114)" fill="#ffff44" d="M1195.5,925.5h2.4v11.9h-2.4zM1184.6,948.8h1.7v36.5h-1.7zM1195.7,903.3h1.2v38.7h-1.2zM1187.7,991.3h1.2v22.1h-1.2zM1181.3,915.0h1.5v26.1h-1.5zM1188.5,969.2h1.1v24.6h-1.1zM1183.9,952.9h2.4v16.4h-2.4zM1182.9,948.1h2.4v16.5h-2.4zM1181.1,988.8h2.0v15.5h-2.0zM1178.4,920.1h1.9v25.7h-1.9zM1194.4,1021.3h1.2v18.4h-1.2zM1188.1,1009.1h2.3v18.6h-2.3zM1191.0,935.5h1.5v19.6h-1.5zM1192.9,959.3h1.7v18.3h-1.7zM1189.9,912.1h1.1v6.5h-1.1zM1187.6,938.5h2.0v13.6h-2.0zM1185.4,981.5h2.0v10.5h-2.0zM1195.8,1007.9h1.4v39.7h-1.4zM1188.1,991.6h2.4v38.0h-2.4z"/>
<clipPath id="sc115"><polygon points="1184.0,960.0 1200.0,960.0 1200.0,1010.0 1184.0,1010.0"/></clipPath><path clip-path="url(#sc115)" fill="#88d8ff" d="M1198.4,976.2h1.7v16.0h-1.7zM1184.2,954.4h1.1v31.5h-1.1zM1197.3,976.9h1.1v27.4h-1.1zM1197.8,959.0h1.3v34.7h-1.3zM1199.5,991.2h1.4v28.9h-1.4z"/>
<clipPath id="sc116"><polygon points="1228.0,880.0 1246.0,880.0 1246.0,1032.0 1228.0,1032.0"/></clipPath><path clip-path="url(#sc116)" fill="#aaf5ff" d="M1234.2,1006.1h1.7v27.4h-1.7zM1240.4,982.4h1.0v39.6h-1.0zM1242.4,972.8h2.2v12.8h-2.2zM1235.2,972.0h1.2v35.3h-1.2zM1227.0,875.2h1.1v29.1h-1.1zM1238.1,909.5h1.2v7.6h-1.2zM1241.6,923.5h1.3v33.7h-1.3zM1237.3,918.9h1.3v31.2h-1.3zM1236.0,898.0h1.5v18.4h-1.5zM1231.1,877.6h1.0v21.8h-1.0zM1242.7,870.1h1.4v28.9h-1.4zM1243.1,1006.7h2.2v16.3h-2.2zM1237.6,902.1h1.4v27.8h-1.4zM1245.0,888.4h2.4v28.3h-2.4zM1232.4,918.0h1.4v37.3h-1.4zM1232.4,882.3h1.4v34.1h-1.4zM1227.9,887.1h1.2v37.3h-1.2zM1242.7,1015.0h1.5v25.1h-1.5zM1232.6,943.8h1.7v28.9h-1.7zM1237.1,966.5h1.1v31.4h-1.1zM1245.6,973.8h2.3v34.0h-2.3zM1238.8,890.9h1.2v17.2h-1.2zM1229.1,933.9h1.6v19.2h-1.6zM1239.2,954.5h2.0v37.6h-2.0z"/>
<clipPath id="sc117"><polygon points="1260.0,900.0 1270.0,900.0 1270.0,1032.0 1260.0,1032.0"/></clipPath><path clip-path="url(#sc117)" fill="#aaf5ff" d="M1268.2,950.7h1.6v15.8h-1.6zM1262.2,972.0h1.8v24.7h-1.8zM1264.6,930.6h2.4v8.4h-2.4zM1258.6,901.3h2.0v27.2h-2.0zM1267.6,991.2h1.8v35.2h-1.8zM1265.3,939.4h1.2v17.9h-1.2zM1265.9,933.9h1.3v37.4h-1.3zM1267.2,988.0h1.7v29.8h-1.7zM1267.3,916.3h1.5v38.9h-1.5zM1261.7,1005.5h1.3v20.6h-1.3zM1260.8,990.3h1.0v33.8h-1.0zM1269.8,950.1h1.6v10.5h-1.6zM1260.5,964.8h2.5v17.0h-2.5zM1266.7,971.8h1.3v25.6h-1.3z"/>
<polygon points="1330.0,808.0 1340.0,808.0 1338.0,830.0 1332.0,830.0" fill="#aaf5ff"/>
<polygon points="1392.0,1032.0 1394.0,850.0 1397.0,840.0 1402.0,850.0 1402.0,1032.0" fill="#aaf5ff"/>
<clipPath id="sc118"><polygon points="1430.0,850.0 1450.0,850.0 1450.0,1032.0 1430.0,1032.0"/></clipPath><path clip-path="url(#sc118)" fill="#aaf5ff" d="M1434.1,920.7h1.1v20.8h-1.1zM1440.6,967.8h1.4v35.3h-1.4zM1438.1,861.9h2.4v22.8h-2.4zM1435.9,876.3h2.2v8.4h-2.2zM1439.1,935.4h2.1v21.6h-2.1zM1436.0,990.6h2.3v39.3h-2.3zM1449.5,872.5h2.1v29.7h-2.1zM1435.1,891.8h1.5v22.4h-1.5zM1449.4,990.9h1.3v37.3h-1.3zM1434.7,913.5h2.2v19.8h-2.2zM1438.9,920.5h1.0v10.0h-1.0zM1430.2,991.9h2.0v25.1h-2.0zM1436.4,905.7h1.6v22.3h-1.6zM1431.7,997.6h2.4v38.8h-2.4zM1434.1,996.4h2.2v34.0h-2.2zM1428.9,933.2h1.9v21.6h-1.9zM1447.1,904.6h1.3v15.8h-1.3zM1430.3,913.2h2.2v18.5h-2.2zM1443.1,971.2h1.3v11.2h-1.3zM1440.1,852.8h1.3v30.8h-1.3zM1448.1,985.1h1.1v29.9h-1.1zM1444.3,857.2h1.9v8.3h-1.9zM1449.4,933.1h2.2v9.0h-2.2zM1434.3,973.5h1.3v9.4h-1.3zM1444.7,876.3h1.4v8.7h-1.4zM1431.8,888.0h1.3v13.2h-1.3zM1431.4,918.2h1.1v6.5h-1.1zM1439.9,862.5h2.4v34.4h-2.4zM1439.3,944.5h2.4v15.1h-2.4zM1447.8,862.8h1.6v13.8h-1.6zM1434.5,839.1h1.5v29.5h-1.5zM1439.9,900.7h1.1v30.7h-1.1z"/>
<polygon points="1468.0,808.0 1486.0,808.0 1488.0,900.0 1492.0,960.0 1492.0,1032.0 1458.0,1032.0 1460.0,960.0 1466.0,900.0" fill="#aaf5ff"/>
<polygon points="1474.0,808.0 1478.0,808.0 1477.0,820.0 1475.0,820.0" fill="#88d8ff"/>
<clipPath id="sc119"><polygon points="1384.0,900.0 1458.0,900.0 1458.0,1032.0 1384.0,1032.0"/></clipPath><path clip-path="url(#sc119)" fill="#aaf5ff" d="M1455.9,938.8h1.1v32.0h-1.1zM1429.1,1011.1h2.4v20.6h-2.4zM1396.0,900.9h1.3v7.4h-1.3zM1389.6,935.6h1.7v10.2h-1.7zM1383.4,967.8h1.6v36.0h-1.6zM1393.9,904.7h2.4v30.9h-2.4zM1455.7,997.8h1.6v6.2h-1.6zM1457.0,937.3h2.2v28.1h-2.2zM1415.6,997.6h1.1v18.2h-1.1zM1409.2,885.9h1.0v35.1h-1.0zM1428.2,979.2h1.9v35.7h-1.9zM1384.2,1005.4h1.7v19.5h-1.7zM1396.6,965.7h1.9v10.5h-1.9zM1414.4,953.1h2.0v38.3h-2.0zM1455.0,946.3h2.0v8.1h-2.0zM1445.6,900.8h2.5v35.8h-2.5zM1406.1,952.3h1.7v22.5h-1.7zM1436.5,976.8h1.5v25.9h-1.5zM1409.2,969.2h2.2v33.0h-2.2zM1433.2,956.6h2.2v8.5h-2.2zM1440.7,979.9h1.2v15.9h-1.2zM1427.7,883.9h1.8v36.7h-1.8zM1441.8,970.5h2.0v23.4h-2.0zM1434.4,925.7h2.1v8.0h-2.1zM1444.1,1010.6h1.2v31.8h-1.2zM1432.4,971.4h1.5v38.4h-1.5zM1386.6,964.9h2.2v34.5h-2.2zM1409.0,1012.6h1.9v28.3h-1.9zM1397.7,896.1h1.3v34.2h-1.3zM1385.2,919.9h1.1v36.5h-1.1zM1453.3,1002.0h2.1v16.5h-2.1zM1445.3,975.5h1.7v29.6h-1.7zM1425.1,923.1h2.4v16.5h-2.4zM1406.8,886.2h1.0v31.1h-1.0zM1387.5,926.2h1.8v30.3h-1.8zM1386.9,986.8h2.3v25.9h-2.3zM1456.3,1019.2h1.4v19.6h-1.4zM1434.4,949.8h1.1v8.2h-1.1zM1452.9,920.2h1.3v17.3h-1.3zM1407.7,948.6h1.9v23.8h-1.9zM1429.2,900.1h2.0v9.4h-2.0zM1408.8,948.2h1.0v11.3h-1.0zM1443.9,964.1h1.8v10.9h-1.8zM1399.3,1014.3h2.3v24.4h-2.3zM1427.3,962.0h1.9v17.9h-1.9zM1451.0,967.4h2.1v11.1h-2.1zM1397.8,997.8h1.7v7.8h-1.7zM1429.1,937.2h1.7v25.7h-1.7zM1448.2,973.6h1.0v6.5h-1.0zM1431.2,929.9h2.3v31.0h-2.3zM1423.8,943.1h2.1v24.2h-2.1zM1451.5,1004.9h2.0v36.4h-2.0zM1410.5,915.6h1.1v24.6h-1.1zM1386.1,990.9h1.8v7.1h-1.8zM1440.9,1008.9h2.2v25.3h-2.2zM1421.9,930.3h1.2v14.7h-1.2zM1402.6,1012.0h2.1v23.3h-2.1zM1436.7,999.3h1.4v26.5h-1.4zM1455.6,958.8h1.2v17.2h-1.2zM1425.5,962.5h1.5v23.0h-1.5zM1386.5,979.5h1.3v22.9h-1.3zM1398.6,997.3h2.2v10.9h-2.2zM1430.5,946.5h2.1v11.4h-2.1zM1393.2,940.5h1.1v30.9h-1.1zM1413.1,1010.6h1.3v29.8h-1.3zM1433.6,900.1h1.0v21.5h-1.0zM1426.9,907.2h2.0v6.7h-2.0zM1451.7,966.5h1.2v29.1h-1.2zM1388.7,994.2h1.2v31.4h-1.2zM1385.9,906.2h1.4v27.7h-1.4zM1421.5,913.7h1.8v25.0h-1.8zM1414.9,910.4h1.5v18.3h-1.5zM1388.8,916.8h2.3v14.3h-2.3z"/>
<clipPath id="sc120"><polygon points="1336.0,950.0 1358.0,950.0 1358.0,1032.0 1336.0,1032.0"/></clipPath><path clip-path="url(#sc120)" fill="#aaf5ff" d="M1351.9,1005.5h2.1v38.0h-2.1zM1344.8,958.9h1.2v25.7h-1.2zM1357.4,971.0h2.3v17.2h-2.3zM1352.8,937.3h1.8v32.3h-1.8zM1342.2,952.9h2.1v9.6h-2.1zM1338.7,987.0h1.9v12.6h-1.9zM1346.7,995.4h1.6v24.2h-1.6zM1348.0,981.8h2.3v39.0h-2.3zM1352.8,951.3h1.9v17.8h-1.9zM1351.9,995.7h2.4v22.2h-2.4zM1343.8,949.8h1.1v20.4h-1.1zM1349.8,943.3h2.1v20.2h-2.1zM1354.0,1002.6h2.4v20.0h-2.4zM1351.3,1000.2h1.1v31.5h-1.1zM1348.1,1022.0h2.2v14.8h-2.2zM1345.3,986.2h1.4v18.8h-1.4z"/>
<polygon points="1358.0,1032.0 1360.0,940.0 1364.0,920.0 1372.0,918.0 1378.0,940.0 1384.0,1032.0" fill="#aaf5ff"/>
<polygon points="1364.0,1020.0 1365.0,940.0 1368.0,926.0 1371.0,940.0 1372.0,1020.0" fill="#88d8ff"/>
<clipPath id="sc121"><polygon points="1492.0,900.0 1550.0,900.0 1550.0,1032.0 1492.0,1032.0"/></clipPath><path clip-path="url(#sc121)" fill="#aaf5ff" d="M1500.0,975.2h2.0v9.3h-2.0zM1537.4,995.6h1.5v37.1h-1.5zM1524.2,992.6h1.6v34.2h-1.6zM1516.7,942.1h1.5v24.6h-1.5zM1499.2,908.8h1.6v20.1h-1.6zM1529.8,984.9h1.5v29.6h-1.5zM1496.1,934.2h2.1v33.8h-2.1zM1542.4,991.3h1.9v8.2h-1.9zM1496.0,900.3h1.6v7.4h-1.6zM1499.6,956.1h1.4v14.3h-1.4zM1528.0,1008.0h2.2v29.9h-2.2zM1495.3,912.7h1.8v7.1h-1.8zM1545.7,906.3h1.6v28.1h-1.6zM1518.3,922.7h1.7v27.9h-1.7zM1543.2,911.8h1.3v33.6h-1.3zM1515.6,976.7h1.4v22.5h-1.4zM1538.2,966.4h1.1v18.0h-1.1zM1533.3,900.3h1.1v32.9h-1.1zM1502.5,1004.7h2.0v22.8h-2.0zM1512.7,1002.3h2.2v38.6h-2.2zM1493.6,904.6h1.9v21.1h-1.9zM1539.0,973.5h1.8v8.0h-1.8zM1523.3,932.0h1.3v26.7h-1.3zM1546.3,980.8h1.2v37.6h-1.2zM1530.9,1020.7h2.4v8.2h-2.4zM1535.5,1013.8h2.0v31.7h-2.0zM1522.2,980.4h1.7v25.7h-1.7zM1505.8,993.5h1.2v19.1h-1.2zM1536.9,895.3h1.4v33.9h-1.4zM1495.0,973.5h1.4v29.8h-1.4zM1543.6,922.4h1.4v9.8h-1.4zM1518.9,959.2h2.4v25.9h-2.4zM1522.7,935.4h1.9v6.4h-1.9zM1534.5,944.0h1.8v38.3h-1.8zM1549.3,909.5h2.0v23.8h-2.0zM1543.0,980.4h2.1v11.1h-2.1zM1517.6,931.3h1.9v39.6h-1.9zM1549.9,989.1h1.5v19.6h-1.5zM1538.4,955.7h1.3v18.3h-1.3z"/>
<polygon points="1550.0,1032.0 1552.0,990.0 1558.0,975.0 1566.0,960.0 1578.0,955.0 1578.0,1032.0" fill="#aaf5ff"/>
<clipPath id="sc122"><polygon points="1500.0,870.0 1506.0,870.0 1506.0,1032.0 1500.0,1032.0"/></clipPath><path clip-path="url(#sc122)" fill="#aaf5ff" d="M1501.5,884.1h2.4v16.0h-2.4zM1503.2,961.3h2.5v11.3h-2.5zM1501.0,924.8h2.1v20.0h-2.1zM1500.9,988.1h1.1v16.9h-1.1zM1498.6,921.4h1.7v9.3h-1.7zM1501.3,991.2h2.5v6.9h-2.5zM1505.2,987.2h1.2v33.3h-1.2zM1500.4,980.7h1.2v37.7h-1.2zM1504.0,983.3h2.2v23.8h-2.2zM1505.7,962.5h2.2v16.5h-2.2zM1504.8,1024.5h1.5v10.1h-1.5zM1503.7,919.7h2.3v28.4h-2.3zM1504.4,939.7h1.2v37.5h-1.2z"/>
<clipPath id="sc123"><polygon points="1518.0,870.0 1524.0,870.0 1524.0,1032.0 1518.0,1032.0"/></clipPath><path clip-path="url(#sc123)" fill="#aaf5ff" d="M1516.6,1015.7h1.5v27.1h-1.5zM1517.9,882.3h2.2v40.0h-2.2zM1517.1,975.8h1.1v12.6h-1.1zM1522.2,909.7h1.5v33.7h-1.5zM1517.0,966.1h1.3v17.8h-1.3zM1523.2,935.3h1.3v11.1h-1.3zM1521.2,890.8h2.4v39.3h-2.4zM1522.1,945.7h1.2v14.4h-1.2zM1519.2,930.3h1.4v6.6h-1.4zM1519.0,930.1h1.1v14.5h-1.1zM1522.8,905.2h1.7v25.2h-1.7zM1518.4,955.1h1.1v16.3h-1.1zM1517.0,983.2h1.7v16.9h-1.7z"/>
</g>
<rect x="964" y="794.2" width="643.5" height="237.4" fill="none" stroke="#000" stroke-width="1.7"/>
<text x="944.5" y="860.3" text-anchor="end" class="s">200</text>
<text x="944.5" y="916.6" text-anchor="end" class="s">400</text>
<text x="944.5" y="972.8" text-anchor="end" class="s">600</text>
<text x="944.5" y="1029.1" text-anchor="end" class="s">800</text>
<path d="M957.5,849.5H964M1607.5,849.5H1614.0M957.5,905.8H964M1607.5,905.8H1614.0M957.5,962.0H964M1607.5,962.0H1614.0M957.5,1018.3H964M1607.5,1018.3H1614.0M967.7,787.7V794.2M967.7,1031.6000000000001V1038.1000000000001M989.5,787.7V794.2M989.5,1031.6000000000001V1038.1000000000001M1013.7,787.7V794.2M1013.7,1031.6000000000001V1038.1000000000001M1037.1,787.7V794.2M1037.1,1031.6000000000001V1038.1000000000001M1061.3,787.7V794.2M1061.3,1031.6000000000001V1038.1000000000001M1084.7,787.7V794.2M1084.7,1031.6000000000001V1038.1000000000001M1108.9,787.7V794.2M1108.9,1031.6000000000001V1038.1000000000001M1133.1,787.7V794.2M1133.1,1031.6000000000001V1038.1000000000001M1156.5,787.7V794.2M1156.5,1031.6000000000001V1038.1000000000001M1180.7,787.7V794.2M1180.7,1031.6000000000001V1038.1000000000001M1204.1,787.7V794.2M1204.1,1031.6000000000001V1038.1000000000001M1228.3,787.7V794.2M1228.3,1031.6000000000001V1038.1000000000001M1252.5,787.7V794.2M1252.5,1031.6000000000001V1038.1000000000001M1274.3,787.7V794.2M1274.3,1031.6000000000001V1038.1000000000001M1298.5,787.7V794.2M1298.5,1031.6000000000001V1038.1000000000001M1321.9,787.7V794.2M1321.9,1031.6000000000001V1038.1000000000001M1346.1,787.7V794.2M1346.1,1031.6000000000001V1038.1000000000001M1369.5,787.7V794.2M1369.5,1031.6000000000001V1038.1000000000001M1393.7,787.7V794.2M1393.7,1031.6000000000001V1038.1000000000001M1417.9,787.7V794.2M1417.9,1031.6000000000001V1038.1000000000001M1441.3,787.7V794.2M1441.3,1031.6000000000001V1038.1000000000001M1465.5,787.7V794.2M1465.5,1031.6000000000001V1038.1000000000001M1488.9,787.7V794.2M1488.9,1031.6000000000001V1038.1000000000001M1513.1,787.7V794.2M1513.1,1031.6000000000001V1038.1000000000001M1537.2,787.7V794.2M1537.2,1031.6000000000001V1038.1000000000001M1559.9,787.7V794.2M1559.9,1031.6000000000001V1038.1000000000001M1584.1,787.7V794.2M1584.1,1031.6000000000001V1038.1000000000001M1607.5,787.7V794.2M1607.5,1031.6000000000001V1038.1000000000001" stroke="#000" stroke-width="1.6" fill="none"/>
<text x="979.4" y="1064.8" text-anchor="middle" class="s">F</text>
<text x="1001.3" y="1064.8" text-anchor="middle" class="s">M</text>
<text x="1025.5" y="1064.8" text-anchor="middle" class="s">A</text>
<text x="1048.9" y="1064.8" text-anchor="middle" class="s">M</text>
<text x="1073.0" y="1064.8" text-anchor="middle" class="s">J</text>
<text x="1096.5" y="1064.8" text-anchor="middle" class="s">J</text>
<text x="1120.6" y="1064.8" text-anchor="middle" class="s">A</text>
<text x="1144.8" y="1064.8" text-anchor="middle" class="s">S</text>
<text x="1168.2" y="1064.8" text-anchor="middle" class="s">O</text>
<text x="1192.4" y="1064.8" text-anchor="middle" class="s">N</text>
<text x="1215.8" y="1064.8" text-anchor="middle" class="s">D</text>
<text x="1240.0" y="1064.8" text-anchor="middle" class="s">J</text>
<text x="1264.2" y="1064.8" text-anchor="middle" class="s">F</text>
<text x="1286.0" y="1064.8" text-anchor="middle" class="s">M</text>
<text x="1310.2" y="1064.8" text-anchor="middle" class="s">A</text>
<text x="1333.6" y="1064.8" text-anchor="middle" class="s">M</text>
<text x="1357.8" y="1064.8" text-anchor="middle" class="s">J</text>
<text x="1381.2" y="1064.8" text-anchor="middle" class="s">J</text>
<text x="1405.4" y="1064.8" text-anchor="middle" class="s">A</text>
<text x="1429.6" y="1064.8" text-anchor="middle" class="s">S</text>
<text x="1453.0" y="1064.8" text-anchor="middle" class="s">O</text>
<text x="1477.2" y="1064.8" text-anchor="middle" class="s">N</text>
<text x="1500.6" y="1064.8" text-anchor="middle" class="s">D</text>
<text x="1524.8" y="1064.8" text-anchor="middle" class="s">J</text>
<text x="1549.0" y="1064.8" text-anchor="middle" class="s">F</text>
<text x="1571.6" y="1064.8" text-anchor="middle" class="s">M</text>
<text x="1595.8" y="1064.8" text-anchor="middle" class="s">A</text>
<text x="979.4" y="1090.1" text-anchor="middle" class="s">2018</text>
<text x="1240.0" y="1090.1" text-anchor="middle" class="s">2019</text>
<text x="1524.8" y="1090.1" text-anchor="middle" class="s">2020</text>
<text x="1306.2" y="768.2" text-anchor="middle" class="t">123.3°E/18°N</text>
<text transform="translate(906,775) scale(0.93,1)" class="l">G</text>
<clipPath id="cpH"><rect x="964" y="1164" width="643.5" height="237.4"/></clipPath>
<g clip-path="url(#cpH)">
<polygon points="964.0,1178.0 1607.5,1178.0 1607.5,1402.0 964.0,1402.0" fill="#aaf5ff"/>
<polygon points="964.0,1402.0 965.0,1316.0 971.2,1320.0 976.0,1316.0 980.8,1320.0 987.0,1316.0 988.0,1402.0" fill="#ffff44"/>
<polygon points="998.0,1402.0 999.0,1310.0 1006.4,1304.0 1012.0,1300.0 1017.6,1304.0 1025.0,1310.0 1026.0,1402.0" fill="#ffff44"/>
<polygon points="1036.0,1402.0 1037.0,1300.0 1038.4,1294.0 1040.0,1290.0 1041.6,1294.0 1043.0,1300.0 1044.0,1402.0" fill="#ffff44"/>
<polygon points="1054.0,1402.0 1055.0,1300.0 1058.2,1304.0 1061.0,1300.0 1063.8,1304.0 1067.0,1300.0 1068.0,1402.0" fill="#ffff44"/>
<polygon points="1068.0,1402.0 1069.0,1296.0 1072.2,1294.0 1075.0,1290.0 1077.8,1294.0 1081.0,1296.0 1082.0,1402.0" fill="#ffff44"/>
<polygon points="1082.0,1402.0 1083.0,1260.0 1089.2,1250.0 1094.0,1246.0 1098.8,1250.0 1105.0,1260.0 1106.0,1402.0" fill="#ffff44"/>
<polygon points="1100.0,1402.0 1101.0,1260.0 1102.4,1250.0 1104.0,1246.0 1105.6,1250.0 1107.0,1260.0 1108.0,1402.0" fill="#ffff44"/>
<polygon points="1112.0,1402.0 1113.0,1250.0 1116.2,1240.0 1119.0,1236.0 1121.8,1240.0 1125.0,1250.0 1126.0,1402.0" fill="#ffff44"/>
<polygon points="1136.0,1402.0 1137.0,1270.0 1139.6,1264.0 1142.0,1260.0 1144.4,1264.0 1147.0,1270.0 1148.0,1402.0" fill="#ffff44"/>
<polygon points="1170.0,1402.0 1171.0,1256.0 1175.4,1252.0 1179.0,1248.0 1182.6,1252.0 1187.0,1256.0 1188.0,1402.0" fill="#ffff44"/>
<polygon points="1200.0,1402.0 1201.0,1280.0 1205.4,1274.0 1209.0,1270.0 1212.6,1274.0 1217.0,1280.0 1218.0,1402.0" fill="#ffff44"/>
<polygon points="1218.0,1402.0 1219.0,1250.0 1236.6,1244.0 1249.0,1240.0 1261.4,1244.0 1279.0,1250.0 1280.0,1402.0" fill="#ffff44"/>
<polygon points="1254.0,1402.0 1255.0,1246.0 1261.2,1244.0 1266.0,1240.0 1270.8,1244.0 1277.0,1246.0 1278.0,1402.0" fill="#ffff44"/>
<polygon points="1280.0,1402.0 1281.0,1340.0 1290.8,1334.0 1298.0,1330.0 1305.2,1334.0 1315.0,1340.0 1316.0,1402.0" fill="#ffff44"/>
<polygon points="1316.0,1402.0 1317.0,1270.0 1322.0,1264.0 1326.0,1260.0 1330.0,1264.0 1335.0,1270.0 1336.0,1402.0" fill="#ffff44"/>
<polygon points="1356.0,1402.0 1357.0,1280.0 1359.0,1268.0 1361.0,1264.0 1363.0,1268.0 1365.0,1280.0 1366.0,1402.0" fill="#ffff44"/>
<polygon points="1378.0,1402.0 1379.0,1290.0 1393.6,1274.0 1404.0,1270.0 1414.4,1274.0 1429.0,1290.0 1430.0,1402.0" fill="#ffff44"/>
<polygon points="1386.0,1402.0 1387.0,1270.0 1388.4,1268.0 1390.0,1264.0 1391.6,1268.0 1393.0,1270.0 1394.0,1402.0" fill="#ffff44"/>
<polygon points="1408.0,1402.0 1409.0,1276.0 1411.0,1272.0 1413.0,1268.0 1415.0,1272.0 1417.0,1276.0 1418.0,1402.0" fill="#ffff44"/>
<polygon points="1446.0,1402.0 1447.0,1300.0 1450.8,1294.0 1454.0,1290.0 1457.2,1294.0 1461.0,1300.0 1462.0,1402.0" fill="#ffff44"/>
<polygon points="1482.0,1402.0 1483.0,1300.0 1500.0,1294.0 1512.0,1290.0 1524.0,1294.0 1541.0,1300.0 1542.0,1402.0" fill="#ffff44"/>
<polygon points="1506.0,1402.0 1507.0,1270.0 1512.0,1270.0 1516.0,1266.0 1520.0,1270.0 1525.0,1270.0 1526.0,1402.0" fill="#ffff44"/>
<polygon points="1554.0,1402.0 1555.0,1320.0 1570.0,1304.0 1580.8,1300.0 1591.5,1304.0 1606.5,1320.0 1607.5,1402.0" fill="#ffff44"/>
<polygon points="1594.0,1402.0 1595.0,1272.0 1598.0,1272.0 1600.8,1268.0 1603.5,1272.0 1606.5,1272.0 1607.5,1402.0" fill="#ffff44"/>
<polygon points="964.0,1266.0 986.0,1264.0 988.0,1316.0 964.0,1316.0" fill="#ffff44"/>
<polygon points="988.0,1230.0 998.0,1230.0 998.0,1402.0 988.0,1402.0" fill="#aaf5ff"/>
<polygon points="1010.0,1270.0 1036.0,1270.0 1036.0,1402.0 1010.0,1402.0" fill="#aaf5ff"/>
<polygon points="1106.0,1250.0 1112.0,1250.0 1112.0,1402.0 1106.0,1402.0" fill="#aaf5ff"/>
<polygon points="1126.0,1250.0 1136.0,1250.0 1136.0,1402.0 1126.0,1402.0" fill="#aaf5ff"/>
<polygon points="1148.0,1250.0 1170.0,1250.0 1170.0,1402.0 1148.0,1402.0" fill="#aaf5ff"/>
<polygon points="1188.0,1250.0 1200.0,1250.0 1200.0,1402.0 1188.0,1402.0" fill="#aaf5ff"/>
<polygon points="1280.0,1250.0 1316.0,1250.0 1316.0,1402.0 1280.0,1402.0" fill="#aaf5ff"/>
<polygon points="1336.0,1250.0 1356.0,1250.0 1356.0,1402.0 1336.0,1402.0" fill="#aaf5ff"/>
<polygon points="1366.0,1250.0 1378.0,1250.0 1378.0,1402.0 1366.0,1402.0" fill="#aaf5ff"/>
<polygon points="1430.0,1250.0 1446.0,1250.0 1446.0,1402.0 1430.0,1402.0" fill="#aaf5ff"/>
<polygon points="1462.0,1250.0 1482.0,1250.0 1482.0,1402.0 1462.0,1402.0" fill="#aaf5ff"/>
<polygon points="1542.0,1290.0 1554.0,1290.0 1554.0,1402.0 1542.0,1402.0" fill="#aaf5ff"/>
<polygon points="1574.0,1290.0 1594.0,1290.0 1594.0,1402.0 1574.0,1402.0" fill="#aaf5ff"/>
<polygon points="1466.0,1280.0 1476.0,1280.0 1474.0,1320.0 1471.0,1332.0 1467.0,1320.0" fill="#88d8ff"/>
<clipPath id="sc124"><polygon points="1218.0,1280.0 1280.0,1280.0 1280.0,1372.0 1218.0,1372.0"/></clipPath><path clip-path="url(#sc124)" fill="#aaf5ff" d="M1251.8,1304.6h1.8v21.4h-1.8zM1244.7,1344.5h2.3v11.4h-2.3zM1234.5,1294.5h1.9v36.8h-1.9zM1221.3,1322.0h1.5v10.5h-1.5zM1277.5,1358.7h1.4v25.7h-1.4zM1240.5,1354.0h2.2v17.3h-2.2zM1232.2,1304.2h1.4v34.0h-1.4zM1262.9,1337.9h1.8v38.6h-1.8zM1271.7,1324.9h1.5v17.9h-1.5zM1219.9,1314.7h2.1v9.3h-2.1zM1268.3,1357.1h1.5v15.0h-1.5zM1228.6,1292.2h1.3v9.4h-1.3zM1278.6,1272.2h2.1v19.0h-2.1zM1270.4,1309.8h1.8v10.5h-1.8zM1271.9,1268.5h1.4v25.8h-1.4zM1243.3,1270.5h1.3v36.7h-1.3zM1243.1,1278.9h2.4v38.2h-2.4zM1265.6,1332.2h1.0v31.3h-1.0zM1234.4,1323.9h2.0v18.0h-2.0zM1248.9,1304.8h2.2v22.0h-2.2zM1233.4,1349.0h2.2v38.5h-2.2zM1232.0,1333.1h2.2v19.7h-2.2zM1279.6,1357.2h1.8v26.1h-1.8zM1226.6,1275.1h2.1v23.6h-2.1zM1259.5,1300.6h2.2v14.7h-2.2zM1227.5,1271.9h1.3v29.3h-1.3zM1238.8,1342.9h2.5v19.6h-2.5zM1231.4,1330.4h1.3v33.0h-1.3zM1240.4,1353.0h2.1v9.7h-2.1z"/>
<clipPath id="sc125"><polygon points="1378.0,1290.0 1430.0,1290.0 1430.0,1376.0 1378.0,1376.0"/></clipPath><path clip-path="url(#sc125)" fill="#aaf5ff" d="M1403.7,1362.0h1.2v22.7h-1.2zM1412.7,1287.0h2.2v32.9h-2.2zM1407.3,1288.2h2.4v20.7h-2.4zM1383.2,1280.0h1.5v34.6h-1.5zM1402.8,1322.7h1.5v17.9h-1.5zM1395.8,1313.1h1.3v6.1h-1.3zM1414.7,1315.4h1.8v25.0h-1.8zM1425.0,1332.9h1.6v28.0h-1.6zM1428.1,1364.8h1.0v16.2h-1.0zM1376.8,1294.0h1.4v13.2h-1.4zM1427.2,1299.3h1.1v39.4h-1.1zM1409.9,1349.2h1.0v37.1h-1.0zM1419.5,1330.1h1.5v35.3h-1.5zM1400.9,1357.1h2.0v29.9h-2.0zM1396.5,1321.7h1.1v19.9h-1.1zM1398.2,1324.1h2.3v8.6h-2.3zM1413.8,1330.4h1.6v26.8h-1.6z"/>
<clipPath id="sc126"><polygon points="1554.0,1300.0 1607.0,1300.0 1607.0,1376.0 1554.0,1376.0"/></clipPath><path clip-path="url(#sc126)" fill="#aaf5ff" d="M1557.1,1311.2h1.7v35.1h-1.7zM1563.2,1309.4h1.1v28.1h-1.1zM1560.3,1319.0h2.2v7.9h-2.2zM1586.4,1357.4h2.2v22.2h-2.2zM1561.7,1348.8h1.3v21.2h-1.3zM1571.8,1327.8h1.0v31.7h-1.0zM1569.9,1315.7h1.3v37.7h-1.3zM1569.4,1304.4h2.4v26.3h-2.4zM1586.4,1326.9h2.4v30.4h-2.4zM1572.1,1356.6h2.4v10.3h-2.4zM1588.1,1322.4h2.0v27.1h-2.0z"/>
<polygon points="964.0,1402.0 964.0,1316.0 988.0,1316.0 988.0,1402.0" fill="#ffe600"/>
<polygon points="1068.0,1402.0 1070.0,1316.0 1080.0,1300.0 1082.0,1316.0 1082.0,1402.0" fill="#ffe600"/>
<polygon points="1136.0,1402.0 1138.0,1300.0 1146.0,1296.0 1148.0,1402.0" fill="#ffe600"/>
<polygon points="1318.0,1402.0 1320.0,1290.0 1328.0,1286.0 1334.0,1300.0 1334.0,1402.0" fill="#ffe600"/>
<polygon points="1358.0,1402.0 1360.0,1300.0 1364.0,1300.0 1366.0,1402.0" fill="#ffe600"/>
<polygon points="1514.0,1402.0 1516.0,1310.0 1522.0,1306.0 1528.0,1320.0 1528.0,1402.0" fill="#ffe600"/>
<polygon points="969.0,1334.0 973.0,1334.0 973.0,1400.0 969.0,1400.0" fill="#ff8800"/>
<polygon points="1074.0,1316.0 1080.0,1316.0 1080.0,1380.0 1075.0,1380.0" fill="#ff8800"/>
<polygon points="1068.0,1364.0 1070.0,1364.0 1070.0,1402.0 1068.0,1402.0" fill="#ff8800"/>
<polygon points="1398.0,1330.0 1402.0,1330.0 1401.0,1388.0 1399.0,1388.0" fill="#ff8800"/>
<polygon points="964.0,1178.0 964.0,1256.0 970.0,1254.6 976.0,1253.2 982.0,1251.8 988.0,1250.5 994.0,1250.8 1000.0,1252.0 1006.0,1253.2 1012.0,1254.4 1018.0,1255.6 1024.0,1253.6 1030.0,1250.0 1036.0,1250.0 1042.0,1250.0 1048.0,1251.5 1054.0,1253.8 1060.0,1256.0 1066.0,1254.2 1072.0,1252.4 1078.0,1250.6 1084.0,1248.0 1090.0,1245.0 1096.0,1242.0 1102.0,1239.3 1108.0,1237.3 1114.0,1238.0 1120.0,1244.0 1126.0,1250.0 1132.0,1256.0 1138.0,1259.3 1144.0,1257.1 1150.0,1255.0 1156.0,1254.1 1162.0,1253.2 1168.0,1252.3 1174.0,1252.8 1180.0,1254.0 1186.0,1255.2 1192.0,1256.6 1198.0,1258.4 1204.0,1260.2 1210.0,1262.0 1216.0,1254.8 1222.0,1249.2 1228.0,1247.0 1234.0,1244.8 1240.0,1243.1 1246.0,1241.8 1252.0,1240.4 1258.0,1242.0 1264.0,1245.0 1270.0,1248.0 1276.0,1250.9 1282.0,1253.7 1288.0,1256.5 1294.0,1259.2 1300.0,1262.0 1306.0,1262.0 1312.0,1262.0 1318.0,1262.0 1324.0,1261.2 1330.0,1260.0 1336.0,1258.8 1342.0,1258.4 1348.0,1259.6 1354.0,1260.8 1360.0,1262.0 1366.0,1260.8 1372.0,1259.6 1378.0,1258.4 1384.0,1258.8 1390.0,1260.0 1396.0,1261.2 1402.0,1262.3 1408.0,1263.2 1414.0,1264.1 1420.0,1265.0 1426.0,1265.9 1432.0,1266.8 1438.0,1267.7 1444.0,1267.6 1450.0,1267.0 1456.0,1266.4 1462.0,1265.6 1468.0,1264.4 1474.0,1263.2 1480.0,1262.0 1486.0,1263.2 1492.0,1264.4 1498.0,1265.6 1504.0,1266.4 1510.0,1267.0 1516.0,1267.6 1522.0,1268.4 1528.0,1269.6 1534.0,1270.8 1540.0,1272.0 1546.0,1272.6 1552.0,1273.2 1558.0,1273.8 1564.0,1273.6 1570.0,1273.0 1576.0,1272.4 1582.0,1271.9 1588.0,1271.4 1594.0,1271.0 1600.0,1270.5 1606.0,1270.1 1607.5,1270.0 1607.5,1178.0" fill="#88d8ff"/>
<polygon points="964.0,1178.0 964.0,1240.0 970.0,1238.2 976.0,1236.3 982.0,1234.5 988.0,1232.6 994.0,1233.1 1000.0,1234.7 1006.0,1236.3 1012.0,1237.9 1018.0,1239.5 1024.0,1239.3 1030.0,1238.3 1036.0,1237.3 1042.0,1236.3 1048.0,1237.0 1054.0,1238.5 1060.0,1240.0 1066.0,1237.6 1072.0,1235.2 1078.0,1232.8 1084.0,1230.8 1090.0,1229.0 1096.0,1227.2 1102.0,1225.3 1108.0,1223.3 1114.0,1224.6 1120.0,1232.3 1126.0,1240.0 1132.0,1237.6 1138.0,1235.7 1144.0,1234.9 1150.0,1234.0 1156.0,1234.6 1162.0,1235.2 1168.0,1235.8 1174.0,1236.5 1180.0,1237.3 1186.0,1238.1 1192.0,1238.9 1198.0,1239.7 1204.0,1239.2 1210.0,1238.0 1216.0,1236.8 1222.0,1235.2 1228.0,1233.0 1234.0,1230.8 1240.0,1229.1 1246.0,1227.8 1252.0,1226.4 1258.0,1227.2 1264.0,1229.0 1270.0,1230.8 1276.0,1232.6 1282.0,1234.5 1288.0,1236.3 1294.0,1238.2 1300.0,1240.0 1306.0,1241.0 1312.0,1242.0 1318.0,1243.0 1324.0,1244.0 1330.0,1245.0 1336.0,1244.8 1342.0,1244.6 1348.0,1244.4 1354.0,1244.2 1360.0,1244.0 1366.0,1244.0 1372.0,1244.0 1378.0,1244.0 1384.0,1244.8 1390.0,1246.0 1396.0,1247.2 1402.0,1248.2 1408.0,1248.8 1414.0,1249.4 1420.0,1250.0 1426.0,1250.0 1432.0,1250.0 1438.0,1250.0 1444.0,1249.6 1450.0,1249.0 1456.0,1248.4 1462.0,1248.2 1468.0,1248.8 1474.0,1249.4 1480.0,1250.0 1486.0,1250.6 1492.0,1251.2 1498.0,1251.8 1504.0,1251.6 1510.0,1251.0 1516.0,1250.4 1522.0,1249.8 1528.0,1249.2 1534.0,1248.6 1540.0,1248.0 1546.0,1249.2 1552.0,1250.4 1558.0,1251.6 1564.0,1251.6 1570.0,1251.0 1576.0,1250.4 1582.0,1249.7 1588.0,1248.8 1594.0,1247.9 1600.0,1247.0 1606.0,1246.1 1607.5,1246.0 1607.5,1178.0" fill="#6cbbff"/>
<polygon points="964.0,1178.0 964.0,1230.0 970.0,1228.2 976.0,1226.3 982.0,1224.5 988.0,1222.6 994.0,1223.1 1000.0,1224.7 1006.0,1226.3 1012.0,1227.9 1018.0,1229.5 1024.0,1229.7 1030.0,1229.2 1036.0,1228.7 1042.0,1228.2 1048.0,1230.0 1054.0,1233.0 1060.0,1236.0 1066.0,1233.0 1072.0,1230.0 1078.0,1227.0 1084.0,1224.8 1090.0,1223.0 1096.0,1221.2 1102.0,1218.5 1108.0,1214.0 1114.0,1178.0 1120.0,1178.0 1126.0,1178.0 1132.0,1240.7 1138.0,1178.0 1144.0,1178.0 1150.0,1178.0 1156.0,1178.0 1162.0,1178.0 1168.0,1178.0 1174.0,1224.1 1180.0,1224.6 1186.0,1225.0 1192.0,1225.4 1198.0,1225.9 1204.0,1225.6 1210.0,1225.0 1216.0,1224.4 1222.0,1221.7 1228.0,1214.7 1234.0,1194.0 1240.0,1178.0 1246.0,1178.0 1252.0,1178.0 1258.0,1178.0 1264.0,1178.0 1270.0,1192.7 1276.0,1222.3 1282.0,1223.2 1288.0,1224.2 1294.0,1225.1 1300.0,1226.0 1306.0,1226.4 1312.0,1226.8 1318.0,1227.2 1324.0,1227.6 1330.0,1228.0 1336.0,1228.8 1342.0,1229.6 1348.0,1230.4 1354.0,1231.2 1360.0,1232.0 1366.0,1233.2 1372.0,1234.4 1378.0,1235.6 1384.0,1235.2 1390.0,1234.0 1396.0,1232.8 1402.0,1231.4 1408.0,1229.6 1414.0,1227.8 1420.0,1226.0 1426.0,1227.2 1432.0,1228.4 1438.0,1229.6 1444.0,1230.4 1450.0,1231.0 1456.0,1231.6 1462.0,1232.2 1468.0,1232.8 1474.0,1233.4 1480.0,1234.0 1486.0,1233.4 1492.0,1232.8 1498.0,1232.2 1504.0,1231.2 1510.0,1230.0 1516.0,1228.8 1522.0,1228.6 1528.0,1230.4 1534.0,1232.2 1540.0,1234.0 1546.0,1234.6 1552.0,1235.2 1558.0,1235.8 1564.0,1235.6 1570.0,1235.0 1576.0,1234.4 1582.0,1233.7 1588.0,1232.8 1594.0,1231.9 1600.0,1231.0 1606.0,1230.1 1607.5,1230.0 1607.5,1178.0" fill="#4490ff"/>
<polygon points="964.0,1178.0 964.0,1226.0 970.0,1226.0 976.0,1178.0 982.0,1178.0 988.0,1218.9 994.0,1215.4 1000.0,1212.0 1006.0,1214.4 1012.0,1216.8 1018.0,1219.2 1024.0,1218.7 1030.0,1226.0 1036.0,1224.3 1042.0,1222.6 1048.0,1223.6 1054.0,1226.0 1060.0,1224.0 1066.0,1222.0 1072.0,1219.4 1078.0,1216.9 1084.0,1215.6 1090.0,1215.0 1096.0,1214.4 1102.0,1213.0 1108.0,1210.0 1114.0,1178.0 1120.0,1178.0 1126.0,1178.0 1132.0,1238.7 1138.0,1178.0 1144.0,1178.0 1150.0,1178.0 1156.0,1178.0 1162.0,1178.0 1168.0,1178.0 1174.0,1220.1 1180.0,1220.6 1186.0,1221.0 1192.0,1221.4 1198.0,1221.9 1204.0,1221.6 1210.0,1221.0 1216.0,1220.4 1222.0,1216.7 1228.0,1206.7 1234.0,1189.0 1240.0,1178.0 1246.0,1178.0 1252.0,1178.0 1258.0,1178.0 1264.0,1178.0 1270.0,1191.3 1276.0,1218.2 1282.0,1218.6 1288.0,1219.1 1294.0,1219.5 1300.0,1220.0 1306.0,1220.4 1312.0,1220.8 1318.0,1221.2 1324.0,1221.6 1330.0,1222.0 1336.0,1222.6 1342.0,1223.2 1348.0,1223.8 1354.0,1224.3 1360.0,1224.7 1366.0,1225.1 1372.0,1225.5 1378.0,1225.9 1384.0,1225.2 1390.0,1224.0 1396.0,1222.8 1402.0,1221.0 1408.0,1218.0 1414.0,1215.0 1420.0,1204.7 1426.0,1211.0 1432.0,1222.1 1438.0,1222.5 1444.0,1222.9 1450.0,1223.3 1456.0,1223.7 1462.0,1224.2 1468.0,1224.8 1474.0,1225.4 1480.0,1226.0 1486.0,1224.8 1492.0,1223.6 1498.0,1222.4 1504.0,1222.4 1510.0,1223.0 1516.0,1223.6 1522.0,1224.2 1528.0,1224.8 1534.0,1225.4 1540.0,1226.0 1546.0,1226.0 1552.0,1226.0 1558.0,1226.0 1564.0,1225.6 1570.0,1225.0 1576.0,1224.4 1582.0,1223.9 1588.0,1223.4 1594.0,1223.0 1600.0,1222.5 1606.0,1222.1 1607.5,1222.0 1607.5,1178.0" fill="#2244ff"/>
<polygon points="964.0,1178.0 964.0,1178.0 970.0,1178.0 976.0,1178.0 982.0,1178.0 988.0,1200.0 994.0,1198.0 1000.0,1196.0 1006.0,1192.4 1012.0,1192.0 1018.0,1198.0 1024.0,1197.3 1030.0,1178.0 1036.0,1178.0 1042.0,1178.0 1048.0,1178.0 1054.0,1178.0 1060.0,1210.0 1066.0,1178.0 1072.0,1178.0 1078.0,1178.0 1084.0,1200.0 1090.0,1200.8 1096.0,1201.5 1102.0,1200.8 1108.0,1197.2 1114.0,1178.0 1120.0,1178.0 1126.0,1178.0 1132.0,1178.0 1138.0,1178.0 1144.0,1178.0 1150.0,1178.0 1156.0,1178.0 1162.0,1178.0 1168.0,1178.0 1174.0,1201.0 1180.0,1204.0 1186.0,1198.0 1192.0,1178.0 1198.0,1178.0 1204.0,1197.6 1210.0,1200.0 1216.0,1178.0 1222.0,1178.0 1228.0,1201.2 1234.0,1204.8 1240.0,1178.0 1246.0,1178.0 1252.0,1178.0 1258.0,1178.0 1264.0,1178.0 1270.0,1178.0 1276.0,1178.0 1282.0,1178.0 1288.0,1178.0 1294.0,1178.0 1300.0,1178.0 1306.0,1178.0 1312.0,1178.0 1318.0,1178.0 1324.0,1178.0 1330.0,1178.0 1336.0,1178.0 1342.0,1178.0 1348.0,1178.0 1354.0,1200.7 1360.0,1202.7 1366.0,1204.7 1372.0,1205.8 1378.0,1205.2 1384.0,1204.6 1390.0,1204.0 1396.0,1202.8 1402.0,1201.6 1408.0,1200.4 1414.0,1185.3 1420.0,1178.0 1426.0,1178.0 1432.0,1178.0 1438.0,1178.0 1444.0,1200.0 1450.0,1202.5 1456.0,1205.0 1462.0,1178.0 1468.0,1187.0 1474.0,1196.8 1480.0,1198.0 1486.0,1199.2 1492.0,1192.7 1498.0,1178.0 1504.0,1178.0 1510.0,1178.0 1516.0,1178.0 1522.0,1178.0 1528.0,1200.0 1534.0,1205.6 1540.0,1211.3 1546.0,1215.6 1552.0,1213.2 1558.0,1210.8 1564.0,1210.5 1570.0,1211.3 1576.0,1211.5 1582.0,1208.7 1588.0,1205.9 1594.0,1203.0 1600.0,1200.0 1606.0,1196.6 1607.5,1196.0 1607.5,1178.0" fill="#0000d2"/>
<clipPath id="sc127"><polygon points="1112.0,1178.0 1126.0,1178.0 1126.0,1230.0 1112.0,1230.0"/></clipPath><path clip-path="url(#sc127)" fill="#2244ff" d="M1110.5,1159.7h2.1v37.1h-2.1zM1112.8,1195.5h2.5v16.8h-2.5zM1119.8,1190.8h1.8v31.1h-1.8zM1117.4,1216.9h2.1v14.9h-2.1zM1111.9,1213.6h2.1v26.5h-2.1zM1113.2,1187.2h1.1v33.6h-1.1z"/>
<clipPath id="sc128"><polygon points="1138.0,1178.0 1168.0,1178.0 1168.0,1230.0 1138.0,1230.0"/></clipPath><path clip-path="url(#sc128)" fill="#2244ff" d="M1140.1,1211.6h1.3v26.9h-1.3zM1160.8,1214.4h1.3v21.7h-1.3zM1153.2,1207.4h1.9v29.2h-1.9zM1155.5,1187.6h1.3v29.3h-1.3zM1154.2,1197.3h1.6v6.2h-1.6zM1165.6,1202.9h1.9v21.4h-1.9zM1149.3,1220.4h2.0v13.5h-2.0zM1148.5,1179.7h1.5v11.5h-1.5zM1143.1,1212.6h2.2v28.8h-2.2zM1164.4,1177.6h1.7v17.4h-1.7zM1163.7,1186.8h1.4v20.1h-1.4zM1144.1,1191.0h1.8v11.7h-1.8zM1160.9,1168.8h2.1v33.7h-2.1zM1159.7,1188.7h1.7v11.4h-1.7z"/>
<clipPath id="sc129"><polygon points="1236.0,1178.0 1272.0,1178.0 1272.0,1220.0 1236.0,1220.0"/></clipPath><path clip-path="url(#sc129)" fill="#2244ff" d="M1265.8,1187.8h2.2v7.1h-2.2zM1253.6,1200.3h1.0v8.4h-1.0zM1237.7,1197.4h2.2v33.8h-2.2zM1252.0,1185.5h1.1v33.9h-1.1zM1236.2,1208.6h2.1v13.1h-2.1zM1237.9,1186.7h1.3v15.7h-1.3zM1269.9,1187.6h1.4v22.3h-1.4zM1260.3,1170.6h1.6v31.9h-1.6zM1243.6,1183.5h2.3v33.0h-2.3zM1259.7,1194.5h2.0v18.4h-2.0zM1240.5,1191.4h1.7v32.4h-1.7zM1268.2,1197.3h2.2v28.7h-2.2z"/>
<clipPath id="sc130"><polygon points="1274.0,1178.0 1350.0,1178.0 1350.0,1220.0 1274.0,1220.0"/></clipPath><path clip-path="url(#sc130)" fill="#6cbbff" d="M1337.6,1194.5h1.2v12.4h-1.2zM1314.6,1183.1h1.4v17.4h-1.4zM1300.3,1184.5h2.1v10.2h-2.1zM1312.0,1198.3h2.1v34.4h-2.1zM1292.2,1171.4h1.1v28.9h-1.1zM1274.4,1185.3h1.8v8.8h-1.8zM1335.4,1177.5h1.9v28.2h-1.9zM1346.5,1167.1h2.0v39.2h-2.0zM1318.6,1191.8h1.5v12.6h-1.5zM1344.4,1174.4h1.9v16.0h-1.9zM1330.6,1187.2h2.5v34.3h-2.5zM1346.5,1206.6h2.4v22.1h-2.4z"/>
<polygon points="968.0,1178.0 985.0,1178.0 986.0,1262.0 976.0,1266.0 968.0,1262.0" fill="#ffffff"/>
<polygon points="1026.0,1178.0 1029.0,1178.0 1029.0,1258.0 1027.0,1258.0" fill="#ffffff"/>
<polygon points="1045.0,1178.0 1053.0,1178.0 1053.0,1280.0 1051.0,1360.0 1049.0,1360.0 1046.0,1280.0" fill="#ffffff"/>
<polygon points="1065.0,1178.0 1070.0,1178.0 1070.0,1300.0 1068.0,1314.0 1066.0,1300.0" fill="#ffffff"/>
<polygon points="1071.0,1178.0 1075.0,1178.0 1075.0,1200.0 1072.0,1200.0" fill="#ffffff"/>
<polygon points="1053.0,1280.0 1058.0,1280.0 1058.0,1402.0 1053.0,1402.0" fill="#6cbbff"/>
<polygon points="964.0,1178.0 968.0,1178.0 968.0,1320.0 964.0,1320.0" fill="#88d8ff"/>
<polygon points="964.0,1178.0 968.0,1178.0 968.0,1244.0 964.0,1244.0" fill="#4490ff"/>
<polygon points="964.0,1402.0 1080.0,1402.0 1082.0,1380.0 1090.0,1376.0 1096.0,1374.0 1100.0,1378.0 1106.0,1384.0 1112.0,1378.0 1120.0,1376.0 1126.0,1384.0 1146.0,1402.0 1148.0,1378.0 1154.0,1376.0 1160.0,1380.0 1166.0,1386.0 1170.0,1380.0 1178.0,1377.0 1186.0,1378.0 1190.0,1402.0 1200.0,1402.0 1206.0,1382.0 1212.0,1386.0 1218.0,1380.0 1228.0,1376.0 1240.0,1374.0 1254.0,1372.0 1270.0,1374.0 1290.0,1380.0 1300.0,1395.0 1302.0,1402.0 1316.0,1402.0 1318.0,1380.0 1322.0,1378.0 1326.0,1402.0 1338.0,1402.0 1340.0,1390.0 1348.0,1388.0 1356.0,1390.0 1358.0,1402.0 1360.0,1402.0 1364.0,1380.0 1366.0,1402.0 1378.0,1402.0 1382.0,1380.0 1392.0,1378.0 1400.0,1376.0 1408.0,1378.0 1420.0,1377.0 1440.0,1378.0 1446.0,1382.0 1448.0,1402.0 1462.0,1402.0 1464.0,1390.0 1470.0,1396.0 1476.0,1402.0 1482.0,1402.0 1486.0,1382.0 1500.0,1380.0 1514.0,1378.0 1516.0,1402.0 1528.0,1402.0 1530.0,1378.0 1540.0,1376.0 1552.0,1380.0 1560.0,1378.0 1580.0,1378.0 1600.0,1376.0 1607.5,1376.0 1607.5,1402.0" fill="#ffffff"/>
</g>
<rect x="964" y="1164" width="643.5" height="237.4" fill="none" stroke="#000" stroke-width="1.7"/>
<text x="944.5" y="1230.1" text-anchor="end" class="s">200</text>
<text x="944.5" y="1286.4" text-anchor="end" class="s">400</text>
<text x="944.5" y="1342.6" text-anchor="end" class="s">600</text>
<text x="944.5" y="1398.9" text-anchor="end" class="s">800</text>
<path d="M957.5,1219.3H964M1607.5,1219.3H1614.0M957.5,1275.6H964M1607.5,1275.6H1614.0M957.5,1331.8H964M1607.5,1331.8H1614.0M957.5,1388.1H964M1607.5,1388.1H1614.0M970.0,1157.5V1164M970.0,1401.4V1407.9M997.8,1157.5V1164M997.8,1401.4V1407.9M1026.5,1157.5V1164M1026.5,1401.4V1407.9M1055.3,1157.5V1164M1055.3,1401.4V1407.9M1084.5,1157.5V1164M1084.5,1401.4V1407.9M1113.2,1157.5V1164M1113.2,1401.4V1407.9M1142.0,1157.5V1164M1142.0,1401.4V1407.9M1170.3,1157.5V1164M1170.3,1401.4V1407.9M1199.0,1157.5V1164M1199.0,1401.4V1407.9M1227.7,1157.5V1164M1227.7,1401.4V1407.9M1257.0,1157.5V1164M1257.0,1401.4V1407.9M1285.7,1157.5V1164M1285.7,1401.4V1407.9M1314.4,1157.5V1164M1314.4,1401.4V1407.9M1342.2,1157.5V1164M1342.2,1401.4V1407.9M1371.0,1157.5V1164M1371.0,1401.4V1407.9M1399.7,1157.5V1164M1399.7,1401.4V1407.9M1428.9,1157.5V1164M1428.9,1401.4V1407.9M1457.7,1157.5V1164M1457.7,1401.4V1407.9M1486.4,1157.5V1164M1486.4,1401.4V1407.9M1514.2,1157.5V1164M1514.2,1401.4V1407.9M1543.0,1157.5V1164M1543.0,1401.4V1407.9M1571.7,1157.5V1164M1571.7,1401.4V1407.9M1600.9,1157.5V1164M1600.9,1401.4V1407.9" stroke="#000" stroke-width="1.6" fill="none"/>
<text x="984.7" y="1434.6" text-anchor="middle" class="s">J</text>
<text x="1013.0" y="1434.6" text-anchor="middle" class="s">M</text>
<text x="1041.7" y="1434.6" text-anchor="middle" class="s">M</text>
<text x="1070.7" y="1434.6" text-anchor="middle" class="s">J</text>
<text x="1099.7" y="1434.6" text-anchor="middle" class="s">S</text>
<text x="1128.4" y="1434.6" text-anchor="middle" class="s">N</text>
<text x="1156.9" y="1434.6" text-anchor="middle" class="s">J</text>
<text x="1185.4" y="1434.6" text-anchor="middle" class="s">M</text>
<text x="1214.2" y="1434.6" text-anchor="middle" class="s">M</text>
<text x="1243.2" y="1434.6" text-anchor="middle" class="s">J</text>
<text x="1272.1" y="1434.6" text-anchor="middle" class="s">S</text>
<text x="1300.9" y="1434.6" text-anchor="middle" class="s">N</text>
<text x="1329.1" y="1434.6" text-anchor="middle" class="s">J</text>
<text x="1357.4" y="1434.6" text-anchor="middle" class="s">M</text>
<text x="1386.2" y="1434.6" text-anchor="middle" class="s">M</text>
<text x="1415.1" y="1434.6" text-anchor="middle" class="s">J</text>
<text x="1444.1" y="1434.6" text-anchor="middle" class="s">S</text>
<text x="1472.9" y="1434.6" text-anchor="middle" class="s">N</text>
<text x="1501.1" y="1434.6" text-anchor="middle" class="s">J</text>
<text x="1529.4" y="1434.6" text-anchor="middle" class="s">M</text>
<text x="1558.2" y="1434.6" text-anchor="middle" class="s">M</text>
<text x="1587.1" y="1434.6" text-anchor="middle" class="s">J</text>
<text x="984.7" y="1459.9" text-anchor="middle" class="s">2011</text>
<text x="1156.9" y="1459.9" text-anchor="middle" class="s">2012</text>
<text x="1329.1" y="1459.9" text-anchor="middle" class="s">2013</text>
<text x="1501.1" y="1459.9" text-anchor="middle" class="s">2014</text>
<text x="1306.2" y="1138.0" text-anchor="middle" class="t">127°E/8°N</text>
<text transform="translate(906,1145) scale(0.93,1)" class="l">H</text>
<rect x="1645.5" y="377.00" width="48.5" height="48.75" fill="#990000"/>
<rect x="1645.5" y="425.25" width="48.5" height="48.75" fill="#cc0000"/>
<rect x="1645.5" y="473.50" width="48.5" height="48.75" fill="#ff0000"/>
<rect x="1645.5" y="521.75" width="48.5" height="48.75" fill="#ff4500"/>
<rect x="1645.5" y="570.00" width="48.5" height="48.75" fill="#ff8800"/>
<rect x="1645.5" y="618.25" width="48.5" height="48.75" fill="#ffbb00"/>
<rect x="1645.5" y="666.50" width="48.5" height="48.75" fill="#ffe600"/>
<rect x="1645.5" y="714.75" width="48.5" height="48.75" fill="#ffff44"/>
<rect x="1645.5" y="763.00" width="48.5" height="48.75" fill="#ccffff"/>
<rect x="1645.5" y="811.25" width="48.5" height="48.75" fill="#aaf5ff"/>
<rect x="1645.5" y="859.50" width="48.5" height="48.75" fill="#99e8ff"/>
<rect x="1645.5" y="907.75" width="48.5" height="48.75" fill="#88d8ff"/>
<rect x="1645.5" y="956.00" width="48.5" height="48.75" fill="#6cbbff"/>
<rect x="1645.5" y="1004.25" width="48.5" height="48.75" fill="#4490ff"/>
<rect x="1645.5" y="1052.50" width="48.5" height="48.75" fill="#2244ff"/>
<rect x="1645.5" y="1100.75" width="48.5" height="48.75" fill="#0000d2"/>
<rect x="1645.5" y="377" width="48.5" height="772" fill="none" stroke="#000" stroke-width="1.9"/>
<text x="1705" y="391.0" class="c"><tspan style="font-family:NanumGothic,sans-serif;font-weight:bold">1</tspan></text>
<text x="1705" y="584.0" class="c">0.5</text>
<text x="1705" y="777.0" class="c">0</text>
<text x="1705" y="970.0" class="c">-0.5</text>
<text x="1705" y="1163.0" class="c">-<tspan style="font-family:NanumGothic,sans-serif;font-weight:bold">1</tspan></text>
<path d="M1645.5,377.0h8M1694,377.0h-8M1645.5,570.0h8M1694,570.0h-8M1645.5,763.0h8M1694,763.0h-8M1645.5,956.0h8M1694,956.0h-8M1645.5,1149.0h8M1694,1149.0h-8" stroke="#000" stroke-width="1.8"/>
</svg></body></html>
